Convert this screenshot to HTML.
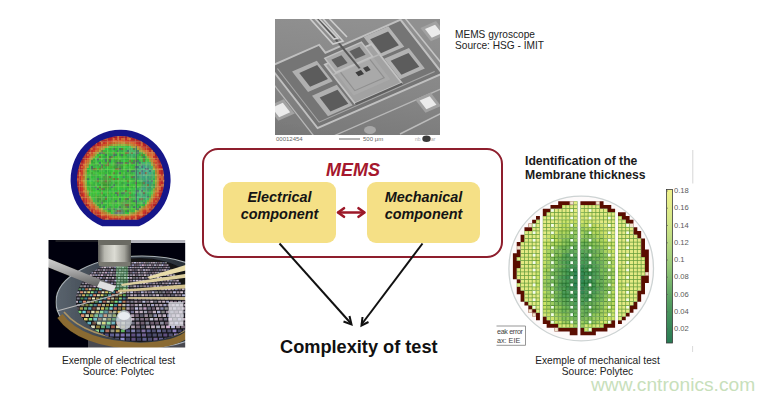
<!DOCTYPE html><html><head><meta charset="utf-8"><style>
*{margin:0;padding:0;box-sizing:border-box}
html,body{width:775px;height:400px;overflow:hidden;background:#fff}
body{position:relative;font-family:"Liberation Sans",sans-serif;color:#111}
.abs{position:absolute}
.t{position:absolute;white-space:nowrap;line-height:1}
</style></head><body>
<svg class="abs" style="left:275px;top:19px" width="165" height="125" viewBox="275 19 165 125"><defs><clipPath id="semc"><rect x="275" y="19" width="165" height="116"/></clipPath><filter id="sblur" x="-5%" y="-5%" width="110%" height="110%"><feGaussianBlur stdDeviation="0.6"/></filter><linearGradient id="semg" x1="0.2" y1="0" x2="0" y2="1"><stop offset="0" stop-color="#909090"/><stop offset="0.5" stop-color="#868686"/><stop offset="1" stop-color="#767676"/></linearGradient></defs><rect x="275" y="19" width="165" height="125" fill="#ffffff"/><g clip-path="url(#semc)"><g filter="url(#sblur)"><rect x="270" y="14" width="175" height="126" fill="url(#semg)"/><g transform="matrix(0.917,-0.402,0.614,0.790,370,37.4)"><g fill="none" stroke="#b8b8b8" stroke-width="1.3"><line x1="-220" y1="78" x2="140" y2="78"/><line x1="-108" y1="-14" x2="-108" y2="140"/></g><polygon points="-100,-14 -46,-14 -46,-4 36,-4 36,64 -100,64" fill="#747474" stroke="#c0c0c0" stroke-width="2"/><polyline points="-95,-9 -95,59 31,59" fill="none" stroke="#a6a6a6" stroke-width="1.1"/><rect x="-85" y="0" width="27" height="26" fill="#b0b0b0"/><rect x="-84" y="31" width="27" height="26" fill="#b0b0b0"/><rect x="-5" y="-3" width="27" height="26" fill="#b4b4b4"/><rect x="-2" y="26" width="27" height="26" fill="#b2b2b2"/><rect x="-54" y="7" width="51" height="49" fill="#a2a2a2" stroke="#c2c2c2" stroke-width="1.8"/><rect x="-50" y="11" width="40" height="37" fill="#a9a9a9"/><rect x="-46" y="18" width="32" height="26" fill="none" stroke="#909090" stroke-width="1.2"/><line x1="-54" y1="20" x2="-3" y2="20" stroke="#b8b8b8" stroke-width="1.5"/><line x1="-54" y1="57" x2="-3" y2="57" stroke="#5e5e5e" stroke-width="2"/><rect x="-1.0" y="1.8" width="19.5" height="17.6" fill="#5c5c5c"/><rect x="2.0" y="30.6" width="19.5" height="17.6" fill="#5c5c5c"/><rect x="-80.0" y="4.3" width="19.5" height="17.6" fill="#5c5c5c"/><rect x="-79.0" y="36.0" width="19.5" height="17.6" fill="#5c5c5c"/><rect x="-50" y="1" width="40" height="18" fill="#a8a8a8" stroke="#c0c0c0" stroke-width="1.5"/><rect x="-45.5" y="5" width="11" height="10" fill="#5e5e5e"/><rect x="-25.5" y="4.5" width="11" height="10" fill="#616161"/><rect x="-34" y="27" width="6" height="5" fill="#3c3c3c"/><rect x="-25" y="26" width="5" height="5" fill="#434343"/><line x1="-30" y1="-40" x2="-28" y2="25" stroke="#585858" stroke-width="2.2"/></g><g fill="none" stroke="#cdcdcd" stroke-width="1.6"><polyline points="304,12 333,44 343,41 317,12"/><polyline points="309,12 334,39 338,38 313,12"/><line x1="323" y1="12" x2="347" y2="37"/></g><line x1="405" y1="18" x2="442" y2="64" stroke="#c4c4c4" stroke-width="1.5"/><line x1="400" y1="134" x2="442" y2="113" stroke="#bcbcbc" stroke-width="1.4"/><g transform="matrix(0.917,-0.402,0.614,0.790,370,37.4)"><rect x="47.0" y="11.9" width="17.0" height="17.0" fill="#a2a2a2"/><rect x="50.0" y="14.9" width="11.0" height="11.0" fill="#ebebeb"/><rect x="-2.6" y="77.2" width="17.0" height="17.0" fill="#a2a2a2"/><rect x="0.4" y="80.2" width="11.0" height="11.0" fill="#ebebeb"/><rect x="-127.3" y="22.7" width="18.0" height="18.0" fill="#a2a2a2"/><rect x="-124.3" y="25.7" width="12.0" height="12.0" fill="#ebebeb"/></g><ellipse cx="370" cy="130" rx="6" ry="4" fill="#a8a8a8"/></g></g><text x="276" y="140.8" font-family="Liberation Sans" font-size="6" fill="#666">00012454</text><line x1="339" y1="139" x2="360" y2="139" stroke="#555" stroke-width="0.9"/><text x="363" y="140.8" font-family="Liberation Sans" font-size="6" fill="#666">500 μm</text><text x="415" y="140.8" font-family="Liberation Sans" font-size="5" fill="#aaa">nb</text><ellipse cx="426.5" cy="138.8" rx="4.2" ry="3.3" fill="#3a3a3a"/><text x="431" y="140.8" font-family="Liberation Sans" font-size="5" fill="#aaa">ar</text></svg>
<svg class="abs" style="left:0;top:0" width="775" height="400" viewBox="0 0 775 400"><defs><clipPath id="ewc"><path d="M102.22 226.30 A50.00 50.00 0 1 1 138.98 226.30 Z"/></clipPath><clipPath id="ewi"><path d="M103.00 219.80 A43.70 43.70 0 1 1 138.20 219.80 Z"/></clipPath><filter id="soft" x="-5%" y="-5%" width="110%" height="110%"><feGaussianBlur stdDeviation="0.45"/></filter></defs><g filter="url(#soft)"><path d="M102.22 226.30 A50.00 50.00 0 1 1 138.98 226.30 Z" fill="#19198a"/><g clip-path="url(#ewi)"><path fill="#a01e28" d="M104.9 136.1h2.05v2.05h-2.05zM106.9 136.1h2.05v2.05h-2.05zM108.9 136.1h2.05v2.05h-2.05zM128.9 136.1h2.05v2.05h-2.05zM132.9 136.1h2.05v2.05h-2.05zM100.9 138.1h2.05v2.05h-2.05zM136.9 138.1h2.05v2.05h-2.05zM138.9 138.1h2.05v2.05h-2.05zM96.9 140.1h2.05v2.05h-2.05zM142.9 140.1h2.05v2.05h-2.05zM90.9 144.1h2.05v2.05h-2.05zM92.9 144.1h2.05v2.05h-2.05zM88.9 146.1h2.05v2.05h-2.05zM148.9 146.1h2.05v2.05h-2.05zM86.9 148.1h2.05v2.05h-2.05zM150.9 148.1h2.05v2.05h-2.05zM84.9 150.1h2.05v2.05h-2.05zM152.9 150.1h2.05v2.05h-2.05zM84.9 152.1h2.05v2.05h-2.05zM154.9 152.1h2.05v2.05h-2.05zM82.9 154.1h2.05v2.05h-2.05zM156.9 154.1h2.05v2.05h-2.05zM80.9 158.1h2.05v2.05h-2.05zM158.9 158.1h2.05v2.05h-2.05zM78.9 160.1h2.05v2.05h-2.05zM160.9 162.1h2.05v2.05h-2.05zM76.9 164.1h2.05v2.05h-2.05zM76.9 166.1h2.05v2.05h-2.05zM162.9 166.1h2.05v2.05h-2.05zM76.9 168.1h2.05v2.05h-2.05zM162.9 168.1h2.05v2.05h-2.05zM162.9 170.1h2.05v2.05h-2.05zM162.9 172.1h2.05v2.05h-2.05zM162.9 186.1h2.05v2.05h-2.05zM76.9 188.1h2.05v2.05h-2.05zM162.9 188.1h2.05v2.05h-2.05zM76.9 190.1h2.05v2.05h-2.05zM162.9 190.1h2.05v2.05h-2.05zM76.9 192.1h2.05v2.05h-2.05zM160.9 194.1h2.05v2.05h-2.05zM78.9 196.1h2.05v2.05h-2.05zM78.9 198.1h2.05v2.05h-2.05zM80.9 200.1h2.05v2.05h-2.05zM80.9 202.1h2.05v2.05h-2.05zM156.9 202.1h2.05v2.05h-2.05zM82.9 204.1h2.05v2.05h-2.05zM156.9 204.1h2.05v2.05h-2.05zM154.9 206.1h2.05v2.05h-2.05zM86.9 208.1h2.05v2.05h-2.05zM150.9 210.1h2.05v2.05h-2.05zM90.9 212.1h2.05v2.05h-2.05zM92.9 214.1h2.05v2.05h-2.05zM146.9 214.1h2.05v2.05h-2.05zM94.9 216.1h2.05v2.05h-2.05zM142.9 216.1h2.05v2.05h-2.05zM98.9 218.1h2.05v2.05h-2.05zM138.9 218.1h2.05v2.05h-2.05zM140.9 218.1h2.05v2.05h-2.05zM102.9 220.1h2.05v2.05h-2.05zM104.9 220.1h2.05v2.05h-2.05zM106.9 220.1h2.05v2.05h-2.05zM108.9 220.1h2.05v2.05h-2.05zM110.9 220.1h2.05v2.05h-2.05zM114.9 220.1h2.05v2.05h-2.05zM116.9 220.1h2.05v2.05h-2.05zM118.9 220.1h2.05v2.05h-2.05zM122.9 220.1h2.05v2.05h-2.05zM124.9 220.1h2.05v2.05h-2.05zM126.9 220.1h2.05v2.05h-2.05zM128.9 220.1h2.05v2.05h-2.05zM132.9 220.1h2.05v2.05h-2.05zM134.9 220.1h2.05v2.05h-2.05zM106.9 222.1h2.05v2.05h-2.05zM108.9 222.1h2.05v2.05h-2.05zM110.9 222.1h2.05v2.05h-2.05zM114.9 222.1h2.05v2.05h-2.05zM116.9 222.1h2.05v2.05h-2.05zM120.9 222.1h2.05v2.05h-2.05zM122.9 222.1h2.05v2.05h-2.05zM124.9 222.1h2.05v2.05h-2.05zM126.9 222.1h2.05v2.05h-2.05zM128.9 222.1h2.05v2.05h-2.05zM130.9 222.1h2.05v2.05h-2.05z"/><path fill="#aa1e28" d="M110.9 136.1h2.05v2.05h-2.05zM112.9 136.1h2.05v2.05h-2.05zM114.9 136.1h2.05v2.05h-2.05zM124.9 136.1h2.05v2.05h-2.05zM134.9 138.1h2.05v2.05h-2.05zM100.9 140.1h2.05v2.05h-2.05zM138.9 140.1h2.05v2.05h-2.05zM96.9 142.1h2.05v2.05h-2.05zM142.9 142.1h2.05v2.05h-2.05zM144.9 144.1h2.05v2.05h-2.05zM90.9 146.1h2.05v2.05h-2.05zM88.9 148.1h2.05v2.05h-2.05zM86.9 150.1h2.05v2.05h-2.05zM154.9 154.1h2.05v2.05h-2.05zM82.9 156.1h2.05v2.05h-2.05zM156.9 156.1h2.05v2.05h-2.05zM80.9 160.1h2.05v2.05h-2.05zM158.9 160.1h2.05v2.05h-2.05zM78.9 164.1h2.05v2.05h-2.05zM160.9 166.1h2.05v2.05h-2.05zM76.9 170.1h2.05v2.05h-2.05zM76.9 172.1h2.05v2.05h-2.05zM76.9 174.1h2.05v2.05h-2.05zM162.9 176.1h2.05v2.05h-2.05zM162.9 178.1h2.05v2.05h-2.05zM162.9 182.1h2.05v2.05h-2.05zM76.9 184.1h2.05v2.05h-2.05zM76.9 186.1h2.05v2.05h-2.05zM160.9 192.1h2.05v2.05h-2.05zM158.9 196.1h2.05v2.05h-2.05zM156.9 200.1h2.05v2.05h-2.05zM82.9 202.1h2.05v2.05h-2.05zM84.9 204.1h2.05v2.05h-2.05zM154.9 204.1h2.05v2.05h-2.05zM146.9 212.1h2.05v2.05h-2.05zM94.9 214.1h2.05v2.05h-2.05zM144.9 214.1h2.05v2.05h-2.05zM96.9 216.1h2.05v2.05h-2.05zM140.9 216.1h2.05v2.05h-2.05zM100.9 218.1h2.05v2.05h-2.05zM136.9 218.1h2.05v2.05h-2.05z"/><path fill="#c85a32" d="M116.9 136.1h2.05v2.05h-2.05zM126.9 136.1h2.05v2.05h-2.05zM130.9 136.1h2.05v2.05h-2.05zM102.9 138.1h2.05v2.05h-2.05zM104.9 138.1h2.05v2.05h-2.05zM98.9 140.1h2.05v2.05h-2.05zM140.9 140.1h2.05v2.05h-2.05zM94.9 142.1h2.05v2.05h-2.05zM140.9 142.1h2.05v2.05h-2.05zM144.9 142.1h2.05v2.05h-2.05zM146.9 144.1h2.05v2.05h-2.05zM150.9 150.1h2.05v2.05h-2.05zM152.9 152.1h2.05v2.05h-2.05zM80.9 156.1h2.05v2.05h-2.05zM78.9 162.1h2.05v2.05h-2.05zM160.9 164.1h2.05v2.05h-2.05zM160.9 168.1h2.05v2.05h-2.05zM162.9 174.1h2.05v2.05h-2.05zM76.9 178.1h2.05v2.05h-2.05zM162.9 180.1h2.05v2.05h-2.05zM162.9 184.1h2.05v2.05h-2.05zM78.9 194.1h2.05v2.05h-2.05zM80.9 196.1h2.05v2.05h-2.05zM160.9 196.1h2.05v2.05h-2.05zM80.9 198.1h2.05v2.05h-2.05zM158.9 198.1h2.05v2.05h-2.05zM158.9 200.1h2.05v2.05h-2.05zM84.9 206.1h2.05v2.05h-2.05zM86.9 206.1h2.05v2.05h-2.05zM152.9 206.1h2.05v2.05h-2.05zM152.9 208.1h2.05v2.05h-2.05zM88.9 210.1h2.05v2.05h-2.05zM148.9 210.1h2.05v2.05h-2.05zM92.9 212.1h2.05v2.05h-2.05zM148.9 212.1h2.05v2.05h-2.05zM144.9 216.1h2.05v2.05h-2.05zM112.9 220.1h2.05v2.05h-2.05zM120.9 220.1h2.05v2.05h-2.05zM130.9 220.1h2.05v2.05h-2.05zM136.9 220.1h2.05v2.05h-2.05zM112.9 222.1h2.05v2.05h-2.05zM118.9 222.1h2.05v2.05h-2.05z"/><path fill="#b42828" d="M118.9 136.1h2.05v2.05h-2.05zM120.9 136.1h2.05v2.05h-2.05zM106.9 138.1h2.05v2.05h-2.05zM108.9 138.1h2.05v2.05h-2.05zM130.9 138.1h2.05v2.05h-2.05zM102.9 140.1h2.05v2.05h-2.05zM136.9 140.1h2.05v2.05h-2.05zM98.9 142.1h2.05v2.05h-2.05zM94.9 144.1h2.05v2.05h-2.05zM142.9 144.1h2.05v2.05h-2.05zM92.9 146.1h2.05v2.05h-2.05zM146.9 146.1h2.05v2.05h-2.05zM148.9 148.1h2.05v2.05h-2.05zM88.9 150.1h2.05v2.05h-2.05zM86.9 152.1h2.05v2.05h-2.05zM84.9 154.1h2.05v2.05h-2.05zM154.9 156.1h2.05v2.05h-2.05zM82.9 158.1h2.05v2.05h-2.05zM156.9 158.1h2.05v2.05h-2.05zM80.9 162.1h2.05v2.05h-2.05zM158.9 162.1h2.05v2.05h-2.05zM158.9 164.1h2.05v2.05h-2.05zM78.9 166.1h2.05v2.05h-2.05zM78.9 168.1h2.05v2.05h-2.05zM160.9 170.1h2.05v2.05h-2.05zM160.9 172.1h2.05v2.05h-2.05zM76.9 180.1h2.05v2.05h-2.05zM160.9 186.1h2.05v2.05h-2.05zM160.9 188.1h2.05v2.05h-2.05zM78.9 190.1h2.05v2.05h-2.05zM158.9 194.1h2.05v2.05h-2.05zM156.9 198.1h2.05v2.05h-2.05zM82.9 200.1h2.05v2.05h-2.05zM84.9 202.1h2.05v2.05h-2.05zM154.9 202.1h2.05v2.05h-2.05zM152.9 204.1h2.05v2.05h-2.05zM88.9 208.1h2.05v2.05h-2.05zM90.9 210.1h2.05v2.05h-2.05zM144.9 212.1h2.05v2.05h-2.05zM96.9 214.1h2.05v2.05h-2.05zM142.9 214.1h2.05v2.05h-2.05zM98.9 216.1h2.05v2.05h-2.05zM138.9 216.1h2.05v2.05h-2.05zM102.9 218.1h2.05v2.05h-2.05z"/><path fill="#aa2828" d="M122.9 136.1h2.05v2.05h-2.05zM132.9 138.1h2.05v2.05h-2.05zM76.9 176.1h2.05v2.05h-2.05zM76.9 182.1h2.05v2.05h-2.05zM160.9 190.1h2.05v2.05h-2.05zM78.9 192.1h2.05v2.05h-2.05zM150.9 208.1h2.05v2.05h-2.05z"/><path fill="#be2828" d="M110.9 138.1h2.05v2.05h-2.05zM104.9 140.1h2.05v2.05h-2.05zM134.9 140.1h2.05v2.05h-2.05zM138.9 142.1h2.05v2.05h-2.05zM96.9 144.1h2.05v2.05h-2.05zM144.9 146.1h2.05v2.05h-2.05zM84.9 156.1h2.05v2.05h-2.05zM156.9 160.1h2.05v2.05h-2.05zM80.9 164.1h2.05v2.05h-2.05zM158.9 166.1h2.05v2.05h-2.05zM78.9 170.1h2.05v2.05h-2.05zM160.9 174.1h2.05v2.05h-2.05zM160.9 180.1h2.05v2.05h-2.05zM160.9 182.1h2.05v2.05h-2.05zM78.9 186.1h2.05v2.05h-2.05zM78.9 188.1h2.05v2.05h-2.05zM158.9 192.1h2.05v2.05h-2.05zM80.9 194.1h2.05v2.05h-2.05zM82.9 198.1h2.05v2.05h-2.05zM86.9 204.1h2.05v2.05h-2.05zM150.9 206.1h2.05v2.05h-2.05zM148.9 208.1h2.05v2.05h-2.05zM94.9 212.1h2.05v2.05h-2.05zM100.9 216.1h2.05v2.05h-2.05zM108.9 218.1h2.05v2.05h-2.05zM110.9 218.1h2.05v2.05h-2.05zM112.9 218.1h2.05v2.05h-2.05zM114.9 218.1h2.05v2.05h-2.05zM116.9 218.1h2.05v2.05h-2.05zM118.9 218.1h2.05v2.05h-2.05zM124.9 218.1h2.05v2.05h-2.05zM126.9 218.1h2.05v2.05h-2.05zM130.9 218.1h2.05v2.05h-2.05z"/><path fill="#d26432" d="M112.9 138.1h2.05v2.05h-2.05zM116.9 138.1h2.05v2.05h-2.05zM120.9 138.1h2.05v2.05h-2.05zM122.9 138.1h2.05v2.05h-2.05zM126.9 138.1h2.05v2.05h-2.05zM128.9 138.1h2.05v2.05h-2.05zM100.9 142.1h2.05v2.05h-2.05zM140.9 144.1h2.05v2.05h-2.05zM90.9 148.1h2.05v2.05h-2.05zM88.9 152.1h2.05v2.05h-2.05zM150.9 152.1h2.05v2.05h-2.05zM86.9 154.1h2.05v2.05h-2.05zM152.9 154.1h2.05v2.05h-2.05zM88.9 156.1h2.05v2.05h-2.05zM80.9 166.1h2.05v2.05h-2.05zM158.9 168.1h2.05v2.05h-2.05zM78.9 172.1h2.05v2.05h-2.05zM78.9 174.1h2.05v2.05h-2.05zM160.9 176.1h2.05v2.05h-2.05zM160.9 178.1h2.05v2.05h-2.05zM78.9 182.1h2.05v2.05h-2.05zM160.9 184.1h2.05v2.05h-2.05zM158.9 188.1h2.05v2.05h-2.05zM154.9 200.1h2.05v2.05h-2.05zM92.9 210.1h2.05v2.05h-2.05zM146.9 210.1h2.05v2.05h-2.05zM140.9 214.1h2.05v2.05h-2.05zM104.9 218.1h2.05v2.05h-2.05zM106.9 218.1h2.05v2.05h-2.05zM120.9 218.1h2.05v2.05h-2.05zM122.9 218.1h2.05v2.05h-2.05zM128.9 218.1h2.05v2.05h-2.05zM132.9 218.1h2.05v2.05h-2.05z"/><path fill="#be3228" d="M114.9 138.1h2.05v2.05h-2.05zM124.9 138.1h2.05v2.05h-2.05zM132.9 140.1h2.05v2.05h-2.05zM94.9 146.1h2.05v2.05h-2.05zM146.9 148.1h2.05v2.05h-2.05zM148.9 150.1h2.05v2.05h-2.05zM154.9 158.1h2.05v2.05h-2.05zM82.9 160.1h2.05v2.05h-2.05zM156.9 162.1h2.05v2.05h-2.05zM78.9 184.1h2.05v2.05h-2.05zM158.9 190.1h2.05v2.05h-2.05zM80.9 192.1h2.05v2.05h-2.05zM156.9 196.1h2.05v2.05h-2.05zM88.9 206.1h2.05v2.05h-2.05zM90.9 208.1h2.05v2.05h-2.05zM98.9 214.1h2.05v2.05h-2.05zM102.9 216.1h2.05v2.05h-2.05zM136.9 216.1h2.05v2.05h-2.05z"/><path fill="#c83228" d="M118.9 138.1h2.05v2.05h-2.05zM106.9 140.1h2.05v2.05h-2.05zM108.9 140.1h2.05v2.05h-2.05zM130.9 140.1h2.05v2.05h-2.05zM102.9 142.1h2.05v2.05h-2.05zM136.9 142.1h2.05v2.05h-2.05zM98.9 144.1h2.05v2.05h-2.05zM142.9 146.1h2.05v2.05h-2.05zM92.9 148.1h2.05v2.05h-2.05zM90.9 150.1h2.05v2.05h-2.05zM152.9 156.1h2.05v2.05h-2.05zM84.9 158.1h2.05v2.05h-2.05zM82.9 162.1h2.05v2.05h-2.05zM156.9 164.1h2.05v2.05h-2.05zM80.9 168.1h2.05v2.05h-2.05zM158.9 170.1h2.05v2.05h-2.05zM158.9 172.1h2.05v2.05h-2.05zM78.9 176.1h2.05v2.05h-2.05zM78.9 178.1h2.05v2.05h-2.05zM78.9 180.1h2.05v2.05h-2.05zM80.9 190.1h2.05v2.05h-2.05zM82.9 196.1h2.05v2.05h-2.05zM154.9 198.1h2.05v2.05h-2.05zM84.9 200.1h2.05v2.05h-2.05zM152.9 202.1h2.05v2.05h-2.05zM150.9 204.1h2.05v2.05h-2.05zM94.9 210.1h2.05v2.05h-2.05zM144.9 210.1h2.05v2.05h-2.05zM96.9 212.1h2.05v2.05h-2.05zM142.9 212.1h2.05v2.05h-2.05zM104.9 216.1h2.05v2.05h-2.05z"/><path fill="#d23c28" d="M110.9 140.1h2.05v2.05h-2.05zM124.9 140.1h2.05v2.05h-2.05zM126.9 140.1h2.05v2.05h-2.05zM104.9 142.1h2.05v2.05h-2.05zM100.9 144.1h2.05v2.05h-2.05zM140.9 146.1h2.05v2.05h-2.05zM94.9 148.1h2.05v2.05h-2.05zM92.9 150.1h2.05v2.05h-2.05zM90.9 152.1h2.05v2.05h-2.05zM88.9 154.1h2.05v2.05h-2.05zM154.9 162.1h2.05v2.05h-2.05zM156.9 166.1h2.05v2.05h-2.05zM80.9 170.1h2.05v2.05h-2.05zM80.9 172.1h2.05v2.05h-2.05zM80.9 174.1h2.05v2.05h-2.05zM158.9 178.1h2.05v2.05h-2.05zM158.9 180.1h2.05v2.05h-2.05zM158.9 182.1h2.05v2.05h-2.05zM80.9 184.1h2.05v2.05h-2.05zM158.9 184.1h2.05v2.05h-2.05zM80.9 186.1h2.05v2.05h-2.05zM82.9 192.1h2.05v2.05h-2.05zM156.9 192.1h2.05v2.05h-2.05zM154.9 196.1h2.05v2.05h-2.05zM152.9 200.1h2.05v2.05h-2.05zM150.9 202.1h2.05v2.05h-2.05zM92.9 208.1h2.05v2.05h-2.05zM142.9 210.1h2.05v2.05h-2.05zM98.9 212.1h2.05v2.05h-2.05zM136.9 214.1h2.05v2.05h-2.05zM106.9 216.1h2.05v2.05h-2.05zM130.9 216.1h2.05v2.05h-2.05zM132.9 216.1h2.05v2.05h-2.05z"/><path fill="#dc6432" d="M112.9 140.1h2.05v2.05h-2.05zM114.9 140.1h2.05v2.05h-2.05zM132.9 142.1h2.05v2.05h-2.05zM96.9 146.1h2.05v2.05h-2.05zM146.9 150.1h2.05v2.05h-2.05zM148.9 152.1h2.05v2.05h-2.05zM150.9 154.1h2.05v2.05h-2.05zM152.9 158.1h2.05v2.05h-2.05zM84.9 160.1h2.05v2.05h-2.05zM154.9 160.1h2.05v2.05h-2.05zM82.9 164.1h2.05v2.05h-2.05zM158.9 174.1h2.05v2.05h-2.05zM158.9 176.1h2.05v2.05h-2.05zM158.9 186.1h2.05v2.05h-2.05zM156.9 190.1h2.05v2.05h-2.05zM156.9 194.1h2.05v2.05h-2.05zM86.9 200.1h2.05v2.05h-2.05zM86.9 202.1h2.05v2.05h-2.05zM88.9 202.1h2.05v2.05h-2.05zM88.9 204.1h2.05v2.05h-2.05zM90.9 206.1h2.05v2.05h-2.05zM148.9 206.1h2.05v2.05h-2.05zM146.9 208.1h2.05v2.05h-2.05zM138.9 212.1h2.05v2.05h-2.05zM140.9 212.1h2.05v2.05h-2.05zM100.9 214.1h2.05v2.05h-2.05zM102.9 214.1h2.05v2.05h-2.05zM138.9 214.1h2.05v2.05h-2.05zM134.9 216.1h2.05v2.05h-2.05z"/><path fill="#dc5028" d="M116.9 140.1h2.05v2.05h-2.05zM82.9 166.1h2.05v2.05h-2.05zM80.9 182.1h2.05v2.05h-2.05zM84.9 196.1h2.05v2.05h-2.05zM148.9 204.1h2.05v2.05h-2.05zM144.9 208.1h2.05v2.05h-2.05zM96.9 210.1h2.05v2.05h-2.05z"/><path fill="#dc5a28" d="M118.9 140.1h2.05v2.05h-2.05zM98.9 146.1h2.05v2.05h-2.05zM156.9 168.1h2.05v2.05h-2.05zM80.9 176.1h2.05v2.05h-2.05zM134.9 214.1h2.05v2.05h-2.05zM108.9 216.1h2.05v2.05h-2.05z"/><path fill="#dc6428" d="M120.9 140.1h2.05v2.05h-2.05zM106.9 142.1h2.05v2.05h-2.05zM86.9 158.1h2.05v2.05h-2.05zM84.9 162.1h2.05v2.05h-2.05zM156.9 170.1h2.05v2.05h-2.05zM80.9 178.1h2.05v2.05h-2.05zM80.9 180.1h2.05v2.05h-2.05zM154.9 194.1h2.05v2.05h-2.05zM146.9 206.1h2.05v2.05h-2.05zM110.9 216.1h2.05v2.05h-2.05z"/><path fill="#d25028" d="M122.9 140.1h2.05v2.05h-2.05zM108.9 142.1h2.05v2.05h-2.05zM136.9 144.1h2.05v2.05h-2.05zM152.9 198.1h2.05v2.05h-2.05z"/><path fill="#d23228" d="M128.9 140.1h2.05v2.05h-2.05zM134.9 142.1h2.05v2.05h-2.05zM138.9 144.1h2.05v2.05h-2.05zM144.9 148.1h2.05v2.05h-2.05zM86.9 156.1h2.05v2.05h-2.05zM80.9 188.1h2.05v2.05h-2.05zM82.9 194.1h2.05v2.05h-2.05zM84.9 198.1h2.05v2.05h-2.05z"/><path fill="#c85a28" d="M110.9 142.1h2.05v2.05h-2.05zM82.9 188.1h2.05v2.05h-2.05zM124.9 216.1h2.05v2.05h-2.05z"/><path fill="#c86428" d="M112.9 142.1h2.05v2.05h-2.05zM104.9 144.1h2.05v2.05h-2.05zM100.9 146.1h2.05v2.05h-2.05zM154.9 166.1h2.05v2.05h-2.05zM88.9 200.1h2.05v2.05h-2.05zM148.9 202.1h2.05v2.05h-2.05zM142.9 208.1h2.05v2.05h-2.05zM136.9 212.1h2.05v2.05h-2.05z"/><path fill="#c88232" d="M114.9 142.1h2.05v2.05h-2.05zM118.9 142.1h2.05v2.05h-2.05zM136.9 146.1h2.05v2.05h-2.05zM98.9 148.1h2.05v2.05h-2.05zM88.9 158.1h2.05v2.05h-2.05zM82.9 174.1h2.05v2.05h-2.05zM82.9 182.1h2.05v2.05h-2.05zM154.9 190.1h2.05v2.05h-2.05zM108.9 214.1h2.05v2.05h-2.05z"/><path fill="#be7832" d="M116.9 142.1h2.05v2.05h-2.05zM96.9 150.1h2.05v2.05h-2.05zM144.9 152.1h2.05v2.05h-2.05zM154.9 168.1h2.05v2.05h-2.05zM82.9 178.1h2.05v2.05h-2.05zM150.9 198.1h2.05v2.05h-2.05zM92.9 204.1h2.05v2.05h-2.05zM138.9 210.1h2.05v2.05h-2.05z"/><path fill="#c88c3c" d="M120.9 142.1h2.05v2.05h-2.05zM122.9 142.1h2.05v2.05h-2.05zM142.9 150.1h2.05v2.05h-2.05zM90.9 156.1h2.05v2.05h-2.05zM84.9 166.1h2.05v2.05h-2.05zM82.9 180.1h2.05v2.05h-2.05zM128.9 214.1h2.05v2.05h-2.05z"/><path fill="#c86e32" d="M124.9 142.1h2.05v2.05h-2.05zM140.9 148.1h2.05v2.05h-2.05zM156.9 176.1h2.05v2.05h-2.05zM156.9 180.1h2.05v2.05h-2.05zM152.9 196.1h2.05v2.05h-2.05zM146.9 204.1h2.05v2.05h-2.05z"/><path fill="#c86e28" d="M126.9 142.1h2.05v2.05h-2.05zM150.9 158.1h2.05v2.05h-2.05zM156.9 174.1h2.05v2.05h-2.05zM156.9 182.1h2.05v2.05h-2.05zM82.9 186.1h2.05v2.05h-2.05z"/><path fill="#d26e32" d="M128.9 142.1h2.05v2.05h-2.05zM156.9 184.1h2.05v2.05h-2.05zM156.9 186.1h2.05v2.05h-2.05zM84.9 194.1h2.05v2.05h-2.05zM86.9 198.1h2.05v2.05h-2.05zM106.9 214.1h2.05v2.05h-2.05z"/><path fill="#dc6e32" d="M130.9 142.1h2.05v2.05h-2.05zM144.9 150.1h2.05v2.05h-2.05zM148.9 154.1h2.05v2.05h-2.05zM150.9 156.1h2.05v2.05h-2.05zM152.9 160.1h2.05v2.05h-2.05zM154.9 164.1h2.05v2.05h-2.05zM82.9 190.1h2.05v2.05h-2.05zM90.9 204.1h2.05v2.05h-2.05z"/><path fill="#d25a28" d="M102.9 144.1h2.05v2.05h-2.05zM142.9 148.1h2.05v2.05h-2.05zM82.9 168.1h2.05v2.05h-2.05zM92.9 206.1h2.05v2.05h-2.05zM104.9 214.1h2.05v2.05h-2.05zM116.9 216.1h2.05v2.05h-2.05zM126.9 216.1h2.05v2.05h-2.05zM128.9 216.1h2.05v2.05h-2.05z"/><path fill="#be6e28" d="M106.9 144.1h2.05v2.05h-2.05zM146.9 154.1h2.05v2.05h-2.05zM86.9 196.1h2.05v2.05h-2.05z"/><path fill="#aa8232" d="M108.9 144.1h2.05v2.05h-2.05zM88.9 198.1h2.05v2.05h-2.05z"/><path fill="#a08c32" d="M110.9 144.1h2.05v2.05h-2.05zM142.9 206.1h2.05v2.05h-2.05zM132.9 212.1h2.05v2.05h-2.05z"/><path fill="#aaa03c" d="M112.9 144.1h2.05v2.05h-2.05zM132.9 146.1h2.05v2.05h-2.05zM142.9 152.1h2.05v2.05h-2.05zM92.9 202.1h2.05v2.05h-2.05zM94.9 204.1h2.05v2.05h-2.05zM120.9 214.1h2.05v2.05h-2.05z"/><path fill="#aaaa3c" d="M114.9 144.1h2.05v2.05h-2.05zM136.9 148.1h2.05v2.05h-2.05zM86.9 166.1h2.05v2.05h-2.05zM154.9 180.1h2.05v2.05h-2.05z"/><path fill="#8caa3c" d="M116.9 144.1h2.05v2.05h-2.05zM94.9 154.1h2.05v2.05h-2.05zM150.9 194.1h2.05v2.05h-2.05z"/><path fill="#82b43c" d="M118.9 144.1h2.05v2.05h-2.05zM90.9 198.1h2.05v2.05h-2.05zM146.9 200.1h2.05v2.05h-2.05z"/><path fill="#a0b446" d="M120.9 144.1h2.05v2.05h-2.05z"/><path fill="#96b43c" d="M122.9 144.1h2.05v2.05h-2.05zM138.9 150.1h2.05v2.05h-2.05zM84.9 176.1h2.05v2.05h-2.05zM84.9 180.1h2.05v2.05h-2.05zM86.9 190.1h2.05v2.05h-2.05zM128.9 212.1h2.05v2.05h-2.05z"/><path fill="#96aa3c" d="M124.9 144.1h2.05v2.05h-2.05zM106.9 146.1h2.05v2.05h-2.05zM84.9 174.1h2.05v2.05h-2.05zM84.9 184.1h2.05v2.05h-2.05zM108.9 212.1h2.05v2.05h-2.05z"/><path fill="#a09632" d="M126.9 144.1h2.05v2.05h-2.05zM84.9 170.1h2.05v2.05h-2.05zM106.9 212.1h2.05v2.05h-2.05zM114.9 214.1h2.05v2.05h-2.05z"/><path fill="#b4963c" d="M128.9 144.1h2.05v2.05h-2.05zM134.9 146.1h2.05v2.05h-2.05zM100.9 148.1h2.05v2.05h-2.05zM88.9 160.1h2.05v2.05h-2.05zM152.9 192.1h2.05v2.05h-2.05zM144.9 204.1h2.05v2.05h-2.05zM98.9 208.1h2.05v2.05h-2.05zM136.9 210.1h2.05v2.05h-2.05zM126.9 214.1h2.05v2.05h-2.05z"/><path fill="#be8c3c" d="M130.9 144.1h2.05v2.05h-2.05z"/><path fill="#c87832" d="M132.9 144.1h2.05v2.05h-2.05zM82.9 172.1h2.05v2.05h-2.05zM82.9 184.1h2.05v2.05h-2.05zM84.9 192.1h2.05v2.05h-2.05zM144.9 206.1h2.05v2.05h-2.05zM102.9 212.1h2.05v2.05h-2.05zM130.9 214.1h2.05v2.05h-2.05z"/><path fill="#d26428" d="M134.9 144.1h2.05v2.05h-2.05zM138.9 146.1h2.05v2.05h-2.05zM96.9 148.1h2.05v2.05h-2.05zM94.9 150.1h2.05v2.05h-2.05zM146.9 152.1h2.05v2.05h-2.05zM90.9 154.1h2.05v2.05h-2.05zM156.9 172.1h2.05v2.05h-2.05zM154.9 192.1h2.05v2.05h-2.05zM94.9 208.1h2.05v2.05h-2.05zM140.9 210.1h2.05v2.05h-2.05zM100.9 212.1h2.05v2.05h-2.05zM112.9 216.1h2.05v2.05h-2.05zM120.9 216.1h2.05v2.05h-2.05zM122.9 216.1h2.05v2.05h-2.05z"/><path fill="#c88c32" d="M102.9 146.1h2.05v2.05h-2.05z"/><path fill="#aa8c32" d="M104.9 146.1h2.05v2.05h-2.05zM86.9 164.1h2.05v2.05h-2.05zM154.9 172.1h2.05v2.05h-2.05zM86.9 194.1h2.05v2.05h-2.05zM112.9 214.1h2.05v2.05h-2.05z"/><path fill="#46c846" d="M108.9 146.1h2.05v2.05h-2.05zM100.9 158.1h2.05v2.05h-2.05zM118.9 158.1h2.05v2.05h-2.05zM130.9 158.1h2.05v2.05h-2.05zM146.9 160.1h2.05v2.05h-2.05zM96.9 162.1h2.05v2.05h-2.05zM98.9 164.1h2.05v2.05h-2.05zM122.9 166.1h2.05v2.05h-2.05zM124.9 166.1h2.05v2.05h-2.05zM128.9 168.1h2.05v2.05h-2.05zM90.9 170.1h2.05v2.05h-2.05zM88.9 174.1h2.05v2.05h-2.05zM90.9 178.1h2.05v2.05h-2.05zM98.9 182.1h2.05v2.05h-2.05zM128.9 188.1h2.05v2.05h-2.05zM130.9 188.1h2.05v2.05h-2.05zM122.9 190.1h2.05v2.05h-2.05zM150.9 192.1h2.05v2.05h-2.05zM108.9 198.1h2.05v2.05h-2.05zM104.9 202.1h2.05v2.05h-2.05zM108.9 204.1h2.05v2.05h-2.05zM110.9 204.1h2.05v2.05h-2.05zM114.9 204.1h2.05v2.05h-2.05z"/><path fill="#3cc83c" d="M110.9 146.1h2.05v2.05h-2.05zM120.9 146.1h2.05v2.05h-2.05zM106.9 154.1h2.05v2.05h-2.05zM116.9 154.1h2.05v2.05h-2.05zM124.9 156.1h2.05v2.05h-2.05zM94.9 162.1h2.05v2.05h-2.05zM100.9 162.1h2.05v2.05h-2.05zM110.9 164.1h2.05v2.05h-2.05zM96.9 166.1h2.05v2.05h-2.05zM106.9 166.1h2.05v2.05h-2.05zM106.9 168.1h2.05v2.05h-2.05zM122.9 178.1h2.05v2.05h-2.05zM124.9 180.1h2.05v2.05h-2.05zM132.9 184.1h2.05v2.05h-2.05zM90.9 192.1h2.05v2.05h-2.05zM108.9 192.1h2.05v2.05h-2.05zM126.9 194.1h2.05v2.05h-2.05z"/><path fill="#3cb43c" d="M112.9 146.1h2.05v2.05h-2.05zM114.9 150.1h2.05v2.05h-2.05zM104.9 152.1h2.05v2.05h-2.05zM120.9 164.1h2.05v2.05h-2.05zM128.9 166.1h2.05v2.05h-2.05zM100.9 170.1h2.05v2.05h-2.05zM124.9 170.1h2.05v2.05h-2.05zM106.9 172.1h2.05v2.05h-2.05zM114.9 176.1h2.05v2.05h-2.05zM132.9 180.1h2.05v2.05h-2.05zM136.9 182.1h2.05v2.05h-2.05zM86.9 184.1h2.05v2.05h-2.05zM90.9 184.1h2.05v2.05h-2.05zM92.9 184.1h2.05v2.05h-2.05zM96.9 184.1h2.05v2.05h-2.05zM128.9 184.1h2.05v2.05h-2.05zM106.9 190.1h2.05v2.05h-2.05zM98.9 202.1h2.05v2.05h-2.05zM102.9 204.1h2.05v2.05h-2.05zM136.9 204.1h2.05v2.05h-2.05zM100.9 206.1h2.05v2.05h-2.05z"/><path fill="#46be3c" d="M114.9 146.1h2.05v2.05h-2.05zM120.9 152.1h2.05v2.05h-2.05zM94.9 156.1h2.05v2.05h-2.05zM116.9 156.1h2.05v2.05h-2.05zM128.9 158.1h2.05v2.05h-2.05zM92.9 160.1h2.05v2.05h-2.05zM102.9 160.1h2.05v2.05h-2.05zM108.9 164.1h2.05v2.05h-2.05zM92.9 170.1h2.05v2.05h-2.05zM88.9 176.1h2.05v2.05h-2.05zM122.9 180.1h2.05v2.05h-2.05zM94.9 182.1h2.05v2.05h-2.05zM116.9 184.1h2.05v2.05h-2.05zM88.9 186.1h2.05v2.05h-2.05zM88.9 190.1h2.05v2.05h-2.05zM150.9 190.1h2.05v2.05h-2.05zM130.9 192.1h2.05v2.05h-2.05zM90.9 194.1h2.05v2.05h-2.05zM96.9 194.1h2.05v2.05h-2.05zM100.9 194.1h2.05v2.05h-2.05zM90.9 196.1h2.05v2.05h-2.05zM124.9 196.1h2.05v2.05h-2.05zM116.9 198.1h2.05v2.05h-2.05zM102.9 202.1h2.05v2.05h-2.05zM130.9 202.1h2.05v2.05h-2.05zM110.9 208.1h2.05v2.05h-2.05z"/><path fill="#32b446" d="M116.9 146.1h2.05v2.05h-2.05zM114.9 152.1h2.05v2.05h-2.05zM110.9 154.1h2.05v2.05h-2.05zM96.9 160.1h2.05v2.05h-2.05zM112.9 160.1h2.05v2.05h-2.05zM138.9 160.1h2.05v2.05h-2.05zM98.9 166.1h2.05v2.05h-2.05zM90.9 174.1h2.05v2.05h-2.05zM100.9 174.1h2.05v2.05h-2.05zM134.9 180.1h2.05v2.05h-2.05zM86.9 182.1h2.05v2.05h-2.05zM96.9 182.1h2.05v2.05h-2.05zM90.9 186.1h2.05v2.05h-2.05zM122.9 188.1h2.05v2.05h-2.05zM124.9 188.1h2.05v2.05h-2.05zM88.9 192.1h2.05v2.05h-2.05zM112.9 194.1h2.05v2.05h-2.05zM122.9 194.1h2.05v2.05h-2.05zM130.9 194.1h2.05v2.05h-2.05zM104.9 204.1h2.05v2.05h-2.05z"/><path fill="#3cc846" d="M118.9 146.1h2.05v2.05h-2.05zM98.9 154.1h2.05v2.05h-2.05zM96.9 156.1h2.05v2.05h-2.05zM94.9 158.1h2.05v2.05h-2.05zM122.9 160.1h2.05v2.05h-2.05zM122.9 168.1h2.05v2.05h-2.05zM102.9 170.1h2.05v2.05h-2.05zM120.9 180.1h2.05v2.05h-2.05zM118.9 182.1h2.05v2.05h-2.05zM132.9 188.1h2.05v2.05h-2.05zM120.9 196.1h2.05v2.05h-2.05zM92.9 198.1h2.05v2.05h-2.05zM130.9 206.1h2.05v2.05h-2.05zM124.9 212.1h2.05v2.05h-2.05z"/><path fill="#32be46" d="M122.9 146.1h2.05v2.05h-2.05zM126.9 146.1h2.05v2.05h-2.05zM124.9 148.1h2.05v2.05h-2.05zM118.9 150.1h2.05v2.05h-2.05zM102.9 154.1h2.05v2.05h-2.05zM102.9 158.1h2.05v2.05h-2.05zM122.9 158.1h2.05v2.05h-2.05zM88.9 164.1h2.05v2.05h-2.05zM86.9 168.1h2.05v2.05h-2.05zM110.9 168.1h2.05v2.05h-2.05zM116.9 172.1h2.05v2.05h-2.05zM96.9 174.1h2.05v2.05h-2.05zM120.9 176.1h2.05v2.05h-2.05zM126.9 176.1h2.05v2.05h-2.05zM86.9 180.1h2.05v2.05h-2.05zM90.9 180.1h2.05v2.05h-2.05zM120.9 188.1h2.05v2.05h-2.05zM108.9 196.1h2.05v2.05h-2.05zM106.9 198.1h2.05v2.05h-2.05zM140.9 204.1h2.05v2.05h-2.05z"/><path fill="#32c846" d="M124.9 146.1h2.05v2.05h-2.05zM138.9 158.1h2.05v2.05h-2.05zM110.9 162.1h2.05v2.05h-2.05zM88.9 166.1h2.05v2.05h-2.05zM116.9 176.1h2.05v2.05h-2.05zM118.9 176.1h2.05v2.05h-2.05zM88.9 180.1h2.05v2.05h-2.05zM128.9 182.1h2.05v2.05h-2.05zM126.9 188.1h2.05v2.05h-2.05zM108.9 190.1h2.05v2.05h-2.05zM96.9 192.1h2.05v2.05h-2.05zM134.9 204.1h2.05v2.05h-2.05zM110.9 212.1h2.05v2.05h-2.05z"/><path fill="#3cbe5a" d="M128.9 146.1h2.05v2.05h-2.05zM134.9 168.1h2.05v2.05h-2.05z"/><path fill="#8cb43c" d="M130.9 146.1h2.05v2.05h-2.05zM148.9 160.1h2.05v2.05h-2.05zM150.9 164.1h2.05v2.05h-2.05zM84.9 178.1h2.05v2.05h-2.05zM152.9 188.1h2.05v2.05h-2.05zM140.9 206.1h2.05v2.05h-2.05zM104.9 210.1h2.05v2.05h-2.05z"/><path fill="#a0aa3c" d="M102.9 148.1h2.05v2.05h-2.05zM96.9 152.1h2.05v2.05h-2.05zM92.9 156.1h2.05v2.05h-2.05zM88.9 162.1h2.05v2.05h-2.05zM148.9 198.1h2.05v2.05h-2.05zM138.9 208.1h2.05v2.05h-2.05z"/><path fill="#32c83c" d="M104.9 148.1h2.05v2.05h-2.05zM108.9 150.1h2.05v2.05h-2.05zM112.9 150.1h2.05v2.05h-2.05zM110.9 160.1h2.05v2.05h-2.05zM124.9 160.1h2.05v2.05h-2.05zM90.9 164.1h2.05v2.05h-2.05zM104.9 168.1h2.05v2.05h-2.05zM108.9 174.1h2.05v2.05h-2.05zM112.9 176.1h2.05v2.05h-2.05zM114.9 180.1h2.05v2.05h-2.05zM116.9 186.1h2.05v2.05h-2.05zM118.9 186.1h2.05v2.05h-2.05zM92.9 188.1h2.05v2.05h-2.05zM98.9 188.1h2.05v2.05h-2.05zM116.9 188.1h2.05v2.05h-2.05zM118.9 188.1h2.05v2.05h-2.05zM114.9 190.1h2.05v2.05h-2.05zM102.9 192.1h2.05v2.05h-2.05zM112.9 196.1h2.05v2.05h-2.05zM144.9 202.1h2.05v2.05h-2.05zM104.9 206.1h2.05v2.05h-2.05zM136.9 206.1h2.05v2.05h-2.05zM126.9 212.1h2.05v2.05h-2.05z"/><path fill="#3cbe46" d="M106.9 148.1h2.05v2.05h-2.05zM122.9 150.1h2.05v2.05h-2.05zM120.9 158.1h2.05v2.05h-2.05zM94.9 160.1h2.05v2.05h-2.05zM120.9 160.1h2.05v2.05h-2.05zM140.9 160.1h2.05v2.05h-2.05zM128.9 162.1h2.05v2.05h-2.05zM92.9 166.1h2.05v2.05h-2.05zM102.9 166.1h2.05v2.05h-2.05zM126.9 166.1h2.05v2.05h-2.05zM88.9 172.1h2.05v2.05h-2.05zM94.9 172.1h2.05v2.05h-2.05zM102.9 174.1h2.05v2.05h-2.05zM126.9 174.1h2.05v2.05h-2.05zM92.9 176.1h2.05v2.05h-2.05zM98.9 176.1h2.05v2.05h-2.05zM100.9 176.1h2.05v2.05h-2.05zM128.9 176.1h2.05v2.05h-2.05zM128.9 178.1h2.05v2.05h-2.05zM124.9 182.1h2.05v2.05h-2.05zM110.9 184.1h2.05v2.05h-2.05zM114.9 184.1h2.05v2.05h-2.05zM134.9 184.1h2.05v2.05h-2.05zM100.9 186.1h2.05v2.05h-2.05zM104.9 192.1h2.05v2.05h-2.05zM102.9 196.1h2.05v2.05h-2.05zM118.9 196.1h2.05v2.05h-2.05zM126.9 196.1h2.05v2.05h-2.05zM100.9 204.1h2.05v2.05h-2.05zM116.9 206.1h2.05v2.05h-2.05zM132.9 210.1h2.05v2.05h-2.05z"/><path fill="#46aa32" d="M108.9 148.1h2.05v2.05h-2.05zM110.9 178.1h2.05v2.05h-2.05zM100.9 182.1h2.05v2.05h-2.05z"/><path fill="#3cb446" d="M110.9 148.1h2.05v2.05h-2.05zM108.9 154.1h2.05v2.05h-2.05zM112.9 156.1h2.05v2.05h-2.05zM120.9 156.1h2.05v2.05h-2.05zM106.9 158.1h2.05v2.05h-2.05zM108.9 162.1h2.05v2.05h-2.05zM122.9 162.1h2.05v2.05h-2.05zM94.9 166.1h2.05v2.05h-2.05zM126.9 168.1h2.05v2.05h-2.05zM130.9 172.1h2.05v2.05h-2.05zM94.9 176.1h2.05v2.05h-2.05zM88.9 178.1h2.05v2.05h-2.05zM94.9 178.1h2.05v2.05h-2.05zM108.9 178.1h2.05v2.05h-2.05zM110.9 180.1h2.05v2.05h-2.05zM92.9 182.1h2.05v2.05h-2.05zM126.9 182.1h2.05v2.05h-2.05zM118.9 184.1h2.05v2.05h-2.05zM120.9 184.1h2.05v2.05h-2.05zM124.9 184.1h2.05v2.05h-2.05zM92.9 186.1h2.05v2.05h-2.05zM112.9 186.1h2.05v2.05h-2.05zM138.9 186.1h2.05v2.05h-2.05zM94.9 188.1h2.05v2.05h-2.05zM110.9 190.1h2.05v2.05h-2.05zM126.9 192.1h2.05v2.05h-2.05zM124.9 194.1h2.05v2.05h-2.05zM102.9 198.1h2.05v2.05h-2.05zM112.9 200.1h2.05v2.05h-2.05zM110.9 206.1h2.05v2.05h-2.05zM134.9 206.1h2.05v2.05h-2.05z"/><path fill="#46785a" d="M112.9 148.1h2.05v2.05h-2.05zM100.9 152.1h2.05v2.05h-2.05zM104.9 154.1h2.05v2.05h-2.05zM108.9 156.1h2.05v2.05h-2.05zM142.9 156.1h2.05v2.05h-2.05zM108.9 160.1h2.05v2.05h-2.05zM132.9 162.1h2.05v2.05h-2.05zM100.9 164.1h2.05v2.05h-2.05zM90.9 166.1h2.05v2.05h-2.05zM90.9 168.1h2.05v2.05h-2.05zM104.9 174.1h2.05v2.05h-2.05zM86.9 178.1h2.05v2.05h-2.05zM112.9 184.1h2.05v2.05h-2.05zM126.9 184.1h2.05v2.05h-2.05zM96.9 188.1h2.05v2.05h-2.05zM120.9 192.1h2.05v2.05h-2.05zM122.9 192.1h2.05v2.05h-2.05zM132.9 200.1h2.05v2.05h-2.05zM132.9 206.1h2.05v2.05h-2.05zM138.9 206.1h2.05v2.05h-2.05zM112.9 208.1h2.05v2.05h-2.05zM126.9 210.1h2.05v2.05h-2.05z"/><path fill="#32b432" d="M114.9 148.1h2.05v2.05h-2.05zM138.9 154.1h2.05v2.05h-2.05zM100.9 160.1h2.05v2.05h-2.05zM90.9 162.1h2.05v2.05h-2.05zM126.9 164.1h2.05v2.05h-2.05zM86.9 170.1h2.05v2.05h-2.05zM108.9 172.1h2.05v2.05h-2.05zM114.9 178.1h2.05v2.05h-2.05zM126.9 186.1h2.05v2.05h-2.05zM98.9 190.1h2.05v2.05h-2.05zM128.9 194.1h2.05v2.05h-2.05z"/><path fill="#32be3c" d="M116.9 148.1h2.05v2.05h-2.05zM108.9 152.1h2.05v2.05h-2.05zM98.9 160.1h2.05v2.05h-2.05zM130.9 164.1h2.05v2.05h-2.05zM88.9 168.1h2.05v2.05h-2.05zM120.9 170.1h2.05v2.05h-2.05zM104.9 172.1h2.05v2.05h-2.05zM112.9 174.1h2.05v2.05h-2.05zM114.9 174.1h2.05v2.05h-2.05zM90.9 176.1h2.05v2.05h-2.05zM124.9 186.1h2.05v2.05h-2.05zM94.9 190.1h2.05v2.05h-2.05zM112.9 190.1h2.05v2.05h-2.05zM118.9 192.1h2.05v2.05h-2.05zM118.9 194.1h2.05v2.05h-2.05zM106.9 200.1h2.05v2.05h-2.05zM114.9 206.1h2.05v2.05h-2.05z"/><path fill="#467864" d="M118.9 148.1h2.05v2.05h-2.05zM98.9 152.1h2.05v2.05h-2.05zM112.9 154.1h2.05v2.05h-2.05zM104.9 160.1h2.05v2.05h-2.05zM98.9 162.1h2.05v2.05h-2.05zM126.9 170.1h2.05v2.05h-2.05zM130.9 170.1h2.05v2.05h-2.05zM132.9 170.1h2.05v2.05h-2.05zM122.9 176.1h2.05v2.05h-2.05zM110.9 186.1h2.05v2.05h-2.05zM114.9 192.1h2.05v2.05h-2.05zM104.9 196.1h2.05v2.05h-2.05zM118.9 198.1h2.05v2.05h-2.05zM126.9 198.1h2.05v2.05h-2.05zM114.9 200.1h2.05v2.05h-2.05z"/><path fill="#6e7832" d="M120.9 148.1h2.05v2.05h-2.05zM140.9 154.1h2.05v2.05h-2.05zM108.9 158.1h2.05v2.05h-2.05zM106.9 162.1h2.05v2.05h-2.05zM92.9 168.1h2.05v2.05h-2.05zM114.9 168.1h2.05v2.05h-2.05zM112.9 178.1h2.05v2.05h-2.05zM126.9 180.1h2.05v2.05h-2.05zM98.9 186.1h2.05v2.05h-2.05zM100.9 188.1h2.05v2.05h-2.05zM116.9 192.1h2.05v2.05h-2.05zM104.9 198.1h2.05v2.05h-2.05z"/><path fill="#46b432" d="M122.9 148.1h2.05v2.05h-2.05zM106.9 152.1h2.05v2.05h-2.05zM116.9 158.1h2.05v2.05h-2.05zM106.9 160.1h2.05v2.05h-2.05zM110.9 166.1h2.05v2.05h-2.05zM88.9 188.1h2.05v2.05h-2.05zM90.9 190.1h2.05v2.05h-2.05zM106.9 192.1h2.05v2.05h-2.05zM94.9 194.1h2.05v2.05h-2.05zM96.9 202.1h2.05v2.05h-2.05zM132.9 208.1h2.05v2.05h-2.05z"/><path fill="#50be5a" d="M126.9 148.1h2.05v2.05h-2.05zM136.9 164.1h2.05v2.05h-2.05z"/><path fill="#46aa5a" d="M128.9 148.1h2.05v2.05h-2.05zM136.9 178.1h2.05v2.05h-2.05z"/><path fill="#46be6e" d="M130.9 148.1h2.05v2.05h-2.05z"/><path fill="#6e7846" d="M132.9 148.1h2.05v2.05h-2.05zM130.9 152.1h2.05v2.05h-2.05z"/><path fill="#46b450" d="M134.9 148.1h2.05v2.05h-2.05zM124.9 150.1h2.05v2.05h-2.05zM144.9 160.1h2.05v2.05h-2.05zM132.9 196.1h2.05v2.05h-2.05zM136.9 202.1h2.05v2.05h-2.05z"/><path fill="#b48232" d="M138.9 148.1h2.05v2.05h-2.05zM94.9 152.1h2.05v2.05h-2.05zM92.9 154.1h2.05v2.05h-2.05zM154.9 170.1h2.05v2.05h-2.05zM140.9 208.1h2.05v2.05h-2.05zM104.9 212.1h2.05v2.05h-2.05zM110.9 214.1h2.05v2.05h-2.05z"/><path fill="#b4aa3c" d="M98.9 150.1h2.05v2.05h-2.05z"/><path fill="#6e783c" d="M100.9 150.1h2.05v2.05h-2.05zM128.9 160.1h2.05v2.05h-2.05zM124.9 162.1h2.05v2.05h-2.05zM106.9 164.1h2.05v2.05h-2.05zM112.9 172.1h2.05v2.05h-2.05zM130.9 176.1h2.05v2.05h-2.05zM116.9 178.1h2.05v2.05h-2.05zM134.9 182.1h2.05v2.05h-2.05zM124.9 190.1h2.05v2.05h-2.05zM124.9 198.1h2.05v2.05h-2.05z"/><path fill="#3cbe3c" d="M102.9 150.1h2.05v2.05h-2.05zM110.9 150.1h2.05v2.05h-2.05zM110.9 152.1h2.05v2.05h-2.05zM108.9 168.1h2.05v2.05h-2.05zM112.9 168.1h2.05v2.05h-2.05zM108.9 170.1h2.05v2.05h-2.05zM118.9 170.1h2.05v2.05h-2.05zM130.9 174.1h2.05v2.05h-2.05zM118.9 180.1h2.05v2.05h-2.05zM122.9 186.1h2.05v2.05h-2.05zM110.9 188.1h2.05v2.05h-2.05zM112.9 188.1h2.05v2.05h-2.05zM104.9 190.1h2.05v2.05h-2.05zM98.9 192.1h2.05v2.05h-2.05zM104.9 194.1h2.05v2.05h-2.05zM92.9 196.1h2.05v2.05h-2.05zM114.9 198.1h2.05v2.05h-2.05zM108.9 200.1h2.05v2.05h-2.05zM138.9 204.1h2.05v2.05h-2.05z"/><path fill="#46aa3c" d="M104.9 150.1h2.05v2.05h-2.05zM140.9 152.1h2.05v2.05h-2.05zM96.9 164.1h2.05v2.05h-2.05zM102.9 168.1h2.05v2.05h-2.05zM90.9 172.1h2.05v2.05h-2.05zM92.9 174.1h2.05v2.05h-2.05zM102.9 178.1h2.05v2.05h-2.05zM106.9 178.1h2.05v2.05h-2.05zM106.9 180.1h2.05v2.05h-2.05zM94.9 202.1h2.05v2.05h-2.05zM108.9 206.1h2.05v2.05h-2.05z"/><path fill="#46c83c" d="M106.9 150.1h2.05v2.05h-2.05zM106.9 156.1h2.05v2.05h-2.05zM118.9 156.1h2.05v2.05h-2.05zM138.9 156.1h2.05v2.05h-2.05zM132.9 158.1h2.05v2.05h-2.05zM112.9 170.1h2.05v2.05h-2.05zM92.9 172.1h2.05v2.05h-2.05zM96.9 172.1h2.05v2.05h-2.05zM110.9 172.1h2.05v2.05h-2.05zM106.9 174.1h2.05v2.05h-2.05zM118.9 174.1h2.05v2.05h-2.05zM128.9 180.1h2.05v2.05h-2.05zM130.9 180.1h2.05v2.05h-2.05zM90.9 182.1h2.05v2.05h-2.05zM122.9 184.1h2.05v2.05h-2.05zM136.9 184.1h2.05v2.05h-2.05zM138.9 184.1h2.05v2.05h-2.05zM132.9 186.1h2.05v2.05h-2.05zM86.9 188.1h2.05v2.05h-2.05zM92.9 192.1h2.05v2.05h-2.05zM128.9 198.1h2.05v2.05h-2.05zM116.9 202.1h2.05v2.05h-2.05zM132.9 204.1h2.05v2.05h-2.05zM110.9 210.1h2.05v2.05h-2.05z"/><path fill="#46825a" d="M116.9 150.1h2.05v2.05h-2.05zM114.9 154.1h2.05v2.05h-2.05zM126.9 162.1h2.05v2.05h-2.05zM94.9 186.1h2.05v2.05h-2.05zM106.9 208.1h2.05v2.05h-2.05zM136.9 208.1h2.05v2.05h-2.05z"/><path fill="#3caa46" d="M120.9 150.1h2.05v2.05h-2.05zM104.9 166.1h2.05v2.05h-2.05zM132.9 178.1h2.05v2.05h-2.05zM132.9 182.1h2.05v2.05h-2.05zM134.9 186.1h2.05v2.05h-2.05zM108.9 188.1h2.05v2.05h-2.05zM120.9 194.1h2.05v2.05h-2.05zM110.9 198.1h2.05v2.05h-2.05zM118.9 200.1h2.05v2.05h-2.05z"/><path fill="#46786e" d="M126.9 150.1h2.05v2.05h-2.05zM136.9 166.1h2.05v2.05h-2.05zM146.9 196.1h2.05v2.05h-2.05z"/><path fill="#50b464" d="M128.9 150.1h2.05v2.05h-2.05zM134.9 152.1h2.05v2.05h-2.05zM134.9 176.1h2.05v2.05h-2.05zM136.9 192.1h2.05v2.05h-2.05z"/><path fill="#50be64" d="M130.9 150.1h2.05v2.05h-2.05zM130.9 156.1h2.05v2.05h-2.05z"/><path fill="#46b464" d="M132.9 150.1h2.05v2.05h-2.05zM148.9 162.1h2.05v2.05h-2.05zM138.9 180.1h2.05v2.05h-2.05zM150.9 186.1h2.05v2.05h-2.05zM138.9 188.1h2.05v2.05h-2.05z"/><path fill="#46be50" d="M134.9 150.1h2.05v2.05h-2.05zM134.9 178.1h2.05v2.05h-2.05zM152.9 182.1h2.05v2.05h-2.05zM148.9 194.1h2.05v2.05h-2.05zM132.9 198.1h2.05v2.05h-2.05z"/><path fill="#508264" d="M136.9 150.1h2.05v2.05h-2.05zM108.9 208.1h2.05v2.05h-2.05z"/><path fill="#b4a03c" d="M140.9 150.1h2.05v2.05h-2.05zM154.9 174.1h2.05v2.05h-2.05zM84.9 186.1h2.05v2.05h-2.05zM124.9 214.1h2.05v2.05h-2.05z"/><path fill="#d27832" d="M92.9 152.1h2.05v2.05h-2.05zM86.9 160.1h2.05v2.05h-2.05zM84.9 164.1h2.05v2.05h-2.05zM82.9 170.1h2.05v2.05h-2.05zM156.9 178.1h2.05v2.05h-2.05zM150.9 200.1h2.05v2.05h-2.05zM98.9 210.1h2.05v2.05h-2.05zM132.9 214.1h2.05v2.05h-2.05zM114.9 216.1h2.05v2.05h-2.05zM118.9 216.1h2.05v2.05h-2.05z"/><path fill="#6e823c" d="M102.9 152.1h2.05v2.05h-2.05zM112.9 152.1h2.05v2.05h-2.05zM110.9 156.1h2.05v2.05h-2.05zM134.9 160.1h2.05v2.05h-2.05zM104.9 164.1h2.05v2.05h-2.05zM100.9 192.1h2.05v2.05h-2.05zM128.9 196.1h2.05v2.05h-2.05z"/><path fill="#46be32" d="M116.9 152.1h2.05v2.05h-2.05zM134.9 158.1h2.05v2.05h-2.05zM122.9 164.1h2.05v2.05h-2.05zM108.9 166.1h2.05v2.05h-2.05zM88.9 170.1h2.05v2.05h-2.05zM120.9 172.1h2.05v2.05h-2.05zM120.9 174.1h2.05v2.05h-2.05zM86.9 186.1h2.05v2.05h-2.05zM114.9 186.1h2.05v2.05h-2.05zM112.9 192.1h2.05v2.05h-2.05zM106.9 204.1h2.05v2.05h-2.05zM128.9 210.1h2.05v2.05h-2.05z"/><path fill="#32b43c" d="M118.9 152.1h2.05v2.05h-2.05zM100.9 156.1h2.05v2.05h-2.05zM144.9 156.1h2.05v2.05h-2.05zM124.9 158.1h2.05v2.05h-2.05zM126.9 158.1h2.05v2.05h-2.05zM144.9 158.1h2.05v2.05h-2.05zM104.9 162.1h2.05v2.05h-2.05zM106.9 170.1h2.05v2.05h-2.05zM122.9 170.1h2.05v2.05h-2.05zM124.9 172.1h2.05v2.05h-2.05zM94.9 174.1h2.05v2.05h-2.05zM96.9 176.1h2.05v2.05h-2.05zM124.9 176.1h2.05v2.05h-2.05zM98.9 178.1h2.05v2.05h-2.05zM130.9 178.1h2.05v2.05h-2.05zM110.9 182.1h2.05v2.05h-2.05zM138.9 182.1h2.05v2.05h-2.05zM108.9 186.1h2.05v2.05h-2.05zM130.9 186.1h2.05v2.05h-2.05zM110.9 192.1h2.05v2.05h-2.05zM106.9 202.1h2.05v2.05h-2.05zM134.9 202.1h2.05v2.05h-2.05zM142.9 204.1h2.05v2.05h-2.05zM98.9 206.1h2.05v2.05h-2.05z"/><path fill="#32c832" d="M122.9 152.1h2.05v2.05h-2.05zM122.9 156.1h2.05v2.05h-2.05zM132.9 164.1h2.05v2.05h-2.05zM110.9 170.1h2.05v2.05h-2.05zM92.9 190.1h2.05v2.05h-2.05zM102.9 190.1h2.05v2.05h-2.05zM88.9 194.1h2.05v2.05h-2.05zM110.9 194.1h2.05v2.05h-2.05zM116.9 204.1h2.05v2.05h-2.05z"/><path fill="#78783c" d="M124.9 152.1h2.05v2.05h-2.05zM142.9 160.1h2.05v2.05h-2.05z"/><path fill="#787846" d="M126.9 152.1h2.05v2.05h-2.05z"/><path fill="#46aa64" d="M128.9 152.1h2.05v2.05h-2.05z"/><path fill="#50b46e" d="M132.9 152.1h2.05v2.05h-2.05zM130.9 154.1h2.05v2.05h-2.05zM144.9 164.1h2.05v2.05h-2.05z"/><path fill="#507864" d="M136.9 152.1h2.05v2.05h-2.05zM96.9 158.1h2.05v2.05h-2.05zM120.9 162.1h2.05v2.05h-2.05zM118.9 172.1h2.05v2.05h-2.05zM116.9 194.1h2.05v2.05h-2.05zM134.9 200.1h2.05v2.05h-2.05zM126.9 206.1h2.05v2.05h-2.05z"/><path fill="#32aa46" d="M138.9 152.1h2.05v2.05h-2.05zM118.9 154.1h2.05v2.05h-2.05zM102.9 156.1h2.05v2.05h-2.05zM134.9 156.1h2.05v2.05h-2.05zM136.9 162.1h2.05v2.05h-2.05zM94.9 164.1h2.05v2.05h-2.05zM122.9 174.1h2.05v2.05h-2.05zM100.9 178.1h2.05v2.05h-2.05zM122.9 182.1h2.05v2.05h-2.05zM104.9 200.1h2.05v2.05h-2.05zM128.9 208.1h2.05v2.05h-2.05z"/><path fill="#32be32" d="M96.9 154.1h2.05v2.05h-2.05zM130.9 160.1h2.05v2.05h-2.05zM100.9 172.1h2.05v2.05h-2.05zM118.9 190.1h2.05v2.05h-2.05z"/><path fill="#3cc832" d="M100.9 154.1h2.05v2.05h-2.05zM114.9 158.1h2.05v2.05h-2.05zM128.9 164.1h2.05v2.05h-2.05zM96.9 168.1h2.05v2.05h-2.05zM88.9 182.1h2.05v2.05h-2.05zM130.9 184.1h2.05v2.05h-2.05zM96.9 186.1h2.05v2.05h-2.05zM96.9 190.1h2.05v2.05h-2.05zM114.9 196.1h2.05v2.05h-2.05zM120.9 198.1h2.05v2.05h-2.05zM130.9 208.1h2.05v2.05h-2.05zM134.9 208.1h2.05v2.05h-2.05z"/><path fill="#50785a" d="M120.9 154.1h2.05v2.05h-2.05zM104.9 158.1h2.05v2.05h-2.05zM102.9 188.1h2.05v2.05h-2.05zM118.9 206.1h2.05v2.05h-2.05z"/><path fill="#3caa3c" d="M122.9 154.1h2.05v2.05h-2.05zM124.9 154.1h2.05v2.05h-2.05zM140.9 156.1h2.05v2.05h-2.05zM92.9 162.1h2.05v2.05h-2.05zM120.9 168.1h2.05v2.05h-2.05zM124.9 178.1h2.05v2.05h-2.05zM120.9 182.1h2.05v2.05h-2.05zM88.9 184.1h2.05v2.05h-2.05zM96.9 196.1h2.05v2.05h-2.05zM100.9 196.1h2.05v2.05h-2.05zM110.9 196.1h2.05v2.05h-2.05zM122.9 198.1h2.05v2.05h-2.05zM130.9 200.1h2.05v2.05h-2.05zM96.9 204.1h2.05v2.05h-2.05z"/><path fill="#3cb45a" d="M126.9 154.1h2.05v2.05h-2.05zM134.9 154.1h2.05v2.05h-2.05zM138.9 200.1h2.05v2.05h-2.05z"/><path fill="#32aa5a" d="M128.9 154.1h2.05v2.05h-2.05zM152.9 178.1h2.05v2.05h-2.05zM150.9 188.1h2.05v2.05h-2.05zM134.9 190.1h2.05v2.05h-2.05z"/><path fill="#32b464" d="M132.9 154.1h2.05v2.05h-2.05z"/><path fill="#3cb450" d="M136.9 154.1h2.05v2.05h-2.05zM132.9 194.1h2.05v2.05h-2.05z"/><path fill="#32aa3c" d="M142.9 154.1h2.05v2.05h-2.05zM94.9 170.1h2.05v2.05h-2.05zM96.9 170.1h2.05v2.05h-2.05zM104.9 170.1h2.05v2.05h-2.05zM128.9 172.1h2.05v2.05h-2.05zM98.9 184.1h2.05v2.05h-2.05zM108.9 184.1h2.05v2.05h-2.05zM128.9 190.1h2.05v2.05h-2.05z"/><path fill="#96a03c" d="M144.9 154.1h2.05v2.05h-2.05zM154.9 178.1h2.05v2.05h-2.05zM152.9 190.1h2.05v2.05h-2.05zM130.9 212.1h2.05v2.05h-2.05z"/><path fill="#6e8232" d="M98.9 156.1h2.05v2.05h-2.05zM142.9 158.1h2.05v2.05h-2.05zM94.9 168.1h2.05v2.05h-2.05zM98.9 168.1h2.05v2.05h-2.05zM96.9 180.1h2.05v2.05h-2.05z"/><path fill="#32aa32" d="M104.9 156.1h2.05v2.05h-2.05zM136.9 158.1h2.05v2.05h-2.05zM112.9 166.1h2.05v2.05h-2.05zM124.9 174.1h2.05v2.05h-2.05zM102.9 194.1h2.05v2.05h-2.05zM108.9 210.1h2.05v2.05h-2.05zM124.9 210.1h2.05v2.05h-2.05z"/><path fill="#46c832" d="M114.9 156.1h2.05v2.05h-2.05zM146.9 158.1h2.05v2.05h-2.05zM124.9 164.1h2.05v2.05h-2.05zM130.9 166.1h2.05v2.05h-2.05zM130.9 168.1h2.05v2.05h-2.05zM86.9 172.1h2.05v2.05h-2.05zM98.9 174.1h2.05v2.05h-2.05zM110.9 174.1h2.05v2.05h-2.05zM108.9 202.1h2.05v2.05h-2.05zM104.9 208.1h2.05v2.05h-2.05z"/><path fill="#3caa50" d="M126.9 156.1h2.05v2.05h-2.05z"/><path fill="#46aa50" d="M128.9 156.1h2.05v2.05h-2.05zM140.9 184.1h2.05v2.05h-2.05zM148.9 196.1h2.05v2.05h-2.05z"/><path fill="#3caa5a" d="M132.9 156.1h2.05v2.05h-2.05zM152.9 172.1h2.05v2.05h-2.05zM150.9 178.1h2.05v2.05h-2.05zM152.9 186.1h2.05v2.05h-2.05zM134.9 196.1h2.05v2.05h-2.05zM140.9 200.1h2.05v2.05h-2.05z"/><path fill="#46b446" d="M136.9 156.1h2.05v2.05h-2.05zM100.9 168.1h2.05v2.05h-2.05zM132.9 168.1h2.05v2.05h-2.05zM126.9 172.1h2.05v2.05h-2.05zM86.9 174.1h2.05v2.05h-2.05zM128.9 174.1h2.05v2.05h-2.05zM100.9 180.1h2.05v2.05h-2.05zM112.9 180.1h2.05v2.05h-2.05zM112.9 182.1h2.05v2.05h-2.05zM130.9 182.1h2.05v2.05h-2.05zM100.9 184.1h2.05v2.05h-2.05zM124.9 192.1h2.05v2.05h-2.05zM106.9 194.1h2.05v2.05h-2.05zM108.9 194.1h2.05v2.05h-2.05zM130.9 196.1h2.05v2.05h-2.05zM130.9 198.1h2.05v2.05h-2.05zM114.9 202.1h2.05v2.05h-2.05zM118.9 202.1h2.05v2.05h-2.05zM112.9 204.1h2.05v2.05h-2.05zM130.9 210.1h2.05v2.05h-2.05z"/><path fill="#a0a03c" d="M146.9 156.1h2.05v2.05h-2.05zM90.9 158.1h2.05v2.05h-2.05zM84.9 172.1h2.05v2.05h-2.05zM154.9 182.1h2.05v2.05h-2.05zM86.9 192.1h2.05v2.05h-2.05zM88.9 196.1h2.05v2.05h-2.05zM96.9 206.1h2.05v2.05h-2.05zM116.9 214.1h2.05v2.05h-2.05zM118.9 214.1h2.05v2.05h-2.05zM122.9 214.1h2.05v2.05h-2.05z"/><path fill="#d28232" d="M148.9 156.1h2.05v2.05h-2.05z"/><path fill="#3caa32" d="M92.9 158.1h2.05v2.05h-2.05zM94.9 180.1h2.05v2.05h-2.05zM114.9 182.1h2.05v2.05h-2.05z"/><path fill="#46be46" d="M98.9 158.1h2.05v2.05h-2.05zM110.9 158.1h2.05v2.05h-2.05zM140.9 158.1h2.05v2.05h-2.05zM134.9 162.1h2.05v2.05h-2.05zM98.9 170.1h2.05v2.05h-2.05zM122.9 172.1h2.05v2.05h-2.05zM116.9 174.1h2.05v2.05h-2.05zM132.9 174.1h2.05v2.05h-2.05zM86.9 176.1h2.05v2.05h-2.05zM92.9 178.1h2.05v2.05h-2.05zM118.9 178.1h2.05v2.05h-2.05zM92.9 180.1h2.05v2.05h-2.05zM116.9 180.1h2.05v2.05h-2.05zM152.9 180.1h2.05v2.05h-2.05zM94.9 184.1h2.05v2.05h-2.05zM120.9 190.1h2.05v2.05h-2.05zM130.9 190.1h2.05v2.05h-2.05zM92.9 194.1h2.05v2.05h-2.05zM114.9 194.1h2.05v2.05h-2.05zM92.9 200.1h2.05v2.05h-2.05zM120.9 200.1h2.05v2.05h-2.05zM102.9 208.1h2.05v2.05h-2.05z"/><path fill="#46b43c" d="M112.9 158.1h2.05v2.05h-2.05zM126.9 160.1h2.05v2.05h-2.05zM102.9 162.1h2.05v2.05h-2.05zM92.9 164.1h2.05v2.05h-2.05zM112.9 164.1h2.05v2.05h-2.05zM132.9 166.1h2.05v2.05h-2.05zM124.9 168.1h2.05v2.05h-2.05zM102.9 172.1h2.05v2.05h-2.05zM120.9 178.1h2.05v2.05h-2.05zM126.9 178.1h2.05v2.05h-2.05zM98.9 180.1h2.05v2.05h-2.05zM116.9 182.1h2.05v2.05h-2.05zM90.9 188.1h2.05v2.05h-2.05zM106.9 188.1h2.05v2.05h-2.05zM114.9 188.1h2.05v2.05h-2.05zM110.9 200.1h2.05v2.05h-2.05zM116.9 200.1h2.05v2.05h-2.05zM126.9 200.1h2.05v2.05h-2.05zM110.9 202.1h2.05v2.05h-2.05zM106.9 206.1h2.05v2.05h-2.05zM112.9 206.1h2.05v2.05h-2.05zM120.9 206.1h2.05v2.05h-2.05z"/><path fill="#aa963c" d="M148.9 158.1h2.05v2.05h-2.05zM152.9 166.1h2.05v2.05h-2.05zM154.9 184.1h2.05v2.05h-2.05zM90.9 200.1h2.05v2.05h-2.05z"/><path fill="#3ca03c" d="M90.9 160.1h2.05v2.05h-2.05zM114.9 166.1h2.05v2.05h-2.05zM120.9 166.1h2.05v2.05h-2.05zM98.9 204.1h2.05v2.05h-2.05z"/><path fill="#46a03c" d="M114.9 160.1h2.05v2.05h-2.05zM106.9 182.1h2.05v2.05h-2.05z"/><path fill="#46aa46" d="M116.9 160.1h2.05v2.05h-2.05zM118.9 164.1h2.05v2.05h-2.05zM110.9 176.1h2.05v2.05h-2.05zM100.9 190.1h2.05v2.05h-2.05zM116.9 190.1h2.05v2.05h-2.05zM94.9 198.1h2.05v2.05h-2.05zM94.9 200.1h2.05v2.05h-2.05zM112.9 202.1h2.05v2.05h-2.05zM124.9 202.1h2.05v2.05h-2.05zM126.9 202.1h2.05v2.05h-2.05zM130.9 204.1h2.05v2.05h-2.05zM128.9 206.1h2.05v2.05h-2.05z"/><path fill="#46a032" d="M118.9 160.1h2.05v2.05h-2.05z"/><path fill="#50825a" d="M132.9 160.1h2.05v2.05h-2.05zM96.9 178.1h2.05v2.05h-2.05z"/><path fill="#468264" d="M136.9 160.1h2.05v2.05h-2.05zM132.9 176.1h2.05v2.05h-2.05zM102.9 206.1h2.05v2.05h-2.05z"/><path fill="#be8232" d="M150.9 160.1h2.05v2.05h-2.05zM86.9 162.1h2.05v2.05h-2.05zM152.9 194.1h2.05v2.05h-2.05zM94.9 206.1h2.05v2.05h-2.05zM100.9 210.1h2.05v2.05h-2.05zM134.9 212.1h2.05v2.05h-2.05z"/><path fill="#50b43c" d="M112.9 162.1h2.05v2.05h-2.05zM98.9 200.1h2.05v2.05h-2.05zM128.9 204.1h2.05v2.05h-2.05z"/><path fill="#3c9646" d="M114.9 162.1h2.05v2.05h-2.05zM96.9 200.1h2.05v2.05h-2.05zM100.9 200.1h2.05v2.05h-2.05z"/><path fill="#50645a" d="M116.9 162.1h2.05v2.05h-2.05z"/><path fill="#506e5a" d="M118.9 162.1h2.05v2.05h-2.05z"/><path fill="#64823c" d="M130.9 162.1h2.05v2.05h-2.05z"/><path fill="#466e6e" d="M138.9 162.1h2.05v2.05h-2.05zM150.9 180.1h2.05v2.05h-2.05z"/><path fill="#3cb464" d="M140.9 162.1h2.05v2.05h-2.05zM150.9 166.1h2.05v2.05h-2.05zM134.9 174.1h2.05v2.05h-2.05zM134.9 192.1h2.05v2.05h-2.05zM136.9 194.1h2.05v2.05h-2.05zM136.9 200.1h2.05v2.05h-2.05z"/><path fill="#3cb46e" d="M142.9 162.1h2.05v2.05h-2.05zM138.9 178.1h2.05v2.05h-2.05z"/><path fill="#46be5a" d="M144.9 162.1h2.05v2.05h-2.05zM140.9 202.1h2.05v2.05h-2.05z"/><path fill="#46b46e" d="M146.9 162.1h2.05v2.05h-2.05zM148.9 164.1h2.05v2.05h-2.05zM140.9 180.1h2.05v2.05h-2.05z"/><path fill="#a0963c" d="M150.9 162.1h2.05v2.05h-2.05z"/><path fill="#be6428" d="M152.9 162.1h2.05v2.05h-2.05z"/><path fill="#3cb432" d="M102.9 164.1h2.05v2.05h-2.05zM128.9 170.1h2.05v2.05h-2.05zM114.9 172.1h2.05v2.05h-2.05zM128.9 186.1h2.05v2.05h-2.05zM104.9 188.1h2.05v2.05h-2.05zM116.9 196.1h2.05v2.05h-2.05zM106.9 210.1h2.05v2.05h-2.05z"/><path fill="#509646" d="M114.9 164.1h2.05v2.05h-2.05z"/><path fill="#3c8c50" d="M116.9 164.1h2.05v2.05h-2.05z"/><path fill="#3cbe50" d="M134.9 164.1h2.05v2.05h-2.05zM132.9 172.1h2.05v2.05h-2.05zM132.9 190.1h2.05v2.05h-2.05z"/><path fill="#50aa64" d="M138.9 164.1h2.05v2.05h-2.05z"/><path fill="#50a078" d="M140.9 164.1h2.05v2.05h-2.05zM148.9 176.1h2.05v2.05h-2.05zM144.9 178.1h2.05v2.05h-2.05zM140.9 196.1h2.05v2.05h-2.05zM144.9 196.1h2.05v2.05h-2.05z"/><path fill="#50a082" d="M142.9 164.1h2.05v2.05h-2.05z"/><path fill="#46aa78" d="M146.9 164.1h2.05v2.05h-2.05zM138.9 174.1h2.05v2.05h-2.05zM138.9 194.1h2.05v2.05h-2.05z"/><path fill="#aa7832" d="M152.9 164.1h2.05v2.05h-2.05z"/><path fill="#64783c" d="M100.9 166.1h2.05v2.05h-2.05z"/><path fill="#469650" d="M116.9 166.1h2.05v2.05h-2.05zM122.9 210.1h2.05v2.05h-2.05zM122.9 212.1h2.05v2.05h-2.05z"/><path fill="#50963c" d="M118.9 166.1h2.05v2.05h-2.05zM108.9 180.1h2.05v2.05h-2.05z"/><path fill="#466e64" d="M134.9 166.1h2.05v2.05h-2.05z"/><path fill="#46be78" d="M138.9 166.1h2.05v2.05h-2.05zM136.9 196.1h2.05v2.05h-2.05z"/><path fill="#506e78" d="M140.9 166.1h2.05v2.05h-2.05zM146.9 168.1h2.05v2.05h-2.05zM146.9 180.1h2.05v2.05h-2.05z"/><path fill="#3caa82" d="M142.9 166.1h2.05v2.05h-2.05zM140.9 168.1h2.05v2.05h-2.05zM142.9 188.1h2.05v2.05h-2.05z"/><path fill="#50aa8c" d="M144.9 166.1h2.05v2.05h-2.05z"/><path fill="#46a078" d="M146.9 166.1h2.05v2.05h-2.05zM146.9 178.1h2.05v2.05h-2.05zM146.9 190.1h2.05v2.05h-2.05z"/><path fill="#50aa6e" d="M148.9 166.1h2.05v2.05h-2.05z"/><path fill="#b48c32" d="M84.9 168.1h2.05v2.05h-2.05z"/><path fill="#787832" d="M116.9 168.1h2.05v2.05h-2.05zM108.9 176.1h2.05v2.05h-2.05z"/><path fill="#506e64" d="M118.9 168.1h2.05v2.05h-2.05z"/><path fill="#46aa6e" d="M136.9 168.1h2.05v2.05h-2.05zM138.9 176.1h2.05v2.05h-2.05zM142.9 184.1h2.05v2.05h-2.05zM144.9 188.1h2.05v2.05h-2.05zM144.9 190.1h2.05v2.05h-2.05z"/><path fill="#3ca082" d="M138.9 168.1h2.05v2.05h-2.05zM140.9 174.1h2.05v2.05h-2.05zM142.9 176.1h2.05v2.05h-2.05z"/><path fill="#50b482" d="M142.9 168.1h2.05v2.05h-2.05z"/><path fill="#506e82" d="M144.9 168.1h2.05v2.05h-2.05z"/><path fill="#3cbe82" d="M148.9 168.1h2.05v2.05h-2.05z"/><path fill="#46a064" d="M150.9 168.1h2.05v2.05h-2.05zM150.9 174.1h2.05v2.05h-2.05zM148.9 188.1h2.05v2.05h-2.05z"/><path fill="#aab43c" d="M152.9 168.1h2.05v2.05h-2.05z"/><path fill="#3cbe32" d="M114.9 170.1h2.05v2.05h-2.05zM116.9 170.1h2.05v2.05h-2.05zM98.9 172.1h2.05v2.05h-2.05zM120.9 186.1h2.05v2.05h-2.05zM126.9 190.1h2.05v2.05h-2.05zM94.9 192.1h2.05v2.05h-2.05zM106.9 196.1h2.05v2.05h-2.05zM122.9 196.1h2.05v2.05h-2.05zM112.9 198.1h2.05v2.05h-2.05zM132.9 202.1h2.05v2.05h-2.05z"/><path fill="#3caa6e" d="M134.9 170.1h2.05v2.05h-2.05zM136.9 170.1h2.05v2.05h-2.05zM134.9 172.1h2.05v2.05h-2.05zM152.9 174.1h2.05v2.05h-2.05zM140.9 178.1h2.05v2.05h-2.05zM148.9 178.1h2.05v2.05h-2.05zM148.9 180.1h2.05v2.05h-2.05zM142.9 186.1h2.05v2.05h-2.05zM146.9 186.1h2.05v2.05h-2.05z"/><path fill="#50b478" d="M138.9 170.1h2.05v2.05h-2.05zM140.9 192.1h2.05v2.05h-2.05zM140.9 194.1h2.05v2.05h-2.05z"/><path fill="#507882" d="M140.9 170.1h2.05v2.05h-2.05z"/><path fill="#46aa82" d="M142.9 170.1h2.05v2.05h-2.05zM144.9 174.1h2.05v2.05h-2.05z"/><path fill="#46aa8c" d="M144.9 170.1h2.05v2.05h-2.05z"/><path fill="#50b48c" d="M146.9 170.1h2.05v2.05h-2.05z"/><path fill="#467878" d="M148.9 170.1h2.05v2.05h-2.05z"/><path fill="#50aa78" d="M150.9 170.1h2.05v2.05h-2.05zM146.9 174.1h2.05v2.05h-2.05zM140.9 188.1h2.05v2.05h-2.05z"/><path fill="#46be64" d="M152.9 170.1h2.05v2.05h-2.05zM142.9 190.1h2.05v2.05h-2.05z"/><path fill="#46b478" d="M136.9 172.1h2.05v2.05h-2.05zM148.9 174.1h2.05v2.05h-2.05zM144.9 176.1h2.05v2.05h-2.05z"/><path fill="#6e6e50" d="M138.9 172.1h2.05v2.05h-2.05zM142.9 192.1h2.05v2.05h-2.05zM138.9 198.1h2.05v2.05h-2.05z"/><path fill="#46968c" d="M140.9 172.1h2.05v2.05h-2.05z"/><path fill="#46a08c" d="M142.9 172.1h2.05v2.05h-2.05z"/><path fill="#786e50" d="M144.9 172.1h2.05v2.05h-2.05z"/><path fill="#50aa82" d="M146.9 172.1h2.05v2.05h-2.05z"/><path fill="#3cb48c" d="M148.9 172.1h2.05v2.05h-2.05z"/><path fill="#3caa78" d="M150.9 172.1h2.05v2.05h-2.05zM136.9 174.1h2.05v2.05h-2.05zM142.9 178.1h2.05v2.05h-2.05zM144.9 194.1h2.05v2.05h-2.05z"/><path fill="#5aaa8c" d="M142.9 174.1h2.05v2.05h-2.05z"/><path fill="#b46e28" d="M82.9 176.1h2.05v2.05h-2.05z"/><path fill="#50a03c" d="M102.9 176.1h2.05v2.05h-2.05zM104.9 178.1h2.05v2.05h-2.05zM104.9 182.1h2.05v2.05h-2.05z"/><path fill="#50a046" d="M104.9 176.1h2.05v2.05h-2.05z"/><path fill="#50aa46" d="M106.9 176.1h2.05v2.05h-2.05zM108.9 182.1h2.05v2.05h-2.05zM100.9 198.1h2.05v2.05h-2.05zM128.9 202.1h2.05v2.05h-2.05z"/><path fill="#3ca06e" d="M136.9 176.1h2.05v2.05h-2.05zM144.9 182.1h2.05v2.05h-2.05z"/><path fill="#46a082" d="M140.9 176.1h2.05v2.05h-2.05z"/><path fill="#3ca078" d="M146.9 176.1h2.05v2.05h-2.05zM148.9 182.1h2.05v2.05h-2.05z"/><path fill="#3ca064" d="M150.9 176.1h2.05v2.05h-2.05z"/><path fill="#3cbe64" d="M152.9 176.1h2.05v2.05h-2.05zM146.9 192.1h2.05v2.05h-2.05zM146.9 198.1h2.05v2.05h-2.05z"/><path fill="#96a032" d="M154.9 176.1h2.05v2.05h-2.05z"/><path fill="#46963c" d="M102.9 180.1h2.05v2.05h-2.05zM98.9 198.1h2.05v2.05h-2.05z"/><path fill="#6e6e3c" d="M104.9 180.1h2.05v2.05h-2.05z"/><path fill="#46c850" d="M136.9 180.1h2.05v2.05h-2.05zM136.9 186.1h2.05v2.05h-2.05z"/><path fill="#3c966e" d="M142.9 180.1h2.05v2.05h-2.05z"/><path fill="#329678" d="M144.9 180.1h2.05v2.05h-2.05zM146.9 182.1h2.05v2.05h-2.05z"/><path fill="#a0b43c" d="M84.9 182.1h2.05v2.05h-2.05zM100.9 208.1h2.05v2.05h-2.05zM134.9 210.1h2.05v2.05h-2.05z"/><path fill="#50a032" d="M102.9 182.1h2.05v2.05h-2.05zM106.9 186.1h2.05v2.05h-2.05z"/><path fill="#3ca050" d="M140.9 182.1h2.05v2.05h-2.05zM152.9 184.1h2.05v2.05h-2.05z"/><path fill="#6e7850" d="M142.9 182.1h2.05v2.05h-2.05z"/><path fill="#32a06e" d="M150.9 182.1h2.05v2.05h-2.05z"/><path fill="#3c9632" d="M102.9 184.1h2.05v2.05h-2.05zM104.9 184.1h2.05v2.05h-2.05z"/><path fill="#3c963c" d="M106.9 184.1h2.05v2.05h-2.05z"/><path fill="#3caa64" d="M144.9 184.1h2.05v2.05h-2.05zM144.9 192.1h2.05v2.05h-2.05zM146.9 194.1h2.05v2.05h-2.05zM134.9 198.1h2.05v2.05h-2.05z"/><path fill="#786e46" d="M146.9 184.1h2.05v2.05h-2.05z"/><path fill="#32aa6e" d="M148.9 184.1h2.05v2.05h-2.05z"/><path fill="#46965a" d="M150.9 184.1h2.05v2.05h-2.05z"/><path fill="#50aa32" d="M102.9 186.1h2.05v2.05h-2.05zM94.9 196.1h2.05v2.05h-2.05zM98.9 196.1h2.05v2.05h-2.05z"/><path fill="#3ca032" d="M104.9 186.1h2.05v2.05h-2.05zM96.9 198.1h2.05v2.05h-2.05zM102.9 200.1h2.05v2.05h-2.05z"/><path fill="#46a06e" d="M140.9 186.1h2.05v2.05h-2.05z"/><path fill="#50966e" d="M144.9 186.1h2.05v2.05h-2.05z"/><path fill="#32966e" d="M148.9 186.1h2.05v2.05h-2.05z"/><path fill="#b48c3c" d="M154.9 186.1h2.05v2.05h-2.05z"/><path fill="#be963c" d="M84.9 188.1h2.05v2.05h-2.05zM148.9 200.1h2.05v2.05h-2.05z"/><path fill="#3cc85a" d="M134.9 188.1h2.05v2.05h-2.05zM132.9 192.1h2.05v2.05h-2.05zM148.9 192.1h2.05v2.05h-2.05z"/><path fill="#32b450" d="M136.9 188.1h2.05v2.05h-2.05z"/><path fill="#509664" d="M146.9 188.1h2.05v2.05h-2.05z"/><path fill="#b47832" d="M154.9 188.1h2.05v2.05h-2.05z"/><path fill="#dc7832" d="M156.9 188.1h2.05v2.05h-2.05z"/><path fill="#be8c32" d="M84.9 190.1h2.05v2.05h-2.05z"/><path fill="#50786e" d="M136.9 190.1h2.05v2.05h-2.05zM140.9 190.1h2.05v2.05h-2.05zM134.9 194.1h2.05v2.05h-2.05zM142.9 202.1h2.05v2.05h-2.05z"/><path fill="#50be78" d="M138.9 190.1h2.05v2.05h-2.05z"/><path fill="#32b45a" d="M148.9 190.1h2.05v2.05h-2.05z"/><path fill="#78823c" d="M128.9 192.1h2.05v2.05h-2.05z"/><path fill="#46be82" d="M138.9 192.1h2.05v2.05h-2.05z"/><path fill="#50b446" d="M98.9 194.1h2.05v2.05h-2.05zM122.9 200.1h2.05v2.05h-2.05zM112.9 210.1h2.05v2.05h-2.05z"/><path fill="#50a06e" d="M142.9 194.1h2.05v2.05h-2.05z"/><path fill="#3cbe6e" d="M138.9 196.1h2.05v2.05h-2.05zM136.9 198.1h2.05v2.05h-2.05z"/><path fill="#3cb478" d="M142.9 196.1h2.05v2.05h-2.05zM144.9 198.1h2.05v2.05h-2.05z"/><path fill="#aa9632" d="M150.9 196.1h2.05v2.05h-2.05z"/><path fill="#787850" d="M140.9 198.1h2.05v2.05h-2.05z"/><path fill="#50a064" d="M142.9 198.1h2.05v2.05h-2.05zM118.9 208.1h2.05v2.05h-2.05z"/><path fill="#50a050" d="M124.9 200.1h2.05v2.05h-2.05zM120.9 204.1h2.05v2.05h-2.05zM122.9 204.1h2.05v2.05h-2.05z"/><path fill="#50aa3c" d="M128.9 200.1h2.05v2.05h-2.05zM122.9 208.1h2.05v2.05h-2.05zM126.9 208.1h2.05v2.05h-2.05z"/><path fill="#50b45a" d="M142.9 200.1h2.05v2.05h-2.05z"/><path fill="#32be5a" d="M144.9 200.1h2.05v2.05h-2.05z"/><path fill="#be6e32" d="M90.9 202.1h2.05v2.05h-2.05zM96.9 208.1h2.05v2.05h-2.05z"/><path fill="#466e5a" d="M100.9 202.1h2.05v2.05h-2.05z"/><path fill="#5aaa3c" d="M120.9 202.1h2.05v2.05h-2.05z"/><path fill="#5a9650" d="M122.9 202.1h2.05v2.05h-2.05z"/><path fill="#50b450" d="M138.9 202.1h2.05v2.05h-2.05z"/><path fill="#bea03c" d="M146.9 202.1h2.05v2.05h-2.05z"/><path fill="#50be46" d="M118.9 204.1h2.05v2.05h-2.05z"/><path fill="#786e3c" d="M124.9 204.1h2.05v2.05h-2.05zM126.9 204.1h2.05v2.05h-2.05z"/><path fill="#5aaa46" d="M122.9 206.1h2.05v2.05h-2.05z"/><path fill="#5a963c" d="M124.9 206.1h2.05v2.05h-2.05z"/><path fill="#3ca05a" d="M114.9 208.1h2.05v2.05h-2.05z"/><path fill="#5aaa64" d="M116.9 208.1h2.05v2.05h-2.05z"/><path fill="#50965a" d="M120.9 208.1h2.05v2.05h-2.05z"/><path fill="#5ab43c" d="M124.9 208.1h2.05v2.05h-2.05z"/><path fill="#969632" d="M102.9 210.1h2.05v2.05h-2.05z"/><path fill="#64965a" d="M114.9 210.1h2.05v2.05h-2.05z"/><path fill="#826446" d="M116.9 210.1h2.05v2.05h-2.05z"/><path fill="#786450" d="M118.9 210.1h2.05v2.05h-2.05z"/><path fill="#648c64" d="M120.9 210.1h2.05v2.05h-2.05z"/><path fill="#5aa05a" d="M112.9 212.1h2.05v2.05h-2.05z"/><path fill="#647878" d="M114.9 212.1h2.05v2.05h-2.05z"/><path fill="#6e8278" d="M116.9 212.1h2.05v2.05h-2.05zM118.9 212.1h2.05v2.05h-2.05z"/><path fill="#649678" d="M120.9 212.1h2.05v2.05h-2.05z"/><path fill="#d25a32" d="M134.9 218.1h2.05v2.05h-2.05z"/><g stroke="#d8f098" stroke-width="0.6" opacity="0.4"><line x1="68.2" y1="130" x2="68.2" y2="230"/><line x1="70" y1="130.4" x2="172" y2="130.4"/><line x1="73.8" y1="130" x2="73.8" y2="230"/><line x1="70" y1="136.0" x2="172" y2="136.0"/><line x1="79.4" y1="130" x2="79.4" y2="230"/><line x1="70" y1="141.6" x2="172" y2="141.6"/><line x1="85.0" y1="130" x2="85.0" y2="230"/><line x1="70" y1="147.2" x2="172" y2="147.2"/><line x1="90.6" y1="130" x2="90.6" y2="230"/><line x1="70" y1="152.8" x2="172" y2="152.8"/><line x1="96.2" y1="130" x2="96.2" y2="230"/><line x1="70" y1="158.4" x2="172" y2="158.4"/><line x1="101.8" y1="130" x2="101.8" y2="230"/><line x1="70" y1="164.0" x2="172" y2="164.0"/><line x1="107.4" y1="130" x2="107.4" y2="230"/><line x1="70" y1="169.6" x2="172" y2="169.6"/><line x1="113.0" y1="130" x2="113.0" y2="230"/><line x1="70" y1="175.2" x2="172" y2="175.2"/><line x1="118.6" y1="130" x2="118.6" y2="230"/><line x1="70" y1="180.8" x2="172" y2="180.8"/><line x1="124.2" y1="130" x2="124.2" y2="230"/><line x1="70" y1="186.4" x2="172" y2="186.4"/><line x1="129.8" y1="130" x2="129.8" y2="230"/><line x1="70" y1="192.0" x2="172" y2="192.0"/><line x1="135.4" y1="130" x2="135.4" y2="230"/><line x1="70" y1="197.6" x2="172" y2="197.6"/><line x1="141.0" y1="130" x2="141.0" y2="230"/><line x1="70" y1="203.2" x2="172" y2="203.2"/><line x1="146.6" y1="130" x2="146.6" y2="230"/><line x1="70" y1="208.8" x2="172" y2="208.8"/><line x1="152.2" y1="130" x2="152.2" y2="230"/><line x1="70" y1="214.4" x2="172" y2="214.4"/><line x1="157.8" y1="130" x2="157.8" y2="230"/><line x1="70" y1="220.0" x2="172" y2="220.0"/><line x1="163.4" y1="130" x2="163.4" y2="230"/><line x1="70" y1="225.6" x2="172" y2="225.6"/><line x1="169.0" y1="130" x2="169.0" y2="230"/><line x1="70" y1="231.2" x2="172" y2="231.2"/></g><line x1="136.3" y1="146" x2="136.3" y2="210" stroke="#4a5468" stroke-width="1.1" opacity="0.75"/></g></g></svg>
<svg class="abs" style="left:0;top:0" width="775" height="400" viewBox="0 0 775 400"><defs><clipPath id="phc"><rect x="48.5" y="240.0" width="136.7" height="107.5"/></clipPath><clipPath id="waf"><ellipse cx="140" cy="300" rx="64" ry="42"/></clipPath><filter id="pblur" x="-5%" y="-5%" width="110%" height="110%"><feGaussianBlur stdDeviation="0.65"/></filter><linearGradient id="obj" x1="0" y1="0" x2="1" y2="0"><stop offset="0" stop-color="#5a5a56"/><stop offset="0.2" stop-color="#b8b8b0"/><stop offset="0.5" stop-color="#dcdcd4"/><stop offset="0.8" stop-color="#a4a49c"/><stop offset="1" stop-color="#50504c"/></linearGradient><linearGradient id="arm" x1="0" y1="0" x2="0.1" y2="1"><stop offset="0" stop-color="#dcdcdc"/><stop offset="0.45" stop-color="#a8a8a8"/><stop offset="1" stop-color="#505050"/></linearGradient><linearGradient id="glass" x1="0" y1="0" x2="1" y2="0"><stop offset="0" stop-color="#5a646e"/><stop offset="0.3" stop-color="#3a424c"/><stop offset="1" stop-color="#22282e"/></linearGradient></defs><g clip-path="url(#phc)"><g filter="url(#pblur)"><rect x="40" y="232" width="150" height="120" fill="#060608"/><rect x="131" y="236" width="60" height="7" fill="#b4b4bc"/><rect x="40" y="236" width="60" height="6" fill="#1c1c22"/><rect x="88" y="338" width="100" height="12" fill="#4a4a50"/><ellipse cx="142" cy="302" rx="86" ry="46" fill="url(#glass)"/><ellipse cx="142" cy="302" rx="86" ry="46" fill="none" stroke="#aab2ba" stroke-width="1.2"/><path d="M60 316 Q80 344 140 346 Q180 345 192 330" fill="none" stroke="#8a6a30" stroke-width="6.5"/><path d="M64 312 Q86 338 140 340 Q180 339 192 324" fill="none" stroke="#c4a464" stroke-width="1.6" opacity="0.8"/><ellipse cx="140" cy="300" rx="64" ry="42" fill="#121218"/><g clip-path="url(#waf)"><path fill="#a090a0" d="M89.11 262h2.12v1.5h-2.12zM100.93 262h2.12v1.5h-2.12zM108.02 262h2.12v1.5h-2.12zM131.67 262h2.12v1.5h-2.12zM136.4 262h2.12v1.5h-2.12zM114.6 264.34h2.18v1.54h-2.18zM119.52 264.34h2.18v1.54h-2.18zM166.29 264.34h2.18v1.54h-2.18zM119.19 266.73h2.25v1.59h-2.25zM132 266.73h2.25v1.59h-2.25zM134.56 266.73h2.25v1.59h-2.25zM142.24 266.73h2.25v1.59h-2.25zM154.48 271.7h2.38v1.68h-2.38zM171.08 271.7h2.38v1.68h-2.38zM92.29 274.28h2.45v1.73h-2.45zM98.04 274.28h2.45v1.73h-2.45zM109.53 274.28h2.45v1.73h-2.45zM126.78 274.28h2.45v1.73h-2.45zM96.91 276.93h2.52v1.79h-2.52zM120.77 276.93h2.52v1.79h-2.52zM168.51 276.93h2.52v1.79h-2.52zM84.92 282.42h2.66v1.89h-2.66zM152.36 282.42h2.66v1.89h-2.66zM161.99 282.42h2.66v1.89h-2.66zM165.2 282.42h2.66v1.89h-2.66zM83.35 285.27h2.74v1.95h-2.74zM159.93 285.27h2.74v1.95h-2.74zM173.24 285.27h2.74v1.95h-2.74zM140.39 288.19h2.82v2h-2.82zM72.93 291.18h2.9v2.06h-2.9zM144.43 291.18h2.9v2.06h-2.9zM176.6 291.18h2.9v2.06h-2.9zM74.68 294.25h2.98v2.12h-2.98zM145.02 294.25h2.98v2.12h-2.98zM174.64 294.25h2.98v2.12h-2.98zM68.97 297.4h3.06v2.18h-3.06zM172.46 297.4h3.06v2.18h-3.06zM176.3 297.4h3.06v2.18h-3.06zM134.36 300.63h3.15v2.24h-3.15zM146.9 303.94h3.24v2.31h-3.24zM155.11 303.94h3.24v2.31h-3.24zM179.73 303.94h3.24v2.31h-3.24zM183.84 303.94h3.24v2.31h-3.24zM192.05 303.94h3.24v2.31h-3.24zM168.78 307.33h3.33v2.37h-3.33zM60.45 310.81h3.42v2.44h-3.42zM165.79 310.81h3.42v2.44h-3.42zM144.39 314.37h3.52v2.51h-3.52zM171.61 314.37h3.52v2.51h-3.52zM187.14 318.03h3.61v2.58h-3.61zM169.74 321.77h3.71v2.65h-3.71zM46.04 325.61h3.82v2.72h-3.82zM176.12 325.61h3.82v2.72h-3.82z"/><path fill="#8080a0" d="M91.47 262h2.12v1.5h-2.12zM141.13 262h2.12v1.5h-2.12zM114.07 266.73h2.25v1.59h-2.25zM158.79 269.18h2.31v1.64h-2.31zM166.78 269.18h2.31v1.64h-2.31zM107.44 271.7h2.38v1.68h-2.38zM162.54 276.93h2.52v1.79h-2.52zM136.62 285.27h2.74v1.95h-2.74zM146.61 285.27h2.74v1.95h-2.74zM167.07 314.37h3.52v2.51h-3.52zM194.29 314.37h3.52v2.51h-3.52z"/><path fill="#707070" d="M93.84 262h2.12v1.5h-2.12zM129.3 262h2.12v1.5h-2.12zM145.86 262h2.12v1.5h-2.12zM112.14 264.34h2.18v1.54h-2.18zM169.44 269.18h2.31v1.64h-2.31zM85.31 271.7h2.38v1.68h-2.38zM126.81 271.7h2.38v1.68h-2.38zM132.71 276.93h2.52v1.79h-2.52zM150.61 276.93h2.52v1.79h-2.52zM101.94 279.64h2.59v1.84h-2.59zM123.46 282.42h2.66v1.89h-2.66zM73.36 285.27h2.74v1.95h-2.74zM129.96 285.27h2.74v1.95h-2.74zM130.04 288.19h2.82v2h-2.82zM158.73 291.18h2.9v2.06h-2.9zM72.81 297.4h3.06v2.18h-3.06zM148.93 314.37h3.52v2.51h-3.52zM173.08 318.03h3.61v2.58h-3.61z"/><path fill="#c0b0c0" d="M96.2 262h2.12v1.5h-2.12zM103.3 262h2.12v1.5h-2.12zM138.76 262h2.12v1.5h-2.12zM92.45 264.34h2.18v1.54h-2.18zM121.99 264.34h2.18v1.54h-2.18zM147.36 266.73h2.25v1.59h-2.25zM84.24 269.18h2.31v1.64h-2.31zM89.57 269.18h2.31v1.64h-2.31zM92.23 269.18h2.31v1.64h-2.31zM129.51 269.18h2.31v1.64h-2.31zM110.21 271.7h2.38v1.68h-2.38zM118.51 271.7h2.38v1.68h-2.38zM121.28 271.7h2.38v1.68h-2.38zM143.41 271.7h2.38v1.68h-2.38zM89.42 274.28h2.45v1.73h-2.45zM144.02 274.28h2.45v1.73h-2.45zM149.77 274.28h2.45v1.73h-2.45zM158.39 274.28h2.45v1.73h-2.45zM105.86 276.93h2.52v1.79h-2.52zM111.82 276.93h2.52v1.79h-2.52zM129.72 276.93h2.52v1.79h-2.52zM141.66 276.93h2.52v1.79h-2.52zM139.09 279.64h2.59v1.84h-2.59zM148.38 279.64h2.59v1.84h-2.59zM176.24 279.64h2.59v1.84h-2.59zM142.72 282.42h2.66v1.89h-2.66zM174.84 282.42h2.66v1.89h-2.66zM109.98 285.27h2.74v1.95h-2.74zM123.3 285.27h2.74v1.95h-2.74zM161.1 288.19h2.82v2h-2.82zM181.8 288.19h2.82v2h-2.82zM130.21 294.25h2.98v2.12h-2.98zM62.96 300.63h3.15v2.24h-3.15zM74.86 300.63h3.15v2.24h-3.15zM162.13 300.63h3.15v2.24h-3.15zM66.91 307.33h3.33v2.37h-3.33zM156.05 307.33h3.33v2.37h-3.33zM181.52 307.33h3.33v2.37h-3.33zM135.07 310.81h3.42v2.44h-3.42zM139.46 310.81h3.42v2.44h-3.42zM152.62 310.81h3.42v2.44h-3.42zM162.54 314.37h3.52v2.51h-3.52zM176.15 314.37h3.52v2.51h-3.52zM189.76 314.37h3.52v2.51h-3.52zM130.88 318.03h3.61v2.58h-3.61zM198.8 321.77h3.71v2.65h-3.71zM151.11 325.61h3.82v2.72h-3.82z"/><path fill="#606070" d="M98.57 262h2.12v1.5h-2.12zM112.75 262h2.12v1.5h-2.12zM144.8 266.73h2.25v1.59h-2.25zM86.91 269.18h2.31v1.64h-2.31zM134.83 269.18h2.31v1.64h-2.31zM150.81 269.18h2.31v1.64h-2.31zM148.95 271.7h2.38v1.68h-2.38zM103.79 274.28h2.45v1.73h-2.45zM90.94 276.93h2.52v1.79h-2.52zM123.61 279.64h2.59v1.84h-2.59zM158.78 282.42h2.66v1.89h-2.66zM96.66 285.27h2.74v1.95h-2.74zM183.75 291.18h2.9v2.06h-2.9zM170.94 294.25h2.98v2.12h-2.98zM65.14 297.4h3.06v2.18h-3.06zM168.63 297.4h3.06v2.18h-3.06zM139.85 314.37h3.52v2.51h-3.52zM141.1 325.61h3.82v2.72h-3.82z"/><path fill="#707080" d="M105.66 262h2.12v1.5h-2.12zM117.06 264.34h2.18v1.54h-2.18zM124.45 264.34h2.18v1.54h-2.18zM98.71 266.73h2.25v1.59h-2.25zM167.85 266.73h2.25v1.59h-2.25zM126.84 269.18h2.31v1.64h-2.31zM140.64 271.7h2.38v1.68h-2.38zM121.03 274.28h2.45v1.73h-2.45zM81.99 276.93h2.52v1.79h-2.52zM144.64 276.93h2.52v1.79h-2.52zM153.59 276.93h2.52v1.79h-2.52zM86.67 285.27h2.74v1.95h-2.74zM106.65 285.27h2.74v1.95h-2.74zM133.49 288.19h2.82v2h-2.82zM70.97 294.25h2.98v2.12h-2.98zM126.51 294.25h2.98v2.12h-2.98zM137.62 294.25h2.98v2.12h-2.98zM154.19 300.63h3.15v2.24h-3.15zM58.42 307.33h3.33v2.37h-3.33zM147.56 307.33h3.33v2.37h-3.33zM185.76 307.33h3.33v2.37h-3.33zM183.35 310.81h3.42v2.44h-3.42zM196.51 310.81h3.42v2.44h-3.42zM180.68 314.37h3.52v2.51h-3.52zM51.18 318.03h3.61v2.58h-3.61zM135.57 318.03h3.61v2.58h-3.61zM163.7 318.03h3.61v2.58h-3.61zM130.99 321.77h3.71v2.65h-3.71z"/><path fill="#b0a0b0" d="M110.39 262h2.12v1.5h-2.12zM117.48 262h2.12v1.5h-2.12zM122.21 262h2.12v1.5h-2.12zM143.49 262h2.12v1.5h-2.12zM150.58 262h2.12v1.5h-2.12zM152.95 262h2.12v1.5h-2.12zM149.06 264.34h2.18v1.54h-2.18zM158.91 264.34h2.18v1.54h-2.18zM85.91 266.73h2.25v1.59h-2.25zM101.27 266.73h2.25v1.59h-2.25zM108.95 266.73h2.25v1.59h-2.25zM116.63 266.73h2.25v1.59h-2.25zM165.29 266.73h2.25v1.59h-2.25zM97.56 269.18h2.31v1.64h-2.31zM124.18 269.18h2.31v1.64h-2.31zM148.14 269.18h2.31v1.64h-2.31zM161.46 269.18h2.31v1.64h-2.31zM93.61 271.7h2.38v1.68h-2.38zM101.91 271.7h2.38v1.68h-2.38zM137.88 271.7h2.38v1.68h-2.38zM106.66 274.28h2.45v1.73h-2.45zM115.28 274.28h2.45v1.73h-2.45zM118.15 274.28h2.45v1.73h-2.45zM123.9 274.28h2.45v1.73h-2.45zM132.52 274.28h2.45v1.73h-2.45zM152.64 274.28h2.45v1.73h-2.45zM167.01 274.28h2.45v1.73h-2.45zM169.88 274.28h2.45v1.73h-2.45zM84.97 276.93h2.52v1.79h-2.52zM165.53 276.93h2.52v1.79h-2.52zM117.42 279.64h2.59v1.84h-2.59zM166.95 279.64h2.59v1.84h-2.59zM88.13 282.42h2.66v1.89h-2.66zM117.03 282.42h2.66v1.89h-2.66zM126.67 282.42h2.66v1.89h-2.66zM136.3 282.42h2.66v1.89h-2.66zM145.94 282.42h2.66v1.89h-2.66zM133.29 285.27h2.74v1.95h-2.74zM153.27 285.27h2.74v1.95h-2.74zM179.9 285.27h2.74v1.95h-2.74zM126.59 288.19h2.82v2h-2.82zM171.45 288.19h2.82v2h-2.82zM126.55 291.18h2.9v2.06h-2.9zM133.91 294.25h2.98v2.12h-2.98zM152.43 294.25h2.98v2.12h-2.98zM137.97 297.4h3.06v2.18h-3.06zM149.47 297.4h3.06v2.18h-3.06zM160.96 297.4h3.06v2.18h-3.06zM187.8 297.4h3.06v2.18h-3.06zM158.16 300.63h3.15v2.24h-3.15zM134.59 303.94h3.24v2.31h-3.24zM159.21 303.94h3.24v2.31h-3.24zM171.53 303.94h3.24v2.31h-3.24zM126.34 307.33h3.33v2.37h-3.33zM139.07 307.33h3.33v2.37h-3.33zM194.25 307.33h3.33v2.37h-3.33zM73.62 310.81h3.42v2.44h-3.42zM178.96 310.81h3.42v2.44h-3.42zM76.34 314.37h3.52v2.51h-3.52zM130.78 314.37h3.52v2.51h-3.52zM158 314.37h3.52v2.51h-3.52zM154.32 318.03h3.61v2.58h-3.61zM182.45 318.03h3.61v2.58h-3.61zM48.64 321.77h3.71v2.65h-3.71zM179.43 321.77h3.71v2.65h-3.71zM131.1 325.61h3.82v2.72h-3.82zM146.1 325.61h3.82v2.72h-3.82zM161.11 325.61h3.82v2.72h-3.82zM196.14 325.61h3.82v2.72h-3.82z"/><path fill="#908090" d="M115.12 262h2.12v1.5h-2.12zM99.83 264.34h2.18v1.54h-2.18zM107.22 264.34h2.18v1.54h-2.18zM144.14 264.34h2.18v1.54h-2.18zM126.88 266.73h2.25v1.59h-2.25zM149.92 266.73h2.25v1.59h-2.25zM105.54 269.18h2.31v1.64h-2.31zM113.53 269.18h2.31v1.64h-2.31zM116.19 269.18h2.31v1.64h-2.31zM121.52 269.18h2.31v1.64h-2.31zM160.01 271.7h2.38v1.68h-2.38zM141.15 274.28h2.45v1.73h-2.45zM93.92 276.93h2.52v1.79h-2.52zM174.48 276.93h2.52v1.79h-2.52zM129.8 279.64h2.59v1.84h-2.59zM173.15 279.64h2.59v1.84h-2.59zM75.29 282.42h2.66v1.89h-2.66zM104.19 282.42h2.66v1.89h-2.66zM155.57 282.42h2.66v1.89h-2.66zM171.63 282.42h2.66v1.89h-2.66zM119.97 285.27h2.74v1.95h-2.74zM143.28 285.27h2.74v1.95h-2.74zM157.65 288.19h2.82v2h-2.82zM69.35 291.18h2.9v2.06h-2.9zM169.45 291.18h2.9v2.06h-2.9zM178.34 294.25h2.98v2.12h-2.98zM141.8 297.4h3.06v2.18h-3.06zM183.96 297.4h3.06v2.18h-3.06zM66.92 300.63h3.15v2.24h-3.15zM146.26 300.63h3.15v2.24h-3.15zM170.06 300.63h3.15v2.24h-3.15zM181.96 300.63h3.15v2.24h-3.15zM167.42 303.94h3.24v2.31h-3.24zM62.66 307.33h3.33v2.37h-3.33zM177.27 307.33h3.33v2.37h-3.33zM56.07 310.81h3.42v2.44h-3.42zM69.23 310.81h3.42v2.44h-3.42zM67.26 314.37h3.52v2.51h-3.52zM185.22 314.37h3.52v2.51h-3.52zM60.55 318.03h3.61v2.58h-3.61zM69.93 318.03h3.61v2.58h-3.61zM196.52 318.03h3.61v2.58h-3.61zM68.02 321.77h3.71v2.65h-3.71zM135.83 321.77h3.71v2.65h-3.71zM191.13 325.61h3.82v2.72h-3.82z"/><path fill="#9090a0" d="M119.85 262h2.12v1.5h-2.12zM155.31 262h2.12v1.5h-2.12zM102.3 264.34h2.18v1.54h-2.18zM146.6 264.34h2.18v1.54h-2.18zM137.12 266.73h2.25v1.59h-2.25zM152.48 266.73h2.25v1.59h-2.25zM99.14 271.7h2.38v1.68h-2.38zM165.55 271.7h2.38v1.68h-2.38zM129.65 274.28h2.45v1.73h-2.45zM172.76 274.28h2.45v1.73h-2.45zM170.05 279.64h2.59v1.84h-2.59zM100.98 282.42h2.66v1.89h-2.66zM177.99 300.63h3.15v2.24h-3.15zM65.24 318.03h3.61v2.58h-3.61zM191.83 318.03h3.61v2.58h-3.61zM58.33 321.77h3.71v2.65h-3.71zM160.05 321.77h3.71v2.65h-3.71zM51.04 325.61h3.82v2.72h-3.82z"/><path fill="#807080" d="M124.58 262h2.12v1.5h-2.12zM89.99 264.34h2.18v1.54h-2.18zM156.44 264.34h2.18v1.54h-2.18zM88.47 266.73h2.25v1.59h-2.25zM155.04 266.73h2.25v1.59h-2.25zM100.22 269.18h2.31v1.64h-2.31zM108.21 269.18h2.31v1.64h-2.31zM132.17 269.18h2.31v1.64h-2.31zM140.16 269.18h2.31v1.64h-2.31zM156.13 269.18h2.31v1.64h-2.31zM112.98 271.7h2.38v1.68h-2.38zM135.11 271.7h2.38v1.68h-2.38zM146.18 271.7h2.38v1.68h-2.38zM151.71 271.7h2.38v1.68h-2.38zM162.78 271.7h2.38v1.68h-2.38zM87.95 276.93h2.52v1.79h-2.52zM138.68 276.93h2.52v1.79h-2.52zM147.63 276.93h2.52v1.79h-2.52zM80.26 279.64h2.59v1.84h-2.59zM83.36 279.64h2.59v1.84h-2.59zM89.55 279.64h2.59v1.84h-2.59zM111.22 279.64h2.59v1.84h-2.59zM120.51 279.64h2.59v1.84h-2.59zM163.86 279.64h2.59v1.84h-2.59zM78.5 282.42h2.66v1.89h-2.66zM97.77 282.42h2.66v1.89h-2.66zM107.4 282.42h2.66v1.89h-2.66zM113.82 282.42h2.66v1.89h-2.66zM99.99 285.27h2.74v1.95h-2.74zM103.32 285.27h2.74v1.95h-2.74zM149.94 285.27h2.74v1.95h-2.74zM136.94 288.19h2.82v2h-2.82zM147.3 288.19h2.82v2h-2.82zM150.75 288.19h2.82v2h-2.82zM133.7 291.18h2.9v2.06h-2.9zM148 291.18h2.9v2.06h-2.9zM67.27 294.25h2.98v2.12h-2.98zM167.24 294.25h2.98v2.12h-2.98zM185.75 294.25h2.98v2.12h-2.98zM126.42 300.63h3.15v2.24h-3.15zM68.92 303.94h3.24v2.31h-3.24zM130.48 303.94h3.24v2.31h-3.24zM142.8 303.94h3.24v2.31h-3.24zM62.73 314.37h3.52v2.51h-3.52zM135.32 314.37h3.52v2.51h-3.52zM74.62 318.03h3.61v2.58h-3.61zM126.19 318.03h3.61v2.58h-3.61zM140.26 318.03h3.61v2.58h-3.61zM144.95 318.03h3.61v2.58h-3.61zM159.01 318.03h3.61v2.58h-3.61zM53.48 321.77h3.71v2.65h-3.71zM63.17 321.77h3.71v2.65h-3.71zM193.96 321.77h3.71v2.65h-3.71zM61.05 325.61h3.82v2.72h-3.82zM71.06 325.61h3.82v2.72h-3.82zM136.1 325.61h3.82v2.72h-3.82zM181.13 325.61h3.82v2.72h-3.82z"/><path fill="#808090" d="M126.94 262h2.12v1.5h-2.12zM148.22 262h2.12v1.5h-2.12zM91.03 266.73h2.25v1.59h-2.25zM106.39 266.73h2.25v1.59h-2.25zM160.17 266.73h2.25v1.59h-2.25zM112.41 274.28h2.45v1.73h-2.45zM146.89 274.28h2.45v1.73h-2.45zM108.84 276.93h2.52v1.79h-2.52zM135.69 276.93h2.52v1.79h-2.52zM160.76 279.64h2.59v1.84h-2.59zM81.71 282.42h2.66v1.89h-2.66zM129.88 282.42h2.66v1.89h-2.66zM162.3 291.18h2.9v2.06h-2.9zM148.72 294.25h2.98v2.12h-2.98zM159.83 294.25h2.98v2.12h-2.98zM76.64 297.4h3.06v2.18h-3.06zM130.39 300.63h3.15v2.24h-3.15zM77.13 303.94h3.24v2.31h-3.24zM170.18 310.81h3.42v2.44h-3.42zM145.52 321.77h3.71v2.65h-3.71zM126.09 325.61h3.82v2.72h-3.82zM201.14 325.61h3.82v2.72h-3.82z"/><path fill="#c0c0e0" d="M134.03 262h2.12v1.5h-2.12zM161.37 264.34h2.18v1.54h-2.18zM110.87 269.18h2.31v1.64h-2.31zM142.82 269.18h2.31v1.64h-2.31zM86.54 274.28h2.45v1.73h-2.45zM117.79 276.93h2.52v1.79h-2.52zM126.74 276.93h2.52v1.79h-2.52zM95.74 279.64h2.59v1.84h-2.59zM164.55 288.19h2.82v2h-2.82zM130.13 291.18h2.9v2.06h-2.9zM142.29 300.63h3.15v2.24h-3.15zM189.89 300.63h3.15v2.24h-3.15zM64.82 303.94h3.24v2.31h-3.24zM134.83 307.33h3.33v2.37h-3.33zM126.24 314.37h3.52v2.51h-3.52zM171.12 325.61h3.82v2.72h-3.82z"/><path fill="#706070" d="M157.68 262h2.12v1.5h-2.12zM97.37 264.34h2.18v1.54h-2.18zM104.76 264.34h2.18v1.54h-2.18zM126.91 264.34h2.18v1.54h-2.18zM129.37 264.34h2.18v1.54h-2.18zM134.29 264.34h2.18v1.54h-2.18zM136.75 264.34h2.18v1.54h-2.18zM151.52 264.34h2.18v1.54h-2.18zM163.83 264.34h2.18v1.54h-2.18zM111.51 266.73h2.25v1.59h-2.25zM124.32 266.73h2.25v1.59h-2.25zM162.73 266.73h2.25v1.59h-2.25zM153.47 269.18h2.31v1.64h-2.31zM88.07 271.7h2.38v1.68h-2.38zM96.38 271.7h2.38v1.68h-2.38zM129.58 271.7h2.38v1.68h-2.38zM83.67 274.28h2.45v1.73h-2.45zM135.4 274.28h2.45v1.73h-2.45zM161.26 274.28h2.45v1.73h-2.45zM79 276.93h2.52v1.79h-2.52zM102.87 276.93h2.52v1.79h-2.52zM114.81 276.93h2.52v1.79h-2.52zM98.84 279.64h2.59v1.84h-2.59zM108.13 279.64h2.59v1.84h-2.59zM157.67 279.64h2.59v1.84h-2.59zM90 285.27h2.74v1.95h-2.74zM163.26 285.27h2.74v1.95h-2.74zM169.91 285.27h2.74v1.95h-2.74zM178.35 288.19h2.82v2h-2.82zM137.28 291.18h2.9v2.06h-2.9zM165.88 291.18h2.9v2.06h-2.9zM163.53 294.25h2.98v2.12h-2.98zM126.47 297.4h3.06v2.18h-3.06zM130.3 297.4h3.06v2.18h-3.06zM153.3 297.4h3.06v2.18h-3.06zM138.33 300.63h3.15v2.24h-3.15zM174.03 300.63h3.15v2.24h-3.15zM73.03 303.94h3.24v2.31h-3.24zM75.4 307.33h3.33v2.37h-3.33zM130.58 307.33h3.33v2.37h-3.33zM151.8 307.33h3.33v2.37h-3.33zM126.29 310.81h3.42v2.44h-3.42zM148.23 310.81h3.42v2.44h-3.42zM174.57 310.81h3.42v2.44h-3.42zM187.74 310.81h3.42v2.44h-3.42zM55.87 318.03h3.61v2.58h-3.61zM140.67 321.77h3.71v2.65h-3.71zM150.36 321.77h3.71v2.65h-3.71zM155.21 321.77h3.71v2.65h-3.71zM164.89 321.77h3.71v2.65h-3.71zM184.27 321.77h3.71v2.65h-3.71zM76.06 325.61h3.82v2.72h-3.82zM206.14 325.61h3.82v2.72h-3.82z"/><path fill="#808080" d="M160.04 262h2.12v1.5h-2.12zM164.77 262h2.12v1.5h-2.12zM126.7 279.64h2.59v1.84h-2.59zM80.02 285.27h2.74v1.95h-2.74zM139.95 285.27h2.74v1.95h-2.74zM155.15 291.18h2.9v2.06h-2.9zM161.4 310.81h3.42v2.44h-3.42zM201.21 318.03h3.61v2.58h-3.61zM126.14 321.77h3.71v2.65h-3.71z"/><path fill="#707090" d="M162.41 262h2.12v1.5h-2.12zM149.15 282.42h2.66v1.89h-2.66zM130.68 310.81h3.42v2.44h-3.42zM71.8 314.37h3.52v2.51h-3.52zM92.9 337.73h4.14v2.96h-4.14z"/><path fill="#b0b0d0" d="M87.53 264.34h2.18v1.54h-2.18zM94.91 264.34h2.18v1.54h-2.18zM129.44 266.73h2.25v1.59h-2.25zM118.86 269.18h2.31v1.64h-2.31zM105.03 279.64h2.59v1.84h-2.59zM114.32 279.64h2.59v1.84h-2.59zM132.9 279.64h2.59v1.84h-2.59zM168.42 282.42h2.66v1.89h-2.66zM156.6 285.27h2.74v1.95h-2.74zM176.57 285.27h2.74v1.95h-2.74zM140.85 291.18h2.9v2.06h-2.9zM151.58 291.18h2.9v2.06h-2.9zM173.03 291.18h2.9v2.06h-2.9zM182.05 294.25h2.98v2.12h-2.98zM134.13 297.4h3.06v2.18h-3.06zM180.13 297.4h3.06v2.18h-3.06zM64.84 310.81h3.42v2.44h-3.42zM157.01 310.81h3.42v2.44h-3.42zM58.19 314.37h3.52v2.51h-3.52zM174.58 321.77h3.71v2.65h-3.71z"/><path fill="#c0c0d0" d="M109.68 264.34h2.18v1.54h-2.18zM142.19 279.64h2.59v1.84h-2.59zM151.47 279.64h2.59v1.84h-2.59zM71.38 288.19h2.82v2h-2.82zM143.84 288.19h2.82v2h-2.82zM138.69 303.94h3.24v2.31h-3.24zM149.64 318.03h3.61v2.58h-3.61zM72.86 321.77h3.71v2.65h-3.71zM66.05 325.61h3.82v2.72h-3.82z"/><path fill="#9090b0" d="M131.83 264.34h2.18v1.54h-2.18zM139.22 264.34h2.18v1.54h-2.18zM94.89 269.18h2.31v1.64h-2.31zM90.84 271.7h2.38v1.68h-2.38zM124.04 271.7h2.38v1.68h-2.38zM132.34 271.7h2.38v1.68h-2.38zM95.16 274.28h2.45v1.73h-2.45zM99.89 276.93h2.52v1.79h-2.52zM171.49 276.93h2.52v1.79h-2.52zM86.46 279.64h2.59v1.84h-2.59zM110.61 282.42h2.66v1.89h-2.66zM178.05 282.42h2.66v1.89h-2.66zM126.63 285.27h2.74v1.95h-2.74zM174.9 288.19h2.82v2h-2.82zM145.63 297.4h3.06v2.18h-3.06zM70.89 300.63h3.15v2.24h-3.15zM160.29 307.33h3.33v2.37h-3.33zM153.46 314.37h3.52v2.51h-3.52z"/><path fill="#d0b0d0" d="M141.68 264.34h2.18v1.54h-2.18zM100.91 274.28h2.45v1.73h-2.45zM145.28 279.64h2.59v1.84h-2.59zM93.33 285.27h2.74v1.95h-2.74zM168 288.19h2.82v2h-2.82zM192.12 310.81h3.42v2.44h-3.42zM198.83 314.37h3.52v2.51h-3.52zM168.39 318.03h3.61v2.58h-3.61zM166.12 325.61h3.82v2.72h-3.82z"/><path fill="#a0a0b0" d="M153.98 264.34h2.18v1.54h-2.18zM82.54 271.7h2.38v1.68h-2.38zM157.25 271.7h2.38v1.68h-2.38zM138.27 274.28h2.45v1.73h-2.45zM155.52 274.28h2.45v1.73h-2.45zM164.14 274.28h2.45v1.73h-2.45zM77.17 279.64h2.59v1.84h-2.59zM91.34 282.42h2.66v1.89h-2.66zM76.5 291.18h2.9v2.06h-2.9zM187.94 303.94h3.24v2.31h-3.24zM143.85 310.81h3.42v2.44h-3.42zM186.13 325.61h3.82v2.72h-3.82z"/><path fill="#d0c0d0" d="M93.59 266.73h2.25v1.59h-2.25zM96.15 266.73h2.25v1.59h-2.25zM103.83 266.73h2.25v1.59h-2.25zM139.68 266.73h2.25v1.59h-2.25zM137.49 269.18h2.31v1.64h-2.31zM145.48 269.18h2.31v1.64h-2.31zM164.12 269.18h2.31v1.64h-2.31zM168.31 271.7h2.38v1.68h-2.38zM80.79 274.28h2.45v1.73h-2.45zM123.76 276.93h2.52v1.79h-2.52zM156.58 276.93h2.52v1.79h-2.52zM159.56 276.93h2.52v1.79h-2.52zM135.99 279.64h2.59v1.84h-2.59zM154.57 279.64h2.59v1.84h-2.59zM113.31 285.27h2.74v1.95h-2.74zM180.18 291.18h2.9v2.06h-2.9zM141.32 294.25h2.98v2.12h-2.98zM156.13 294.25h2.98v2.12h-2.98zM164.8 297.4h3.06v2.18h-3.06zM150.23 300.63h3.15v2.24h-3.15zM185.93 300.63h3.15v2.24h-3.15zM60.72 303.94h3.24v2.31h-3.24zM190.01 307.33h3.33v2.37h-3.33zM56.05 325.61h3.82v2.72h-3.82z"/><path fill="#b0b0c0" d="M121.76 266.73h2.25v1.59h-2.25zM102.88 269.18h2.31v1.64h-2.31zM139.51 282.42h2.66v1.89h-2.66zM175.63 303.94h3.24v2.31h-3.24zM71.15 307.33h3.33v2.37h-3.33zM173.03 307.33h3.33v2.37h-3.33zM189.11 321.77h3.71v2.65h-3.71zM156.11 325.61h3.82v2.72h-3.82z"/><path fill="#909090" d="M157.6 266.73h2.25v1.59h-2.25zM92.65 279.64h2.59v1.84h-2.59zM94.55 282.42h2.66v1.89h-2.66zM133.09 282.42h2.66v1.89h-2.66zM164.54 307.33h3.33v2.37h-3.33z"/><path fill="#c0a0c0" d="M104.68 271.7h2.38v1.68h-2.38zM74.83 288.19h2.82v2h-2.82zM143.31 307.33h3.33v2.37h-3.33zM53.65 314.37h3.52v2.51h-3.52z"/><path fill="#a0a0c0" d="M115.74 271.7h2.38v1.68h-2.38zM120.25 282.42h2.66v1.89h-2.66zM76.69 285.27h2.74v1.95h-2.74zM116.64 285.27h2.74v1.95h-2.74zM166.58 285.27h2.74v1.95h-2.74zM154.2 288.19h2.82v2h-2.82zM157.13 297.4h3.06v2.18h-3.06zM166.09 300.63h3.15v2.24h-3.15zM126.38 303.94h3.24v2.31h-3.24zM151.01 303.94h3.24v2.31h-3.24zM163.32 303.94h3.24v2.31h-3.24zM177.77 318.03h3.61v2.58h-3.61zM203.65 321.77h3.71v2.65h-3.71z"/><path fill="#609060" d="M78.28 288.19h2.82v2h-2.82zM94.69 300.63h3.15v2.24h-3.15z"/><path fill="#408080" d="M81.73 288.19h2.82v2h-2.82z"/><path fill="#b07050" d="M85.18 288.19h2.82v2h-2.82zM79.54 329.55h3.92v2.8h-3.92z"/><path fill="#d0d0b0" d="M88.63 288.19h2.82v2h-2.82zM106.59 300.63h3.15v2.24h-3.15zM96.62 307.33h3.33v2.37h-3.33zM85.41 314.37h3.52v2.51h-3.52z"/><path fill="#908040" d="M92.08 288.19h2.82v2h-2.82zM107.44 318.03h3.61v2.58h-3.61zM96.07 325.61h3.82v2.72h-3.82zM89.87 329.55h3.92v2.8h-3.92z"/><path fill="#60a060" d="M95.53 288.19h2.82v2h-2.82zM121.9 310.81h3.42v2.44h-3.42z"/><path fill="#70c0d0" d="M98.98 288.19h2.82v2h-2.82zM98.66 300.63h3.15v2.24h-3.15zM118.49 300.63h3.15v2.24h-3.15zM116.82 318.03h3.61v2.58h-3.61z"/><path fill="#a06050" d="M102.44 288.19h2.82v2h-2.82zM97.95 291.18h2.9v2.06h-2.9zM111.08 325.61h3.82v2.72h-3.82z"/><path fill="#c0c0a0" d="M105.89 288.19h2.82v2h-2.82zM83.65 291.18h2.9v2.06h-2.9zM111.14 297.4h3.06v2.18h-3.06zM122.28 303.94h3.24v2.31h-3.24zM102.75 318.03h3.61v2.58h-3.61z"/><path fill="#c0b050" d="M109.34 288.19h2.82v2h-2.82zM122.98 291.18h2.9v2.06h-2.9zM77.7 321.77h3.71v2.65h-3.71zM121.09 325.61h3.82v2.72h-3.82z"/><path fill="#80e080" d="M112.79 288.19h2.82v2h-2.82zM114.52 300.63h3.15v2.24h-3.15zM78.01 310.81h3.42v2.44h-3.42zM88.69 318.03h3.61v2.58h-3.61z"/><path fill="#407080" d="M116.24 288.19h2.82v2h-2.82zM94.38 291.18h2.9v2.06h-2.9zM78.82 300.63h3.15v2.24h-3.15zM104.34 310.81h3.42v2.44h-3.42z"/><path fill="#906040" d="M119.69 288.19h2.82v2h-2.82z"/><path fill="#e0e0b0" d="M123.14 288.19h2.82v2h-2.82zM96.89 294.25h2.98v2.12h-2.98zM91.18 310.81h3.42v2.44h-3.42zM97.08 321.77h3.71v2.65h-3.71zM116.09 325.61h3.82v2.72h-3.82z"/><path fill="#e09070" d="M80.08 291.18h2.9v2.06h-2.9zM93.19 294.25h2.98v2.12h-2.98zM111.7 294.25h2.98v2.12h-2.98zM107.3 297.4h3.06v2.18h-3.06zM82.79 300.63h3.15v2.24h-3.15zM118.17 303.94h3.24v2.31h-3.24zM80.87 314.37h3.52v2.51h-3.52zM116.46 321.77h3.71v2.65h-3.71z"/><path fill="#e0d070" d="M87.23 291.18h2.9v2.06h-2.9zM100.59 294.25h2.98v2.12h-2.98zM84 318.03h3.61v2.58h-3.61z"/><path fill="#90e090" d="M90.8 291.18h2.9v2.06h-2.9zM108.68 291.18h2.9v2.06h-2.9zM109.96 303.94h3.24v2.31h-3.24zM95.04 329.55h3.92v2.8h-3.92z"/><path fill="#e0e0c0" d="M101.53 291.18h2.9v2.06h-2.9zM91.07 325.61h3.82v2.72h-3.82z"/><path fill="#d0c060" d="M105.1 291.18h2.9v2.06h-2.9zM100.87 307.33h3.33v2.37h-3.33z"/><path fill="#408090" d="M112.25 291.18h2.9v2.06h-2.9zM84.31 297.4h3.06v2.18h-3.06zM114.07 303.94h3.24v2.31h-3.24z"/><path fill="#b07060" d="M115.83 291.18h2.9v2.06h-2.9zM102.62 300.63h3.15v2.24h-3.15zM105.37 329.55h3.92v2.8h-3.92z"/><path fill="#f0f0c0" d="M119.4 291.18h2.9v2.06h-2.9zM91.97 297.4h3.06v2.18h-3.06zM121.3 321.77h3.71v2.65h-3.71z"/><path fill="#909080" d="M78.38 294.25h2.98v2.12h-2.98zM110.54 329.55h3.92v2.8h-3.92z"/><path fill="#d0b060" d="M82.08 294.25h2.98v2.12h-2.98z"/><path fill="#70b070" d="M85.78 294.25h2.98v2.12h-2.98zM89.44 303.94h3.24v2.31h-3.24zM83.89 307.33h3.33v2.37h-3.33zM105.11 307.33h3.33v2.37h-3.33zM94.48 314.37h3.52v2.51h-3.52zM101.08 325.61h3.82v2.72h-3.82z"/><path fill="#60b0c0" d="M89.49 294.25h2.98v2.12h-2.98zM93.37 318.03h3.61v2.58h-3.61zM87.39 321.77h3.71v2.65h-3.71z"/><path fill="#508050" d="M104.3 294.25h2.98v2.12h-2.98zM112.13 318.03h3.61v2.58h-3.61z"/><path fill="#5090a0" d="M108 294.25h2.98v2.12h-2.98zM103.47 297.4h3.06v2.18h-3.06zM99.02 314.37h3.52v2.51h-3.52z"/><path fill="#b0b090" d="M115.4 294.25h2.98v2.12h-2.98zM101.76 303.94h3.24v2.31h-3.24zM113.12 310.81h3.42v2.44h-3.42zM79.31 318.03h3.61v2.58h-3.61z"/><path fill="#a09040" d="M119.11 294.25h2.98v2.12h-2.98zM105.86 303.94h3.24v2.31h-3.24zM122.09 307.33h3.33v2.37h-3.33z"/><path fill="#60b060" d="M122.81 294.25h2.98v2.12h-2.98zM120.87 329.55h3.92v2.8h-3.92z"/><path fill="#509050" d="M80.47 297.4h3.06v2.18h-3.06z"/><path fill="#c08060" d="M88.14 297.4h3.06v2.18h-3.06zM122.46 300.63h3.15v2.24h-3.15zM97.65 303.94h3.24v2.31h-3.24z"/><path fill="#a09050" d="M95.8 297.4h3.06v2.18h-3.06z"/><path fill="#70c070" d="M99.64 297.4h3.06v2.18h-3.06zM117.17 314.37h3.52v2.51h-3.52zM82.55 321.77h3.71v2.65h-3.71z"/><path fill="#807040" d="M114.97 297.4h3.06v2.18h-3.06z"/><path fill="#80d080" d="M118.8 297.4h3.06v2.18h-3.06zM99.96 310.81h3.42v2.44h-3.42zM106.77 321.77h3.71v2.65h-3.71z"/><path fill="#508090" d="M122.64 297.4h3.06v2.18h-3.06zM93.55 303.94h3.24v2.31h-3.24zM121.7 314.37h3.52v2.51h-3.52zM81.06 325.61h3.82v2.72h-3.82z"/><path fill="#a0a080" d="M86.76 300.63h3.15v2.24h-3.15zM108.09 314.37h3.52v2.51h-3.52z"/><path fill="#b0a050" d="M90.72 300.63h3.15v2.24h-3.15zM79.64 307.33h3.33v2.37h-3.33zM89.95 314.37h3.52v2.51h-3.52zM115.71 329.55h3.92v2.8h-3.92z"/><path fill="#808040" d="M110.56 300.63h3.15v2.24h-3.15zM85.34 303.94h3.24v2.31h-3.24z"/><path fill="#808060" d="M81.24 303.94h3.24v2.31h-3.24zM117.85 307.33h3.33v2.37h-3.33z"/><path fill="#60a0b0" d="M88.13 307.33h3.33v2.37h-3.33zM111.61 321.77h3.71v2.65h-3.71z"/><path fill="#805040" d="M92.38 307.33h3.33v2.37h-3.33zM86.07 325.61h3.82v2.72h-3.82z"/><path fill="#70d0e0" d="M109.36 307.33h3.33v2.37h-3.33zM82.4 310.81h3.42v2.44h-3.42z"/><path fill="#c07060" d="M113.6 307.33h3.33v2.37h-3.33z"/><path fill="#906050" d="M86.79 310.81h3.42v2.44h-3.42zM98.06 318.03h3.61v2.58h-3.61zM121.5 318.03h3.61v2.58h-3.61z"/><path fill="#c0b060" d="M95.57 310.81h3.42v2.44h-3.42z"/><path fill="#a07050" d="M108.73 310.81h3.42v2.44h-3.42z"/><path fill="#e0c060" d="M117.51 310.81h3.42v2.44h-3.42z"/><path fill="#d08060" d="M103.56 314.37h3.52v2.51h-3.52z"/><path fill="#909040" d="M112.63 314.37h3.52v2.51h-3.52z"/><path fill="#705040" d="M92.24 321.77h3.71v2.65h-3.71z"/><path fill="#e0d060" d="M101.92 321.77h3.71v2.65h-3.71z"/><path fill="#509090" d="M106.08 325.61h3.82v2.72h-3.82z"/><path fill="#404070" d="M43.37 329.55h3.92v2.8h-3.92zM125.87 341.97h4.25v3.04h-4.25z"/><path fill="#505070" d="M48.54 329.55h3.92v2.8h-3.92zM136.37 329.55h3.92v2.8h-3.92zM151.87 329.55h3.92v2.8h-3.92zM162.21 329.55h3.92v2.8h-3.92zM167.37 329.55h3.92v2.8h-3.92zM51.31 333.59h4.03v2.88h-4.03zM56.64 333.59h4.03v2.88h-4.03zM67.31 333.59h4.03v2.88h-4.03zM88.65 333.59h4.03v2.88h-4.03zM152.66 333.59h4.03v2.88h-4.03zM157.99 333.59h4.03v2.88h-4.03zM168.66 333.59h4.03v2.88h-4.03zM195.33 333.59h4.03v2.88h-4.03zM81.88 337.73h4.14v2.96h-4.14zM114.92 337.73h4.14v2.96h-4.14zM147.95 337.73h4.14v2.96h-4.14zM192 337.73h4.14v2.96h-4.14zM80.42 341.97h4.25v3.04h-4.25zM131.56 341.97h4.25v3.04h-4.25zM188.37 341.97h4.25v3.04h-4.25z"/><path fill="#606090" d="M53.71 329.55h3.92v2.8h-3.92zM74.37 329.55h3.92v2.8h-3.92zM146.71 329.55h3.92v2.8h-3.92zM208.7 329.55h3.92v2.8h-3.92zM83.31 333.59h4.03v2.88h-4.03zM109.98 333.59h4.03v2.88h-4.03zM136.65 333.59h4.03v2.88h-4.03zM43.35 337.73h4.14v2.96h-4.14zM142.45 337.73h4.14v2.96h-4.14zM158.96 337.73h4.14v2.96h-4.14zM164.47 337.73h4.14v2.96h-4.14zM197.5 337.73h4.14v2.96h-4.14zM120.19 341.97h4.25v3.04h-4.25zM137.24 341.97h4.25v3.04h-4.25zM159.96 341.97h4.25v3.04h-4.25z"/><path fill="#8070b0" d="M58.87 329.55h3.92v2.8h-3.92zM120.65 333.59h4.03v2.88h-4.03zM175.48 337.73h4.14v2.96h-4.14zM154.28 341.97h4.25v3.04h-4.25z"/><path fill="#606080" d="M64.04 329.55h3.92v2.8h-3.92zM69.21 329.55h3.92v2.8h-3.92zM182.87 329.55h3.92v2.8h-3.92zM37.84 337.73h4.14v2.96h-4.14zM169.98 337.73h4.14v2.96h-4.14zM40.65 341.97h4.25v3.04h-4.25zM52.01 341.97h4.25v3.04h-4.25zM91.78 341.97h4.25v3.04h-4.25zM216.78 341.97h4.25v3.04h-4.25z"/><path fill="#b0b0a0" d="M84.71 329.55h3.92v2.8h-3.92z"/><path fill="#50a0b0" d="M100.21 329.55h3.92v2.8h-3.92z"/><path fill="#505080" d="M126.04 329.55h3.92v2.8h-3.92zM188.04 329.55h3.92v2.8h-3.92zM104.65 333.59h4.03v2.88h-4.03zM179.33 333.59h4.03v2.88h-4.03zM200.66 333.59h4.03v2.88h-4.03zM46.33 341.97h4.25v3.04h-4.25zM57.69 341.97h4.25v3.04h-4.25zM69.06 341.97h4.25v3.04h-4.25z"/><path fill="#8080b0" d="M131.21 329.55h3.92v2.8h-3.92zM77.98 333.59h4.03v2.88h-4.03zM109.41 337.73h4.14v2.96h-4.14zM108.83 341.97h4.25v3.04h-4.25z"/><path fill="#8070a0" d="M141.54 329.55h3.92v2.8h-3.92zM98.4 337.73h4.14v2.96h-4.14z"/><path fill="#7070a0" d="M157.04 329.55h3.92v2.8h-3.92zM40.64 333.59h4.03v2.88h-4.03zM45.98 333.59h4.03v2.88h-4.03zM115.32 333.59h4.03v2.88h-4.03zM125.99 333.59h4.03v2.88h-4.03zM70.87 337.73h4.14v2.96h-4.14zM87.39 337.73h4.14v2.96h-4.14zM214.02 337.73h4.14v2.96h-4.14zM74.74 341.97h4.25v3.04h-4.25zM86.1 341.97h4.25v3.04h-4.25zM114.51 341.97h4.25v3.04h-4.25zM142.92 341.97h4.25v3.04h-4.25zM165.65 341.97h4.25v3.04h-4.25zM171.33 341.97h4.25v3.04h-4.25zM205.42 341.97h4.25v3.04h-4.25z"/><path fill="#9080c0" d="M172.54 329.55h3.92v2.8h-3.92zM173.99 333.59h4.03v2.88h-4.03zM208.52 337.73h4.14v2.96h-4.14zM177.01 341.97h4.25v3.04h-4.25z"/><path fill="#404060" d="M177.7 329.55h3.92v2.8h-3.92zM61.98 333.59h4.03v2.88h-4.03zM72.65 333.59h4.03v2.88h-4.03zM147.32 333.59h4.03v2.88h-4.03zM189.99 333.59h4.03v2.88h-4.03zM211.33 333.59h4.03v2.88h-4.03zM48.85 337.73h4.14v2.96h-4.14zM59.86 337.73h4.14v2.96h-4.14zM125.93 337.73h4.14v2.96h-4.14zM136.94 337.73h4.14v2.96h-4.14zM34.97 341.97h4.25v3.04h-4.25zM103.15 341.97h4.25v3.04h-4.25zM182.69 341.97h4.25v3.04h-4.25zM194.05 341.97h4.25v3.04h-4.25z"/><path fill="#9090c0" d="M193.2 329.55h3.92v2.8h-3.92zM63.38 341.97h4.25v3.04h-4.25z"/><path fill="#7070b0" d="M198.37 329.55h3.92v2.8h-3.92zM93.98 333.59h4.03v2.88h-4.03zM103.91 337.73h4.14v2.96h-4.14zM180.99 337.73h4.14v2.96h-4.14zM203.01 337.73h4.14v2.96h-4.14zM148.6 341.97h4.25v3.04h-4.25z"/><path fill="#605080" d="M203.54 329.55h3.92v2.8h-3.92zM131.32 333.59h4.03v2.88h-4.03zM163.32 333.59h4.03v2.88h-4.03zM184.66 333.59h4.03v2.88h-4.03zM65.37 337.73h4.14v2.96h-4.14zM131.44 337.73h4.14v2.96h-4.14zM97.47 341.97h4.25v3.04h-4.25z"/><path fill="#9090d0" d="M99.32 333.59h4.03v2.88h-4.03zM120.42 337.73h4.14v2.96h-4.14zM186.49 337.73h4.14v2.96h-4.14zM211.1 341.97h4.25v3.04h-4.25z"/><path fill="#706090" d="M141.99 333.59h4.03v2.88h-4.03zM206 333.59h4.03v2.88h-4.03zM54.36 337.73h4.14v2.96h-4.14zM76.38 337.73h4.14v2.96h-4.14zM153.46 337.73h4.14v2.96h-4.14z"/><path fill="#504060" d="M199.74 341.97h4.25v3.04h-4.25z"/><rect x="116" y="264" width="12" height="26" fill="#60e070" opacity="0.35"/></g><rect x="168.5" y="302" width="15" height="24" fill="#e4e4ec" opacity="0.75"/><ellipse cx="124" cy="320" rx="8" ry="10" fill="#c8ccd4" opacity="0.85"/><ellipse cx="124" cy="316" rx="6" ry="4" fill="#e8ecf0"/><ellipse cx="105" cy="318" rx="12" ry="8" fill="#b8f0f0" opacity="0.28"/><rect x="40" y="232" width="15.5" height="120" fill="#050507"/><line x1="57" y1="311" x2="126" y2="292" stroke="#b8b8b8" stroke-width="1.2"/><polygon points="40,255 40,264 112,293 116,286" fill="url(#arm)"/><polygon points="100,281 116,286 113,292 97,287" fill="#e0e0e0"/><rect x="98" y="232" width="33" height="34.5" rx="4" fill="url(#obj)"/><rect x="98" y="239" width="33" height="6" fill="#6a6a64"/><rect x="99" y="262" width="31" height="4" fill="#78786f"/><polygon points="192,263 192,269 150,279 147,277" fill="#e8dcaa"/><polygon points="192,273 192,277 122,286 121,284" fill="#ddd0a0"/><polygon points="192,284 192,288 118,292 118,290" fill="#d4c490"/><polygon points="192,297 192,300 128,299 128,297" fill="#cfc090" opacity="0.9"/></g></g></svg>
<div class="abs" style="left:202px;top:148px;width:301px;height:110px;border:2px solid #8e1e2d;border-radius:16px"></div>
<div class="t" style="left:326px;top:160.5px;font-size:18px;font-weight:bold;font-style:italic;color:#a5172d">MEMS</div>
<div class="abs" style="left:223px;top:182px;width:113px;height:61px;background:#f5e086;border-radius:9px"></div>
<div class="abs" style="left:367px;top:182px;width:113px;height:61px;background:#f5e086;border-radius:9px"></div>
<div class="t" style="left:223px;top:189px;width:113px;text-align:center;font-size:14.4px;line-height:17px;font-weight:bold;font-style:italic;color:#141414">Electrical<br>component</div>
<div class="t" style="left:367px;top:189px;width:113px;text-align:center;font-size:14.4px;line-height:17px;font-weight:bold;font-style:italic;color:#141414">Mechanical<br>component</div>
<svg class="abs" style="left:0;top:0" width="775" height="400" viewBox="0 0 775 400"><g stroke="#9c1828" fill="none" stroke-linecap="round" stroke-linejoin="round"><line x1="338.5" y1="212.5" x2="363.5" y2="212.5" stroke-width="2.3"/><polyline points="344,208.2 338,212.5 344,216.8" stroke-width="2.6"/><polyline points="358.5,208.2 364.5,212.5 358.5,216.8" stroke-width="2.6"/></g><g stroke="#111" stroke-width="2" fill="none"><line x1="279.5" y1="243.5" x2="351" y2="323.5"/><line x1="422.5" y1="243.5" x2="361.5" y2="324.5"/><polyline points="349.5,316 351.5,324.5 343.5,321.5"/><polyline points="362.5,317 361.5,325.5 368.5,322"/></g></svg>
<div class="t" style="left:280px;top:337.5px;font-size:18.2px;font-weight:bold;color:#111">Complexity of test</div>
<div class="t" style="left:455px;top:29px;font-size:10.15px;line-height:11.1px;color:#222">MEMS gyroscope<br>Source: HSG - IMIT</div>
<div class="t" style="left:50px;top:354.5px;width:137px;text-align:center;font-size:10.2px;line-height:11.2px;color:#222">Exemple of electrical test<br>Source: Polytec</div>
<div class="t" style="left:535px;top:354.5px;width:125px;text-align:center;font-size:10.2px;line-height:11.2px;color:#222">Exemple of mechanical test<br>Source: Polytec</div>
<div class="t" style="left:525px;top:154px;font-size:12.2px;line-height:14px;font-weight:bold;color:#1a1a1a">Identification of the<br>Membrane thickness</div>
<div class="t" style="left:591px;top:375px;font-size:19.2px;color:#c8e0bb">www.cntronics.com</div>
<svg class="abs" style="left:0;top:0" width="775" height="400" viewBox="0 0 775 400"><defs><filter id="tblur" x="-5%" y="-5%" width="110%" height="110%"><feGaussianBlur stdDeviation="0.6"/></filter></defs><g filter="url(#tblur)"><circle cx="581.2" cy="268.5" r="72.3" fill="#fdfafa" stroke="#cdd3d3" stroke-width="1.3"/><path fill="#5a0c06" d="M512.9 253.28h3.9v3.77h-3.9zM512.9 257h3.9v3.77h-3.9zM512.9 260.72h3.9v3.77h-3.9zM512.9 264.44h3.9v3.77h-3.9zM512.9 268.16h3.9v3.77h-3.9zM512.9 271.88h3.9v3.77h-3.9zM512.9 275.6h3.9v3.77h-3.9zM516.75 242.12h3.9v3.77h-3.9zM516.75 249.56h3.9v3.77h-3.9zM516.75 253.28h3.9v3.77h-3.9zM516.75 260.72h3.9v3.77h-3.9zM516.75 264.44h3.9v3.77h-3.9zM516.75 279.32h3.9v3.77h-3.9zM516.75 286.76h3.9v3.77h-3.9zM516.75 290.48h3.9v3.77h-3.9zM520.6 234.68h3.9v3.77h-3.9zM520.6 238.4h3.9v3.77h-3.9zM520.6 290.48h3.9v3.77h-3.9zM520.6 294.2h3.9v3.77h-3.9zM520.6 297.92h3.9v3.77h-3.9zM524.45 227.24h3.9v3.77h-3.9zM524.45 301.64h3.9v3.77h-3.9zM528.3 227.24h3.9v3.77h-3.9zM528.3 305.36h3.9v3.77h-3.9zM532.15 219.8h3.9v3.77h-3.9zM532.15 309.08h3.9v3.77h-3.9zM536 216.08h3.9v3.77h-3.9zM536 312.8h3.9v3.77h-3.9zM536 316.52h3.9v3.77h-3.9zM542.8 208.64h3.9v3.77h-3.9zM542.8 212.36h3.9v3.77h-3.9zM542.8 316.52h3.9v3.77h-3.9zM542.8 320.24h3.9v3.77h-3.9zM546.65 208.64h3.9v3.77h-3.9zM546.65 320.24h3.9v3.77h-3.9zM546.65 323.96h3.9v3.77h-3.9zM550.5 204.92h3.9v3.77h-3.9zM550.5 323.96h3.9v3.77h-3.9zM554.35 204.92h3.9v3.77h-3.9zM554.35 323.96h3.9v3.77h-3.9zM558.2 201.2h3.9v3.77h-3.9zM558.2 204.92h3.9v3.77h-3.9zM558.2 327.68h3.9v3.77h-3.9zM562.05 201.2h3.9v3.77h-3.9zM562.05 327.68h3.9v3.77h-3.9zM565.9 201.2h3.9v3.77h-3.9zM565.9 327.68h3.9v3.77h-3.9zM569.75 327.68h3.9v3.77h-3.9zM569.75 331.4h3.9v3.77h-3.9zM573.6 327.68h3.9v3.77h-3.9zM573.6 331.4h3.9v3.77h-3.9zM580.4 201.2h3.9v3.77h-3.9zM580.4 327.68h3.9v3.77h-3.9zM580.4 331.4h3.9v3.77h-3.9zM584.25 201.2h3.9v3.77h-3.9zM584.25 331.4h3.9v3.77h-3.9zM588.1 201.2h3.9v3.77h-3.9zM588.1 331.4h3.9v3.77h-3.9zM591.95 201.2h3.9v3.77h-3.9zM591.95 327.68h3.9v3.77h-3.9zM591.95 331.4h3.9v3.77h-3.9zM595.8 327.68h3.9v3.77h-3.9zM599.65 201.2h3.9v3.77h-3.9zM599.65 204.92h3.9v3.77h-3.9zM599.65 327.68h3.9v3.77h-3.9zM603.5 204.92h3.9v3.77h-3.9zM603.5 323.96h3.9v3.77h-3.9zM603.5 327.68h3.9v3.77h-3.9zM607.35 204.92h3.9v3.77h-3.9zM607.35 208.64h3.9v3.77h-3.9zM607.35 323.96h3.9v3.77h-3.9zM611.2 208.64h3.9v3.77h-3.9zM611.2 320.24h3.9v3.77h-3.9zM611.2 323.96h3.9v3.77h-3.9zM618 212.36h3.9v3.77h-3.9zM618 320.24h3.9v3.77h-3.9zM621.85 212.36h3.9v3.77h-3.9zM621.85 216.08h3.9v3.77h-3.9zM621.85 316.52h3.9v3.77h-3.9zM625.7 216.08h3.9v3.77h-3.9zM625.7 219.8h3.9v3.77h-3.9zM625.7 312.8h3.9v3.77h-3.9zM629.55 219.8h3.9v3.77h-3.9zM629.55 305.36h3.9v3.77h-3.9zM629.55 309.08h3.9v3.77h-3.9zM633.4 227.24h3.9v3.77h-3.9zM633.4 230.96h3.9v3.77h-3.9zM633.4 301.64h3.9v3.77h-3.9zM633.4 305.36h3.9v3.77h-3.9zM637.25 230.96h3.9v3.77h-3.9zM637.25 234.68h3.9v3.77h-3.9zM637.25 290.48h3.9v3.77h-3.9zM637.25 294.2h3.9v3.77h-3.9zM637.25 297.92h3.9v3.77h-3.9zM641.1 238.4h3.9v3.77h-3.9zM641.1 242.12h3.9v3.77h-3.9zM641.1 245.84h3.9v3.77h-3.9zM641.1 249.56h3.9v3.77h-3.9zM641.1 253.28h3.9v3.77h-3.9zM641.1 275.6h3.9v3.77h-3.9zM641.1 279.32h3.9v3.77h-3.9zM641.1 283.04h3.9v3.77h-3.9zM641.1 286.76h3.9v3.77h-3.9zM641.1 290.48h3.9v3.77h-3.9zM644.95 249.56h3.9v3.77h-3.9zM644.95 253.28h3.9v3.77h-3.9zM644.95 257h3.9v3.77h-3.9zM644.95 260.72h3.9v3.77h-3.9zM644.95 264.44h3.9v3.77h-3.9zM644.95 268.16h3.9v3.77h-3.9zM644.95 275.6h3.9v3.77h-3.9zM644.95 279.32h3.9v3.77h-3.9z"/><path fill="#965a48" d="M516.75 245.84h3.9v3.77h-3.9zM528.3 223.52h3.9v3.77h-3.9zM528.3 309.08h3.9v3.77h-3.9zM532.15 312.8h3.9v3.77h-3.9zM554.35 327.68h3.9v3.77h-3.9zM569.75 201.2h3.9v3.77h-3.9zM595.8 201.2h3.9v3.77h-3.9zM629.55 223.52h3.9v3.77h-3.9zM644.95 271.88h3.9v3.77h-3.9z"/><path fill="#669c3c" d="M516.75 257h3.9v3.77h-3.9zM516.75 268.16h3.9v3.77h-3.9zM516.75 271.88h3.9v3.77h-3.9zM516.75 275.6h3.9v3.77h-3.9zM516.75 283.04h3.9v3.77h-3.9zM520.6 242.12h3.9v3.77h-3.9zM520.6 245.84h3.9v3.77h-3.9zM520.6 249.56h3.9v3.77h-3.9zM520.6 253.28h3.9v3.77h-3.9zM520.6 257h3.9v3.77h-3.9zM520.6 260.72h3.9v3.77h-3.9zM520.6 264.44h3.9v3.77h-3.9zM520.6 268.16h3.9v3.77h-3.9zM520.6 271.88h3.9v3.77h-3.9zM520.6 275.6h3.9v3.77h-3.9zM520.6 279.32h3.9v3.77h-3.9zM520.6 283.04h3.9v3.77h-3.9zM520.6 286.76h3.9v3.77h-3.9zM524.45 230.96h3.9v3.77h-3.9zM524.45 234.68h3.9v3.77h-3.9zM524.45 238.4h3.9v3.77h-3.9zM524.45 242.12h3.9v3.77h-3.9zM524.45 245.84h3.9v3.77h-3.9zM524.45 249.56h3.9v3.77h-3.9zM524.45 253.28h3.9v3.77h-3.9zM524.45 257h3.9v3.77h-3.9zM524.45 260.72h3.9v3.77h-3.9zM524.45 264.44h3.9v3.77h-3.9zM524.45 268.16h3.9v3.77h-3.9zM524.45 271.88h3.9v3.77h-3.9zM524.45 275.6h3.9v3.77h-3.9zM524.45 279.32h3.9v3.77h-3.9zM524.45 283.04h3.9v3.77h-3.9zM524.45 286.76h3.9v3.77h-3.9zM524.45 290.48h3.9v3.77h-3.9zM524.45 294.2h3.9v3.77h-3.9zM524.45 297.92h3.9v3.77h-3.9zM528.3 230.96h3.9v3.77h-3.9zM528.3 234.68h3.9v3.77h-3.9zM528.3 238.4h3.9v3.77h-3.9zM528.3 242.12h3.9v3.77h-3.9zM528.3 245.84h3.9v3.77h-3.9zM528.3 249.56h3.9v3.77h-3.9zM528.3 253.28h3.9v3.77h-3.9zM528.3 257h3.9v3.77h-3.9zM528.3 260.72h3.9v3.77h-3.9zM528.3 264.44h3.9v3.77h-3.9zM528.3 268.16h3.9v3.77h-3.9zM528.3 271.88h3.9v3.77h-3.9zM528.3 275.6h3.9v3.77h-3.9zM528.3 279.32h3.9v3.77h-3.9zM528.3 283.04h3.9v3.77h-3.9zM528.3 286.76h3.9v3.77h-3.9zM528.3 290.48h3.9v3.77h-3.9zM528.3 294.2h3.9v3.77h-3.9zM528.3 297.92h3.9v3.77h-3.9zM528.3 301.64h3.9v3.77h-3.9zM532.15 223.52h3.9v3.77h-3.9zM532.15 227.24h3.9v3.77h-3.9zM532.15 230.96h3.9v3.77h-3.9zM532.15 234.68h3.9v3.77h-3.9zM532.15 238.4h3.9v3.77h-3.9zM532.15 242.12h3.9v3.77h-3.9zM532.15 245.84h3.9v3.77h-3.9zM532.15 249.56h3.9v3.77h-3.9zM532.15 253.28h3.9v3.77h-3.9zM532.15 257h3.9v3.77h-3.9zM532.15 260.72h3.9v3.77h-3.9zM532.15 264.44h3.9v3.77h-3.9zM532.15 268.16h3.9v3.77h-3.9zM532.15 271.88h3.9v3.77h-3.9zM532.15 275.6h3.9v3.77h-3.9zM532.15 279.32h3.9v3.77h-3.9zM532.15 283.04h3.9v3.77h-3.9zM532.15 290.48h3.9v3.77h-3.9zM532.15 294.2h3.9v3.77h-3.9zM532.15 297.92h3.9v3.77h-3.9zM532.15 301.64h3.9v3.77h-3.9zM532.15 305.36h3.9v3.77h-3.9zM536 219.8h3.9v3.77h-3.9zM536 223.52h3.9v3.77h-3.9zM536 227.24h3.9v3.77h-3.9zM536 230.96h3.9v3.77h-3.9zM536 234.68h3.9v3.77h-3.9zM536 238.4h3.9v3.77h-3.9zM536 242.12h3.9v3.77h-3.9zM536 245.84h3.9v3.77h-3.9zM536 249.56h3.9v3.77h-3.9zM536 253.28h3.9v3.77h-3.9zM536 268.16h3.9v3.77h-3.9zM536 294.2h3.9v3.77h-3.9zM536 305.36h3.9v3.77h-3.9zM536 309.08h3.9v3.77h-3.9zM542.8 216.08h3.9v3.77h-3.9zM542.8 219.8h3.9v3.77h-3.9zM542.8 223.52h3.9v3.77h-3.9zM542.8 227.24h3.9v3.77h-3.9zM542.8 230.96h3.9v3.77h-3.9zM542.8 234.68h3.9v3.77h-3.9zM546.65 212.36h3.9v3.77h-3.9zM546.65 216.08h3.9v3.77h-3.9zM546.65 219.8h3.9v3.77h-3.9zM546.65 223.52h3.9v3.77h-3.9zM546.65 227.24h3.9v3.77h-3.9zM546.65 230.96h3.9v3.77h-3.9zM550.5 208.64h3.9v3.77h-3.9zM550.5 212.36h3.9v3.77h-3.9zM550.5 216.08h3.9v3.77h-3.9zM550.5 219.8h3.9v3.77h-3.9zM550.5 223.52h3.9v3.77h-3.9zM554.35 208.64h3.9v3.77h-3.9zM554.35 212.36h3.9v3.77h-3.9zM554.35 216.08h3.9v3.77h-3.9zM554.35 219.8h3.9v3.77h-3.9zM554.35 223.52h3.9v3.77h-3.9zM558.2 208.64h3.9v3.77h-3.9zM558.2 212.36h3.9v3.77h-3.9zM558.2 216.08h3.9v3.77h-3.9zM562.05 204.92h3.9v3.77h-3.9zM562.05 208.64h3.9v3.77h-3.9zM562.05 212.36h3.9v3.77h-3.9zM565.9 204.92h3.9v3.77h-3.9zM565.9 208.64h3.9v3.77h-3.9zM565.9 212.36h3.9v3.77h-3.9zM569.75 204.92h3.9v3.77h-3.9zM569.75 208.64h3.9v3.77h-3.9zM569.75 212.36h3.9v3.77h-3.9zM573.6 201.2h3.9v3.77h-3.9zM573.6 204.92h3.9v3.77h-3.9zM573.6 208.64h3.9v3.77h-3.9zM580.4 204.92h3.9v3.77h-3.9zM580.4 208.64h3.9v3.77h-3.9zM584.25 204.92h3.9v3.77h-3.9zM584.25 208.64h3.9v3.77h-3.9zM584.25 216.08h3.9v3.77h-3.9zM588.1 204.92h3.9v3.77h-3.9zM588.1 208.64h3.9v3.77h-3.9zM588.1 212.36h3.9v3.77h-3.9zM588.1 216.08h3.9v3.77h-3.9zM591.95 204.92h3.9v3.77h-3.9zM591.95 208.64h3.9v3.77h-3.9zM591.95 212.36h3.9v3.77h-3.9zM591.95 216.08h3.9v3.77h-3.9zM595.8 204.92h3.9v3.77h-3.9zM595.8 208.64h3.9v3.77h-3.9zM595.8 212.36h3.9v3.77h-3.9zM595.8 216.08h3.9v3.77h-3.9zM599.65 208.64h3.9v3.77h-3.9zM599.65 212.36h3.9v3.77h-3.9zM599.65 216.08h3.9v3.77h-3.9zM599.65 219.8h3.9v3.77h-3.9zM603.5 208.64h3.9v3.77h-3.9zM603.5 212.36h3.9v3.77h-3.9zM603.5 216.08h3.9v3.77h-3.9zM603.5 219.8h3.9v3.77h-3.9zM607.35 212.36h3.9v3.77h-3.9zM607.35 216.08h3.9v3.77h-3.9zM607.35 219.8h3.9v3.77h-3.9zM607.35 223.52h3.9v3.77h-3.9zM607.35 227.24h3.9v3.77h-3.9zM611.2 212.36h3.9v3.77h-3.9zM611.2 216.08h3.9v3.77h-3.9zM611.2 219.8h3.9v3.77h-3.9zM611.2 223.52h3.9v3.77h-3.9zM611.2 227.24h3.9v3.77h-3.9zM611.2 230.96h3.9v3.77h-3.9zM611.2 238.4h3.9v3.77h-3.9zM618 216.08h3.9v3.77h-3.9zM618 219.8h3.9v3.77h-3.9zM618 223.52h3.9v3.77h-3.9zM618 227.24h3.9v3.77h-3.9zM618 230.96h3.9v3.77h-3.9zM618 234.68h3.9v3.77h-3.9zM618 238.4h3.9v3.77h-3.9zM618 242.12h3.9v3.77h-3.9zM618 245.84h3.9v3.77h-3.9zM618 249.56h3.9v3.77h-3.9zM618 253.28h3.9v3.77h-3.9zM618 257h3.9v3.77h-3.9zM618 260.72h3.9v3.77h-3.9zM618 290.48h3.9v3.77h-3.9zM618 294.2h3.9v3.77h-3.9zM618 297.92h3.9v3.77h-3.9zM618 301.64h3.9v3.77h-3.9zM618 309.08h3.9v3.77h-3.9zM618 312.8h3.9v3.77h-3.9zM618 316.52h3.9v3.77h-3.9zM621.85 219.8h3.9v3.77h-3.9zM621.85 223.52h3.9v3.77h-3.9zM621.85 227.24h3.9v3.77h-3.9zM621.85 230.96h3.9v3.77h-3.9zM621.85 234.68h3.9v3.77h-3.9zM621.85 238.4h3.9v3.77h-3.9zM621.85 242.12h3.9v3.77h-3.9zM621.85 245.84h3.9v3.77h-3.9zM621.85 249.56h3.9v3.77h-3.9zM621.85 253.28h3.9v3.77h-3.9zM621.85 257h3.9v3.77h-3.9zM621.85 260.72h3.9v3.77h-3.9zM621.85 264.44h3.9v3.77h-3.9zM621.85 268.16h3.9v3.77h-3.9zM621.85 271.88h3.9v3.77h-3.9zM621.85 275.6h3.9v3.77h-3.9zM621.85 279.32h3.9v3.77h-3.9zM621.85 283.04h3.9v3.77h-3.9zM621.85 286.76h3.9v3.77h-3.9zM621.85 290.48h3.9v3.77h-3.9zM621.85 294.2h3.9v3.77h-3.9zM621.85 297.92h3.9v3.77h-3.9zM621.85 301.64h3.9v3.77h-3.9zM621.85 305.36h3.9v3.77h-3.9zM621.85 309.08h3.9v3.77h-3.9zM621.85 312.8h3.9v3.77h-3.9zM625.7 223.52h3.9v3.77h-3.9zM625.7 227.24h3.9v3.77h-3.9zM625.7 230.96h3.9v3.77h-3.9zM625.7 234.68h3.9v3.77h-3.9zM625.7 238.4h3.9v3.77h-3.9zM625.7 242.12h3.9v3.77h-3.9zM625.7 245.84h3.9v3.77h-3.9zM625.7 249.56h3.9v3.77h-3.9zM625.7 253.28h3.9v3.77h-3.9zM625.7 257h3.9v3.77h-3.9zM625.7 260.72h3.9v3.77h-3.9zM625.7 264.44h3.9v3.77h-3.9zM625.7 268.16h3.9v3.77h-3.9zM625.7 271.88h3.9v3.77h-3.9zM625.7 275.6h3.9v3.77h-3.9zM625.7 279.32h3.9v3.77h-3.9zM625.7 283.04h3.9v3.77h-3.9zM625.7 286.76h3.9v3.77h-3.9zM625.7 290.48h3.9v3.77h-3.9zM625.7 294.2h3.9v3.77h-3.9zM625.7 297.92h3.9v3.77h-3.9zM625.7 301.64h3.9v3.77h-3.9zM625.7 305.36h3.9v3.77h-3.9zM625.7 309.08h3.9v3.77h-3.9zM629.55 227.24h3.9v3.77h-3.9zM629.55 230.96h3.9v3.77h-3.9zM629.55 234.68h3.9v3.77h-3.9zM629.55 238.4h3.9v3.77h-3.9zM629.55 242.12h3.9v3.77h-3.9zM629.55 245.84h3.9v3.77h-3.9zM629.55 249.56h3.9v3.77h-3.9zM629.55 253.28h3.9v3.77h-3.9zM629.55 257h3.9v3.77h-3.9zM629.55 260.72h3.9v3.77h-3.9zM629.55 264.44h3.9v3.77h-3.9zM629.55 268.16h3.9v3.77h-3.9zM629.55 271.88h3.9v3.77h-3.9zM629.55 275.6h3.9v3.77h-3.9zM629.55 279.32h3.9v3.77h-3.9zM629.55 283.04h3.9v3.77h-3.9zM629.55 286.76h3.9v3.77h-3.9zM629.55 290.48h3.9v3.77h-3.9zM629.55 294.2h3.9v3.77h-3.9zM629.55 297.92h3.9v3.77h-3.9zM629.55 301.64h3.9v3.77h-3.9zM633.4 234.68h3.9v3.77h-3.9zM633.4 238.4h3.9v3.77h-3.9zM633.4 242.12h3.9v3.77h-3.9zM633.4 245.84h3.9v3.77h-3.9zM633.4 249.56h3.9v3.77h-3.9zM633.4 253.28h3.9v3.77h-3.9zM633.4 257h3.9v3.77h-3.9zM633.4 260.72h3.9v3.77h-3.9zM633.4 264.44h3.9v3.77h-3.9zM633.4 268.16h3.9v3.77h-3.9zM633.4 271.88h3.9v3.77h-3.9zM633.4 275.6h3.9v3.77h-3.9zM633.4 279.32h3.9v3.77h-3.9zM633.4 283.04h3.9v3.77h-3.9zM633.4 286.76h3.9v3.77h-3.9zM633.4 290.48h3.9v3.77h-3.9zM633.4 294.2h3.9v3.77h-3.9zM633.4 297.92h3.9v3.77h-3.9zM637.25 238.4h3.9v3.77h-3.9zM637.25 242.12h3.9v3.77h-3.9zM637.25 245.84h3.9v3.77h-3.9zM637.25 249.56h3.9v3.77h-3.9zM637.25 253.28h3.9v3.77h-3.9zM637.25 257h3.9v3.77h-3.9zM637.25 260.72h3.9v3.77h-3.9zM637.25 264.44h3.9v3.77h-3.9zM637.25 268.16h3.9v3.77h-3.9zM637.25 271.88h3.9v3.77h-3.9zM637.25 275.6h3.9v3.77h-3.9zM637.25 279.32h3.9v3.77h-3.9zM637.25 283.04h3.9v3.77h-3.9zM637.25 286.76h3.9v3.77h-3.9zM641.1 257h3.9v3.77h-3.9zM641.1 260.72h3.9v3.77h-3.9zM641.1 264.44h3.9v3.77h-3.9zM641.1 268.16h3.9v3.77h-3.9zM641.1 271.88h3.9v3.77h-3.9z"/><path fill="#609c36" d="M532.15 286.76h3.9v3.77h-3.9zM536 290.48h3.9v3.77h-3.9zM542.8 238.4h3.9v3.77h-3.9zM562.05 216.08h3.9v3.77h-3.9zM580.4 212.36h3.9v3.77h-3.9zM595.8 219.8h3.9v3.77h-3.9z"/><path fill="#609630" d="M536 257h3.9v3.77h-3.9zM536 260.72h3.9v3.77h-3.9zM536 279.32h3.9v3.77h-3.9zM542.8 242.12h3.9v3.77h-3.9zM542.8 249.56h3.9v3.77h-3.9zM542.8 253.28h3.9v3.77h-3.9zM542.8 257h3.9v3.77h-3.9zM546.65 238.4h3.9v3.77h-3.9zM546.65 242.12h3.9v3.77h-3.9zM550.5 227.24h3.9v3.77h-3.9zM550.5 316.52h3.9v3.77h-3.9zM550.5 320.24h3.9v3.77h-3.9zM554.35 230.96h3.9v3.77h-3.9zM558.2 223.52h3.9v3.77h-3.9zM558.2 227.24h3.9v3.77h-3.9zM558.2 320.24h3.9v3.77h-3.9zM565.9 323.96h3.9v3.77h-3.9zM569.75 216.08h3.9v3.77h-3.9zM569.75 219.8h3.9v3.77h-3.9zM569.75 323.96h3.9v3.77h-3.9zM580.4 219.8h3.9v3.77h-3.9zM591.95 323.96h3.9v3.77h-3.9zM595.8 223.52h3.9v3.77h-3.9zM595.8 227.24h3.9v3.77h-3.9zM599.65 223.52h3.9v3.77h-3.9zM599.65 320.24h3.9v3.77h-3.9zM603.5 227.24h3.9v3.77h-3.9zM603.5 230.96h3.9v3.77h-3.9zM603.5 320.24h3.9v3.77h-3.9zM607.35 238.4h3.9v3.77h-3.9zM607.35 242.12h3.9v3.77h-3.9zM607.35 320.24h3.9v3.77h-3.9zM611.2 242.12h3.9v3.77h-3.9zM611.2 245.84h3.9v3.77h-3.9zM611.2 253.28h3.9v3.77h-3.9zM611.2 316.52h3.9v3.77h-3.9zM618 264.44h3.9v3.77h-3.9zM618 268.16h3.9v3.77h-3.9zM618 283.04h3.9v3.77h-3.9z"/><path fill="#609636" d="M536 264.44h3.9v3.77h-3.9zM536 286.76h3.9v3.77h-3.9zM536 297.92h3.9v3.77h-3.9zM536 301.64h3.9v3.77h-3.9zM542.8 245.84h3.9v3.77h-3.9zM542.8 312.8h3.9v3.77h-3.9zM550.5 230.96h3.9v3.77h-3.9zM554.35 227.24h3.9v3.77h-3.9zM558.2 219.8h3.9v3.77h-3.9zM558.2 323.96h3.9v3.77h-3.9zM565.9 216.08h3.9v3.77h-3.9zM573.6 216.08h3.9v3.77h-3.9zM580.4 216.08h3.9v3.77h-3.9zM584.25 212.36h3.9v3.77h-3.9zM584.25 323.96h3.9v3.77h-3.9zM588.1 219.8h3.9v3.77h-3.9zM588.1 327.68h3.9v3.77h-3.9zM591.95 219.8h3.9v3.77h-3.9zM595.8 323.96h3.9v3.77h-3.9zM607.35 230.96h3.9v3.77h-3.9zM607.35 234.68h3.9v3.77h-3.9zM611.2 234.68h3.9v3.77h-3.9zM618 275.6h3.9v3.77h-3.9zM618 279.32h3.9v3.77h-3.9zM618 305.36h3.9v3.77h-3.9z"/><path fill="#5a9630" d="M536 271.88h3.9v3.77h-3.9zM536 283.04h3.9v3.77h-3.9zM546.65 234.68h3.9v3.77h-3.9zM546.65 316.52h3.9v3.77h-3.9zM562.05 219.8h3.9v3.77h-3.9zM565.9 219.8h3.9v3.77h-3.9zM584.25 327.68h3.9v3.77h-3.9zM588.1 223.52h3.9v3.77h-3.9zM588.1 323.96h3.9v3.77h-3.9zM607.35 316.52h3.9v3.77h-3.9zM611.2 312.8h3.9v3.77h-3.9zM618 271.88h3.9v3.77h-3.9z"/><path fill="#5a9030" d="M536 275.6h3.9v3.77h-3.9zM542.8 260.72h3.9v3.77h-3.9zM542.8 264.44h3.9v3.77h-3.9zM542.8 297.92h3.9v3.77h-3.9zM542.8 301.64h3.9v3.77h-3.9zM542.8 305.36h3.9v3.77h-3.9zM542.8 309.08h3.9v3.77h-3.9zM546.65 312.8h3.9v3.77h-3.9zM554.35 320.24h3.9v3.77h-3.9zM562.05 227.24h3.9v3.77h-3.9zM565.9 223.52h3.9v3.77h-3.9zM584.25 219.8h3.9v3.77h-3.9zM584.25 223.52h3.9v3.77h-3.9zM599.65 227.24h3.9v3.77h-3.9zM599.65 230.96h3.9v3.77h-3.9zM599.65 323.96h3.9v3.77h-3.9zM603.5 234.68h3.9v3.77h-3.9zM607.35 249.56h3.9v3.77h-3.9zM607.35 312.8h3.9v3.77h-3.9zM611.2 249.56h3.9v3.77h-3.9zM611.2 257h3.9v3.77h-3.9zM611.2 309.08h3.9v3.77h-3.9zM618 286.76h3.9v3.77h-3.9z"/><path fill="#4e8a2a" d="M542.8 268.16h3.9v3.77h-3.9zM542.8 271.88h3.9v3.77h-3.9zM542.8 286.76h3.9v3.77h-3.9zM542.8 294.2h3.9v3.77h-3.9zM546.65 249.56h3.9v3.77h-3.9zM546.65 253.28h3.9v3.77h-3.9zM546.65 268.16h3.9v3.77h-3.9zM546.65 294.2h3.9v3.77h-3.9zM546.65 297.92h3.9v3.77h-3.9zM546.65 301.64h3.9v3.77h-3.9zM546.65 305.36h3.9v3.77h-3.9zM550.5 242.12h3.9v3.77h-3.9zM550.5 253.28h3.9v3.77h-3.9zM554.35 242.12h3.9v3.77h-3.9zM554.35 316.52h3.9v3.77h-3.9zM558.2 230.96h3.9v3.77h-3.9zM558.2 238.4h3.9v3.77h-3.9zM565.9 230.96h3.9v3.77h-3.9zM569.75 227.24h3.9v3.77h-3.9zM569.75 230.96h3.9v3.77h-3.9zM584.25 227.24h3.9v3.77h-3.9zM595.8 238.4h3.9v3.77h-3.9zM595.8 320.24h3.9v3.77h-3.9zM599.65 234.68h3.9v3.77h-3.9zM599.65 238.4h3.9v3.77h-3.9zM603.5 242.12h3.9v3.77h-3.9zM603.5 245.84h3.9v3.77h-3.9zM603.5 249.56h3.9v3.77h-3.9zM603.5 305.36h3.9v3.77h-3.9zM603.5 309.08h3.9v3.77h-3.9zM607.35 257h3.9v3.77h-3.9zM607.35 260.72h3.9v3.77h-3.9zM607.35 294.2h3.9v3.77h-3.9zM607.35 301.64h3.9v3.77h-3.9zM607.35 309.08h3.9v3.77h-3.9zM611.2 260.72h3.9v3.77h-3.9zM611.2 275.6h3.9v3.77h-3.9zM611.2 279.32h3.9v3.77h-3.9zM611.2 286.76h3.9v3.77h-3.9z"/><path fill="#54902a" d="M542.8 275.6h3.9v3.77h-3.9zM542.8 290.48h3.9v3.77h-3.9zM546.65 245.84h3.9v3.77h-3.9zM546.65 257h3.9v3.77h-3.9zM546.65 309.08h3.9v3.77h-3.9zM550.5 234.68h3.9v3.77h-3.9zM550.5 238.4h3.9v3.77h-3.9zM550.5 245.84h3.9v3.77h-3.9zM550.5 312.8h3.9v3.77h-3.9zM554.35 234.68h3.9v3.77h-3.9zM554.35 238.4h3.9v3.77h-3.9zM562.05 223.52h3.9v3.77h-3.9zM562.05 230.96h3.9v3.77h-3.9zM565.9 227.24h3.9v3.77h-3.9zM569.75 223.52h3.9v3.77h-3.9zM573.6 223.52h3.9v3.77h-3.9zM580.4 223.52h3.9v3.77h-3.9zM588.1 227.24h3.9v3.77h-3.9zM591.95 223.52h3.9v3.77h-3.9zM591.95 227.24h3.9v3.77h-3.9zM591.95 230.96h3.9v3.77h-3.9zM595.8 230.96h3.9v3.77h-3.9zM595.8 234.68h3.9v3.77h-3.9zM599.65 242.12h3.9v3.77h-3.9zM603.5 238.4h3.9v3.77h-3.9zM603.5 312.8h3.9v3.77h-3.9zM603.5 316.52h3.9v3.77h-3.9zM607.35 245.84h3.9v3.77h-3.9zM607.35 253.28h3.9v3.77h-3.9zM607.35 305.36h3.9v3.77h-3.9zM611.2 264.44h3.9v3.77h-3.9zM611.2 283.04h3.9v3.77h-3.9zM611.2 290.48h3.9v3.77h-3.9zM611.2 294.2h3.9v3.77h-3.9zM611.2 297.92h3.9v3.77h-3.9zM611.2 301.64h3.9v3.77h-3.9zM611.2 305.36h3.9v3.77h-3.9z"/><path fill="#48842a" d="M542.8 279.32h3.9v3.77h-3.9zM546.65 264.44h3.9v3.77h-3.9zM546.65 275.6h3.9v3.77h-3.9zM546.65 290.48h3.9v3.77h-3.9zM550.5 249.56h3.9v3.77h-3.9zM550.5 260.72h3.9v3.77h-3.9zM550.5 294.2h3.9v3.77h-3.9zM550.5 297.92h3.9v3.77h-3.9zM550.5 301.64h3.9v3.77h-3.9zM550.5 305.36h3.9v3.77h-3.9zM550.5 309.08h3.9v3.77h-3.9zM554.35 245.84h3.9v3.77h-3.9zM554.35 305.36h3.9v3.77h-3.9zM554.35 309.08h3.9v3.77h-3.9zM558.2 234.68h3.9v3.77h-3.9zM558.2 312.8h3.9v3.77h-3.9zM562.05 320.24h3.9v3.77h-3.9zM565.9 320.24h3.9v3.77h-3.9zM569.75 320.24h3.9v3.77h-3.9zM573.6 227.24h3.9v3.77h-3.9zM573.6 323.96h3.9v3.77h-3.9zM580.4 227.24h3.9v3.77h-3.9zM580.4 320.24h3.9v3.77h-3.9zM580.4 323.96h3.9v3.77h-3.9zM591.95 234.68h3.9v3.77h-3.9zM591.95 316.52h3.9v3.77h-3.9zM595.8 312.8h3.9v3.77h-3.9zM599.65 309.08h3.9v3.77h-3.9zM599.65 312.8h3.9v3.77h-3.9zM603.5 297.92h3.9v3.77h-3.9zM603.5 301.64h3.9v3.77h-3.9zM607.35 268.16h3.9v3.77h-3.9zM607.35 275.6h3.9v3.77h-3.9zM611.2 271.88h3.9v3.77h-3.9z"/><path fill="#488a2a" d="M542.8 283.04h3.9v3.77h-3.9zM546.65 260.72h3.9v3.77h-3.9zM554.35 312.8h3.9v3.77h-3.9zM558.2 242.12h3.9v3.77h-3.9zM558.2 316.52h3.9v3.77h-3.9zM562.05 234.68h3.9v3.77h-3.9zM565.9 234.68h3.9v3.77h-3.9zM580.4 230.96h3.9v3.77h-3.9zM595.8 316.52h3.9v3.77h-3.9zM599.65 316.52h3.9v3.77h-3.9zM607.35 264.44h3.9v3.77h-3.9zM607.35 297.92h3.9v3.77h-3.9zM611.2 268.16h3.9v3.77h-3.9z"/><path fill="#42842a" d="M546.65 271.88h3.9v3.77h-3.9zM546.65 286.76h3.9v3.77h-3.9zM550.5 264.44h3.9v3.77h-3.9zM550.5 286.76h3.9v3.77h-3.9zM558.2 249.56h3.9v3.77h-3.9zM558.2 305.36h3.9v3.77h-3.9zM562.05 238.4h3.9v3.77h-3.9zM562.05 242.12h3.9v3.77h-3.9zM562.05 312.8h3.9v3.77h-3.9zM573.6 230.96h3.9v3.77h-3.9zM573.6 234.68h3.9v3.77h-3.9zM580.4 234.68h3.9v3.77h-3.9zM584.25 230.96h3.9v3.77h-3.9zM584.25 234.68h3.9v3.77h-3.9zM588.1 230.96h3.9v3.77h-3.9zM588.1 234.68h3.9v3.77h-3.9zM591.95 238.4h3.9v3.77h-3.9zM591.95 320.24h3.9v3.77h-3.9zM595.8 242.12h3.9v3.77h-3.9zM599.65 245.84h3.9v3.77h-3.9zM603.5 253.28h3.9v3.77h-3.9zM603.5 257h3.9v3.77h-3.9zM603.5 260.72h3.9v3.77h-3.9zM603.5 294.2h3.9v3.77h-3.9zM607.35 271.88h3.9v3.77h-3.9zM607.35 279.32h3.9v3.77h-3.9zM607.35 283.04h3.9v3.77h-3.9zM607.35 286.76h3.9v3.77h-3.9zM607.35 290.48h3.9v3.77h-3.9z"/><path fill="#3c842a" d="M546.65 279.32h3.9v3.77h-3.9zM565.9 316.52h3.9v3.77h-3.9zM573.6 238.4h3.9v3.77h-3.9zM584.25 320.24h3.9v3.77h-3.9zM588.1 320.24h3.9v3.77h-3.9zM591.95 242.12h3.9v3.77h-3.9zM591.95 245.84h3.9v3.77h-3.9zM591.95 312.8h3.9v3.77h-3.9zM599.65 301.64h3.9v3.77h-3.9zM603.5 264.44h3.9v3.77h-3.9z"/><path fill="#3c7e2a" d="M546.65 283.04h3.9v3.77h-3.9zM550.5 257h3.9v3.77h-3.9zM550.5 275.6h3.9v3.77h-3.9zM550.5 290.48h3.9v3.77h-3.9zM554.35 249.56h3.9v3.77h-3.9zM554.35 253.28h3.9v3.77h-3.9zM554.35 257h3.9v3.77h-3.9zM554.35 260.72h3.9v3.77h-3.9zM554.35 264.44h3.9v3.77h-3.9zM554.35 290.48h3.9v3.77h-3.9zM558.2 245.84h3.9v3.77h-3.9zM558.2 253.28h3.9v3.77h-3.9zM558.2 309.08h3.9v3.77h-3.9zM562.05 316.52h3.9v3.77h-3.9zM565.9 238.4h3.9v3.77h-3.9zM565.9 242.12h3.9v3.77h-3.9zM565.9 312.8h3.9v3.77h-3.9zM569.75 234.68h3.9v3.77h-3.9zM569.75 238.4h3.9v3.77h-3.9zM569.75 242.12h3.9v3.77h-3.9zM569.75 316.52h3.9v3.77h-3.9zM573.6 320.24h3.9v3.77h-3.9zM580.4 238.4h3.9v3.77h-3.9zM584.25 238.4h3.9v3.77h-3.9zM584.25 316.52h3.9v3.77h-3.9zM588.1 238.4h3.9v3.77h-3.9zM588.1 242.12h3.9v3.77h-3.9zM588.1 309.08h3.9v3.77h-3.9zM588.1 316.52h3.9v3.77h-3.9zM595.8 245.84h3.9v3.77h-3.9zM595.8 253.28h3.9v3.77h-3.9zM599.65 249.56h3.9v3.77h-3.9zM599.65 253.28h3.9v3.77h-3.9zM599.65 257h3.9v3.77h-3.9zM599.65 268.16h3.9v3.77h-3.9zM599.65 305.36h3.9v3.77h-3.9zM603.5 271.88h3.9v3.77h-3.9zM603.5 275.6h3.9v3.77h-3.9zM603.5 279.32h3.9v3.77h-3.9zM603.5 283.04h3.9v3.77h-3.9zM603.5 286.76h3.9v3.77h-3.9zM603.5 290.48h3.9v3.77h-3.9z"/><path fill="#36782a" d="M550.5 268.16h3.9v3.77h-3.9zM550.5 271.88h3.9v3.77h-3.9zM550.5 279.32h3.9v3.77h-3.9zM550.5 283.04h3.9v3.77h-3.9zM554.35 271.88h3.9v3.77h-3.9zM554.35 279.32h3.9v3.77h-3.9zM554.35 283.04h3.9v3.77h-3.9zM554.35 294.2h3.9v3.77h-3.9zM554.35 297.92h3.9v3.77h-3.9zM554.35 301.64h3.9v3.77h-3.9zM558.2 257h3.9v3.77h-3.9zM558.2 264.44h3.9v3.77h-3.9zM558.2 301.64h3.9v3.77h-3.9zM562.05 245.84h3.9v3.77h-3.9zM562.05 249.56h3.9v3.77h-3.9zM562.05 305.36h3.9v3.77h-3.9zM565.9 245.84h3.9v3.77h-3.9zM565.9 309.08h3.9v3.77h-3.9zM580.4 312.8h3.9v3.77h-3.9zM580.4 316.52h3.9v3.77h-3.9zM591.95 253.28h3.9v3.77h-3.9zM591.95 305.36h3.9v3.77h-3.9zM595.8 249.56h3.9v3.77h-3.9zM595.8 260.72h3.9v3.77h-3.9zM595.8 294.2h3.9v3.77h-3.9zM595.8 301.64h3.9v3.77h-3.9zM595.8 305.36h3.9v3.77h-3.9zM595.8 309.08h3.9v3.77h-3.9zM599.65 264.44h3.9v3.77h-3.9zM599.65 271.88h3.9v3.77h-3.9zM599.65 290.48h3.9v3.77h-3.9zM599.65 297.92h3.9v3.77h-3.9zM603.5 268.16h3.9v3.77h-3.9z"/><path fill="#30782a" d="M554.35 268.16h3.9v3.77h-3.9zM554.35 275.6h3.9v3.77h-3.9zM558.2 290.48h3.9v3.77h-3.9zM558.2 297.92h3.9v3.77h-3.9zM562.05 309.08h3.9v3.77h-3.9zM565.9 249.56h3.9v3.77h-3.9zM565.9 305.36h3.9v3.77h-3.9zM569.75 312.8h3.9v3.77h-3.9zM573.6 242.12h3.9v3.77h-3.9zM573.6 312.8h3.9v3.77h-3.9zM573.6 316.52h3.9v3.77h-3.9zM580.4 242.12h3.9v3.77h-3.9zM580.4 245.84h3.9v3.77h-3.9zM580.4 309.08h3.9v3.77h-3.9zM584.25 242.12h3.9v3.77h-3.9zM588.1 245.84h3.9v3.77h-3.9zM588.1 253.28h3.9v3.77h-3.9zM588.1 312.8h3.9v3.77h-3.9zM591.95 257h3.9v3.77h-3.9zM591.95 297.92h3.9v3.77h-3.9zM591.95 309.08h3.9v3.77h-3.9zM595.8 279.32h3.9v3.77h-3.9zM595.8 297.92h3.9v3.77h-3.9zM599.65 260.72h3.9v3.77h-3.9zM599.65 294.2h3.9v3.77h-3.9z"/><path fill="#30722a" d="M554.35 286.76h3.9v3.77h-3.9zM558.2 260.72h3.9v3.77h-3.9zM558.2 271.88h3.9v3.77h-3.9zM558.2 294.2h3.9v3.77h-3.9zM562.05 253.28h3.9v3.77h-3.9zM562.05 264.44h3.9v3.77h-3.9zM562.05 297.92h3.9v3.77h-3.9zM562.05 301.64h3.9v3.77h-3.9zM569.75 245.84h3.9v3.77h-3.9zM569.75 305.36h3.9v3.77h-3.9zM573.6 245.84h3.9v3.77h-3.9zM573.6 249.56h3.9v3.77h-3.9zM573.6 309.08h3.9v3.77h-3.9zM580.4 305.36h3.9v3.77h-3.9zM584.25 245.84h3.9v3.77h-3.9zM584.25 309.08h3.9v3.77h-3.9zM584.25 312.8h3.9v3.77h-3.9zM588.1 301.64h3.9v3.77h-3.9zM591.95 249.56h3.9v3.77h-3.9zM591.95 301.64h3.9v3.77h-3.9zM595.8 257h3.9v3.77h-3.9zM595.8 283.04h3.9v3.77h-3.9zM599.65 275.6h3.9v3.77h-3.9zM599.65 279.32h3.9v3.77h-3.9zM599.65 283.04h3.9v3.77h-3.9zM599.65 286.76h3.9v3.77h-3.9z"/><path fill="#2a722a" d="M558.2 268.16h3.9v3.77h-3.9zM562.05 257h3.9v3.77h-3.9zM565.9 257h3.9v3.77h-3.9zM569.75 249.56h3.9v3.77h-3.9zM569.75 253.28h3.9v3.77h-3.9zM569.75 301.64h3.9v3.77h-3.9zM569.75 309.08h3.9v3.77h-3.9zM584.25 249.56h3.9v3.77h-3.9zM584.25 301.64h3.9v3.77h-3.9zM584.25 305.36h3.9v3.77h-3.9zM588.1 249.56h3.9v3.77h-3.9zM588.1 260.72h3.9v3.77h-3.9zM588.1 305.36h3.9v3.77h-3.9zM591.95 294.2h3.9v3.77h-3.9zM595.8 264.44h3.9v3.77h-3.9zM595.8 290.48h3.9v3.77h-3.9z"/><path fill="#246c24" d="M558.2 275.6h3.9v3.77h-3.9zM558.2 283.04h3.9v3.77h-3.9zM562.05 268.16h3.9v3.77h-3.9zM562.05 286.76h3.9v3.77h-3.9zM562.05 290.48h3.9v3.77h-3.9zM562.05 294.2h3.9v3.77h-3.9zM565.9 264.44h3.9v3.77h-3.9zM565.9 290.48h3.9v3.77h-3.9zM565.9 294.2h3.9v3.77h-3.9zM569.75 257h3.9v3.77h-3.9zM569.75 297.92h3.9v3.77h-3.9zM573.6 260.72h3.9v3.77h-3.9zM580.4 257h3.9v3.77h-3.9zM580.4 297.92h3.9v3.77h-3.9zM580.4 301.64h3.9v3.77h-3.9zM584.25 253.28h3.9v3.77h-3.9zM584.25 294.2h3.9v3.77h-3.9zM588.1 268.16h3.9v3.77h-3.9zM588.1 290.48h3.9v3.77h-3.9zM588.1 297.92h3.9v3.77h-3.9zM591.95 260.72h3.9v3.77h-3.9zM591.95 271.88h3.9v3.77h-3.9zM591.95 279.32h3.9v3.77h-3.9zM591.95 290.48h3.9v3.77h-3.9zM595.8 275.6h3.9v3.77h-3.9z"/><path fill="#2a6c2a" d="M558.2 279.32h3.9v3.77h-3.9zM562.05 260.72h3.9v3.77h-3.9zM562.05 271.88h3.9v3.77h-3.9zM565.9 297.92h3.9v3.77h-3.9zM565.9 301.64h3.9v3.77h-3.9zM573.6 253.28h3.9v3.77h-3.9zM580.4 249.56h3.9v3.77h-3.9zM580.4 253.28h3.9v3.77h-3.9zM588.1 257h3.9v3.77h-3.9zM591.95 264.44h3.9v3.77h-3.9zM595.8 268.16h3.9v3.77h-3.9zM595.8 271.88h3.9v3.77h-3.9zM595.8 286.76h3.9v3.77h-3.9z"/><path fill="#246c2a" d="M558.2 286.76h3.9v3.77h-3.9zM562.05 279.32h3.9v3.77h-3.9zM565.9 253.28h3.9v3.77h-3.9zM573.6 305.36h3.9v3.77h-3.9zM591.95 268.16h3.9v3.77h-3.9zM591.95 275.6h3.9v3.77h-3.9z"/><path fill="#246624" d="M562.05 275.6h3.9v3.77h-3.9zM569.75 264.44h3.9v3.77h-3.9zM569.75 290.48h3.9v3.77h-3.9zM573.6 297.92h3.9v3.77h-3.9zM573.6 301.64h3.9v3.77h-3.9zM584.25 260.72h3.9v3.77h-3.9zM588.1 283.04h3.9v3.77h-3.9z"/><path fill="#1e6624" d="M562.05 283.04h3.9v3.77h-3.9zM565.9 260.72h3.9v3.77h-3.9zM565.9 268.16h3.9v3.77h-3.9zM565.9 271.88h3.9v3.77h-3.9zM565.9 279.32h3.9v3.77h-3.9zM565.9 283.04h3.9v3.77h-3.9zM565.9 286.76h3.9v3.77h-3.9zM569.75 260.72h3.9v3.77h-3.9zM569.75 271.88h3.9v3.77h-3.9zM569.75 294.2h3.9v3.77h-3.9zM573.6 257h3.9v3.77h-3.9zM580.4 260.72h3.9v3.77h-3.9zM580.4 294.2h3.9v3.77h-3.9zM584.25 257h3.9v3.77h-3.9zM584.25 286.76h3.9v3.77h-3.9zM584.25 297.92h3.9v3.77h-3.9zM588.1 264.44h3.9v3.77h-3.9zM588.1 286.76h3.9v3.77h-3.9zM588.1 294.2h3.9v3.77h-3.9zM591.95 283.04h3.9v3.77h-3.9zM591.95 286.76h3.9v3.77h-3.9z"/><path fill="#669c36" d="M562.05 323.96h3.9v3.77h-3.9zM573.6 212.36h3.9v3.77h-3.9zM603.5 223.52h3.9v3.77h-3.9z"/><path fill="#186024" d="M565.9 275.6h3.9v3.77h-3.9zM569.75 268.16h3.9v3.77h-3.9zM569.75 283.04h3.9v3.77h-3.9zM569.75 286.76h3.9v3.77h-3.9zM573.6 268.16h3.9v3.77h-3.9zM573.6 279.32h3.9v3.77h-3.9zM573.6 290.48h3.9v3.77h-3.9zM573.6 294.2h3.9v3.77h-3.9zM580.4 264.44h3.9v3.77h-3.9zM580.4 268.16h3.9v3.77h-3.9zM580.4 271.88h3.9v3.77h-3.9zM580.4 279.32h3.9v3.77h-3.9zM580.4 283.04h3.9v3.77h-3.9zM580.4 290.48h3.9v3.77h-3.9zM584.25 271.88h3.9v3.77h-3.9zM584.25 279.32h3.9v3.77h-3.9zM584.25 283.04h3.9v3.77h-3.9zM588.1 271.88h3.9v3.77h-3.9zM588.1 279.32h3.9v3.77h-3.9z"/><path fill="#185a24" d="M569.75 275.6h3.9v3.77h-3.9zM573.6 286.76h3.9v3.77h-3.9zM580.4 286.76h3.9v3.77h-3.9z"/><path fill="#1e6024" d="M569.75 279.32h3.9v3.77h-3.9zM573.6 264.44h3.9v3.77h-3.9zM584.25 264.44h3.9v3.77h-3.9zM584.25 268.16h3.9v3.77h-3.9zM584.25 275.6h3.9v3.77h-3.9zM584.25 290.48h3.9v3.77h-3.9zM588.1 275.6h3.9v3.77h-3.9z"/><path fill="#5a902a" d="M573.6 219.8h3.9v3.77h-3.9z"/><path fill="#125a24" d="M573.6 271.88h3.9v3.77h-3.9zM573.6 275.6h3.9v3.77h-3.9zM573.6 283.04h3.9v3.77h-3.9zM580.4 275.6h3.9v3.77h-3.9z"/><path fill="#f0e4cc" d="M517.15 246.24h3.1v2.97h-3.1zM528.7 223.92h3.1v2.97h-3.1zM528.7 309.48h3.1v2.97h-3.1zM532.55 313.2h3.1v2.97h-3.1zM554.75 328.08h3.1v2.97h-3.1zM570.15 201.6h3.1v2.97h-3.1zM596.2 201.6h3.1v2.97h-3.1zM629.95 223.92h3.1v2.97h-3.1zM645.35 272.28h3.1v2.97h-3.1z"/><path fill="#e4ea84" d="M517.15 257.4h3.1v2.97h-3.1zM517.15 268.56h3.1v2.97h-3.1zM517.15 272.28h3.1v2.97h-3.1zM517.15 276h3.1v2.97h-3.1zM517.15 283.44h3.1v2.97h-3.1zM521 242.52h3.1v2.97h-3.1zM521 246.24h3.1v2.97h-3.1zM521 249.96h3.1v2.97h-3.1zM521 253.68h3.1v2.97h-3.1zM521 257.4h3.1v2.97h-3.1zM521 261.12h3.1v2.97h-3.1zM521 264.84h3.1v2.97h-3.1zM521 268.56h3.1v2.97h-3.1zM521 272.28h3.1v2.97h-3.1zM521 276h3.1v2.97h-3.1zM521 279.72h3.1v2.97h-3.1zM521 283.44h3.1v2.97h-3.1zM521 287.16h3.1v2.97h-3.1zM524.85 231.36h3.1v2.97h-3.1zM524.85 235.08h3.1v2.97h-3.1zM524.85 238.8h3.1v2.97h-3.1zM524.85 242.52h3.1v2.97h-3.1zM524.85 246.24h3.1v2.97h-3.1zM524.85 249.96h3.1v2.97h-3.1zM524.85 253.68h3.1v2.97h-3.1zM524.85 257.4h3.1v2.97h-3.1zM524.85 261.12h3.1v2.97h-3.1zM524.85 264.84h3.1v2.97h-3.1zM524.85 268.56h3.1v2.97h-3.1zM524.85 272.28h3.1v2.97h-3.1zM524.85 276h3.1v2.97h-3.1zM524.85 279.72h3.1v2.97h-3.1zM524.85 283.44h3.1v2.97h-3.1zM524.85 287.16h3.1v2.97h-3.1zM524.85 290.88h3.1v2.97h-3.1zM524.85 294.6h3.1v2.97h-3.1zM524.85 298.32h3.1v2.97h-3.1zM528.7 231.36h3.1v2.97h-3.1zM528.7 235.08h3.1v2.97h-3.1zM528.7 238.8h3.1v2.97h-3.1zM528.7 242.52h3.1v2.97h-3.1zM528.7 246.24h3.1v2.97h-3.1zM528.7 249.96h3.1v2.97h-3.1zM528.7 253.68h3.1v2.97h-3.1zM528.7 257.4h3.1v2.97h-3.1zM528.7 261.12h3.1v2.97h-3.1zM528.7 264.84h3.1v2.97h-3.1zM528.7 268.56h3.1v2.97h-3.1zM528.7 272.28h3.1v2.97h-3.1zM528.7 276h3.1v2.97h-3.1zM528.7 279.72h3.1v2.97h-3.1zM528.7 283.44h3.1v2.97h-3.1zM528.7 287.16h3.1v2.97h-3.1zM528.7 290.88h3.1v2.97h-3.1zM528.7 294.6h3.1v2.97h-3.1zM528.7 298.32h3.1v2.97h-3.1zM528.7 302.04h3.1v2.97h-3.1zM532.55 223.92h3.1v2.97h-3.1zM532.55 227.64h3.1v2.97h-3.1zM532.55 231.36h3.1v2.97h-3.1zM532.55 235.08h3.1v2.97h-3.1zM532.55 238.8h3.1v2.97h-3.1zM532.55 242.52h3.1v2.97h-3.1zM532.55 246.24h3.1v2.97h-3.1zM532.55 249.96h3.1v2.97h-3.1zM532.55 253.68h3.1v2.97h-3.1zM532.55 257.4h3.1v2.97h-3.1zM532.55 261.12h3.1v2.97h-3.1zM532.55 264.84h3.1v2.97h-3.1zM532.55 268.56h3.1v2.97h-3.1zM532.55 272.28h3.1v2.97h-3.1zM532.55 276h3.1v2.97h-3.1zM532.55 279.72h3.1v2.97h-3.1zM532.55 283.44h3.1v2.97h-3.1zM532.55 290.88h3.1v2.97h-3.1zM532.55 294.6h3.1v2.97h-3.1zM532.55 298.32h3.1v2.97h-3.1zM532.55 302.04h3.1v2.97h-3.1zM532.55 305.76h3.1v2.97h-3.1zM536.4 220.2h3.1v2.97h-3.1zM536.4 223.92h3.1v2.97h-3.1zM536.4 227.64h3.1v2.97h-3.1zM536.4 231.36h3.1v2.97h-3.1zM536.4 235.08h3.1v2.97h-3.1zM536.4 238.8h3.1v2.97h-3.1zM536.4 242.52h3.1v2.97h-3.1zM536.4 246.24h3.1v2.97h-3.1zM536.4 249.96h3.1v2.97h-3.1zM536.4 253.68h3.1v2.97h-3.1zM536.4 294.6h3.1v2.97h-3.1zM536.4 305.76h3.1v2.97h-3.1zM536.4 309.48h3.1v2.97h-3.1zM543.2 216.48h3.1v2.97h-3.1zM543.2 220.2h3.1v2.97h-3.1zM543.2 223.92h3.1v2.97h-3.1zM543.2 227.64h3.1v2.97h-3.1zM543.2 231.36h3.1v2.97h-3.1zM543.2 235.08h3.1v2.97h-3.1zM547.05 212.76h3.1v2.97h-3.1zM547.05 216.48h3.1v2.97h-3.1zM547.05 220.2h3.1v2.97h-3.1zM547.05 223.92h3.1v2.97h-3.1zM547.05 227.64h3.1v2.97h-3.1zM550.9 209.04h3.1v2.97h-3.1zM550.9 212.76h3.1v2.97h-3.1zM550.9 216.48h3.1v2.97h-3.1zM550.9 220.2h3.1v2.97h-3.1zM550.9 223.92h3.1v2.97h-3.1zM554.75 209.04h3.1v2.97h-3.1zM554.75 212.76h3.1v2.97h-3.1zM554.75 216.48h3.1v2.97h-3.1zM554.75 220.2h3.1v2.97h-3.1zM554.75 223.92h3.1v2.97h-3.1zM558.6 209.04h3.1v2.97h-3.1zM558.6 212.76h3.1v2.97h-3.1zM558.6 216.48h3.1v2.97h-3.1zM562.45 205.32h3.1v2.97h-3.1zM562.45 209.04h3.1v2.97h-3.1zM566.3 205.32h3.1v2.97h-3.1zM566.3 209.04h3.1v2.97h-3.1zM566.3 212.76h3.1v2.97h-3.1zM570.15 205.32h3.1v2.97h-3.1zM570.15 209.04h3.1v2.97h-3.1zM570.15 212.76h3.1v2.97h-3.1zM574 201.6h3.1v2.97h-3.1zM574 205.32h3.1v2.97h-3.1zM574 209.04h3.1v2.97h-3.1zM580.8 205.32h3.1v2.97h-3.1zM584.65 205.32h3.1v2.97h-3.1zM584.65 209.04h3.1v2.97h-3.1zM584.65 216.48h3.1v2.97h-3.1zM588.5 205.32h3.1v2.97h-3.1zM588.5 209.04h3.1v2.97h-3.1zM588.5 212.76h3.1v2.97h-3.1zM592.35 205.32h3.1v2.97h-3.1zM592.35 209.04h3.1v2.97h-3.1zM592.35 212.76h3.1v2.97h-3.1zM592.35 216.48h3.1v2.97h-3.1zM596.2 205.32h3.1v2.97h-3.1zM596.2 209.04h3.1v2.97h-3.1zM596.2 212.76h3.1v2.97h-3.1zM596.2 216.48h3.1v2.97h-3.1zM600.05 209.04h3.1v2.97h-3.1zM600.05 212.76h3.1v2.97h-3.1zM600.05 216.48h3.1v2.97h-3.1zM600.05 220.2h3.1v2.97h-3.1zM603.9 209.04h3.1v2.97h-3.1zM603.9 212.76h3.1v2.97h-3.1zM603.9 216.48h3.1v2.97h-3.1zM603.9 220.2h3.1v2.97h-3.1zM607.75 212.76h3.1v2.97h-3.1zM607.75 216.48h3.1v2.97h-3.1zM607.75 220.2h3.1v2.97h-3.1zM607.75 223.92h3.1v2.97h-3.1zM607.75 227.64h3.1v2.97h-3.1zM611.6 212.76h3.1v2.97h-3.1zM611.6 216.48h3.1v2.97h-3.1zM611.6 220.2h3.1v2.97h-3.1zM611.6 223.92h3.1v2.97h-3.1zM611.6 227.64h3.1v2.97h-3.1zM611.6 231.36h3.1v2.97h-3.1zM611.6 238.8h3.1v2.97h-3.1zM618.4 216.48h3.1v2.97h-3.1zM618.4 220.2h3.1v2.97h-3.1zM618.4 223.92h3.1v2.97h-3.1zM618.4 227.64h3.1v2.97h-3.1zM618.4 231.36h3.1v2.97h-3.1zM618.4 235.08h3.1v2.97h-3.1zM618.4 238.8h3.1v2.97h-3.1zM618.4 242.52h3.1v2.97h-3.1zM618.4 246.24h3.1v2.97h-3.1zM618.4 249.96h3.1v2.97h-3.1zM618.4 253.68h3.1v2.97h-3.1zM618.4 257.4h3.1v2.97h-3.1zM618.4 261.12h3.1v2.97h-3.1zM618.4 294.6h3.1v2.97h-3.1zM618.4 298.32h3.1v2.97h-3.1zM618.4 302.04h3.1v2.97h-3.1zM618.4 309.48h3.1v2.97h-3.1zM618.4 313.2h3.1v2.97h-3.1zM618.4 316.92h3.1v2.97h-3.1zM622.25 220.2h3.1v2.97h-3.1zM622.25 223.92h3.1v2.97h-3.1zM622.25 227.64h3.1v2.97h-3.1zM622.25 231.36h3.1v2.97h-3.1zM622.25 235.08h3.1v2.97h-3.1zM622.25 238.8h3.1v2.97h-3.1zM622.25 242.52h3.1v2.97h-3.1zM622.25 246.24h3.1v2.97h-3.1zM622.25 249.96h3.1v2.97h-3.1zM622.25 253.68h3.1v2.97h-3.1zM622.25 257.4h3.1v2.97h-3.1zM622.25 261.12h3.1v2.97h-3.1zM622.25 264.84h3.1v2.97h-3.1zM622.25 268.56h3.1v2.97h-3.1zM622.25 272.28h3.1v2.97h-3.1zM622.25 276h3.1v2.97h-3.1zM622.25 279.72h3.1v2.97h-3.1zM622.25 287.16h3.1v2.97h-3.1zM622.25 290.88h3.1v2.97h-3.1zM622.25 294.6h3.1v2.97h-3.1zM622.25 298.32h3.1v2.97h-3.1zM622.25 302.04h3.1v2.97h-3.1zM622.25 305.76h3.1v2.97h-3.1zM622.25 309.48h3.1v2.97h-3.1zM622.25 313.2h3.1v2.97h-3.1zM626.1 223.92h3.1v2.97h-3.1zM626.1 227.64h3.1v2.97h-3.1zM626.1 231.36h3.1v2.97h-3.1zM626.1 235.08h3.1v2.97h-3.1zM626.1 238.8h3.1v2.97h-3.1zM626.1 242.52h3.1v2.97h-3.1zM626.1 246.24h3.1v2.97h-3.1zM626.1 249.96h3.1v2.97h-3.1zM626.1 253.68h3.1v2.97h-3.1zM626.1 257.4h3.1v2.97h-3.1zM626.1 261.12h3.1v2.97h-3.1zM626.1 264.84h3.1v2.97h-3.1zM626.1 268.56h3.1v2.97h-3.1zM626.1 272.28h3.1v2.97h-3.1zM626.1 276h3.1v2.97h-3.1zM626.1 279.72h3.1v2.97h-3.1zM626.1 283.44h3.1v2.97h-3.1zM626.1 287.16h3.1v2.97h-3.1zM626.1 290.88h3.1v2.97h-3.1zM626.1 294.6h3.1v2.97h-3.1zM626.1 298.32h3.1v2.97h-3.1zM626.1 302.04h3.1v2.97h-3.1zM626.1 305.76h3.1v2.97h-3.1zM626.1 309.48h3.1v2.97h-3.1zM629.95 227.64h3.1v2.97h-3.1zM629.95 231.36h3.1v2.97h-3.1zM629.95 235.08h3.1v2.97h-3.1zM629.95 238.8h3.1v2.97h-3.1zM629.95 242.52h3.1v2.97h-3.1zM629.95 246.24h3.1v2.97h-3.1zM629.95 249.96h3.1v2.97h-3.1zM629.95 253.68h3.1v2.97h-3.1zM629.95 257.4h3.1v2.97h-3.1zM629.95 261.12h3.1v2.97h-3.1zM629.95 264.84h3.1v2.97h-3.1zM629.95 268.56h3.1v2.97h-3.1zM629.95 272.28h3.1v2.97h-3.1zM629.95 276h3.1v2.97h-3.1zM629.95 279.72h3.1v2.97h-3.1zM629.95 283.44h3.1v2.97h-3.1zM629.95 287.16h3.1v2.97h-3.1zM629.95 290.88h3.1v2.97h-3.1zM629.95 294.6h3.1v2.97h-3.1zM629.95 298.32h3.1v2.97h-3.1zM629.95 302.04h3.1v2.97h-3.1zM633.8 235.08h3.1v2.97h-3.1zM633.8 238.8h3.1v2.97h-3.1zM633.8 242.52h3.1v2.97h-3.1zM633.8 246.24h3.1v2.97h-3.1zM633.8 249.96h3.1v2.97h-3.1zM633.8 253.68h3.1v2.97h-3.1zM633.8 257.4h3.1v2.97h-3.1zM633.8 261.12h3.1v2.97h-3.1zM633.8 264.84h3.1v2.97h-3.1zM633.8 268.56h3.1v2.97h-3.1zM633.8 272.28h3.1v2.97h-3.1zM633.8 276h3.1v2.97h-3.1zM633.8 279.72h3.1v2.97h-3.1zM633.8 283.44h3.1v2.97h-3.1zM633.8 287.16h3.1v2.97h-3.1zM633.8 290.88h3.1v2.97h-3.1zM633.8 294.6h3.1v2.97h-3.1zM633.8 298.32h3.1v2.97h-3.1zM637.65 238.8h3.1v2.97h-3.1zM637.65 242.52h3.1v2.97h-3.1zM637.65 246.24h3.1v2.97h-3.1zM637.65 249.96h3.1v2.97h-3.1zM637.65 253.68h3.1v2.97h-3.1zM637.65 257.4h3.1v2.97h-3.1zM637.65 261.12h3.1v2.97h-3.1zM637.65 264.84h3.1v2.97h-3.1zM637.65 268.56h3.1v2.97h-3.1zM637.65 272.28h3.1v2.97h-3.1zM637.65 276h3.1v2.97h-3.1zM637.65 279.72h3.1v2.97h-3.1zM637.65 283.44h3.1v2.97h-3.1zM637.65 287.16h3.1v2.97h-3.1zM641.5 257.4h3.1v2.97h-3.1zM641.5 261.12h3.1v2.97h-3.1zM641.5 264.84h3.1v2.97h-3.1zM641.5 268.56h3.1v2.97h-3.1zM641.5 272.28h3.1v2.97h-3.1z"/><path fill="#deea7e" d="M532.55 287.16h3.1v2.97h-3.1zM536.4 268.56h3.1v2.97h-3.1zM536.4 290.88h3.1v2.97h-3.1zM543.2 238.8h3.1v2.97h-3.1zM547.05 231.36h3.1v2.97h-3.1zM554.75 227.64h3.1v2.97h-3.1zM562.45 212.76h3.1v2.97h-3.1zM562.45 216.48h3.1v2.97h-3.1zM562.45 324.36h3.1v2.97h-3.1zM574 212.76h3.1v2.97h-3.1zM580.8 209.04h3.1v2.97h-3.1zM580.8 212.76h3.1v2.97h-3.1zM596.2 220.2h3.1v2.97h-3.1zM596.2 324.36h3.1v2.97h-3.1zM603.9 223.92h3.1v2.97h-3.1zM618.4 290.88h3.1v2.97h-3.1zM622.25 283.44h3.1v2.97h-3.1z"/><path fill="#d8e472" d="M536.4 257.4h3.1v2.97h-3.1zM536.4 287.16h3.1v2.97h-3.1zM558.6 324.36h3.1v2.97h-3.1zM570.15 324.36h3.1v2.97h-3.1zM592.35 220.2h3.1v2.97h-3.1zM596.2 223.92h3.1v2.97h-3.1zM618.4 279.72h3.1v2.97h-3.1z"/><path fill="#d2e46c" d="M536.4 261.12h3.1v2.97h-3.1zM543.2 242.52h3.1v2.97h-3.1zM543.2 253.68h3.1v2.97h-3.1zM547.05 238.8h3.1v2.97h-3.1zM547.05 242.52h3.1v2.97h-3.1zM550.9 320.64h3.1v2.97h-3.1zM554.75 231.36h3.1v2.97h-3.1zM570.15 220.2h3.1v2.97h-3.1zM580.8 220.2h3.1v2.97h-3.1zM596.2 227.64h3.1v2.97h-3.1zM600.05 320.64h3.1v2.97h-3.1zM603.9 231.36h3.1v2.97h-3.1zM607.75 242.52h3.1v2.97h-3.1zM611.6 246.24h3.1v2.97h-3.1zM611.6 316.92h3.1v2.97h-3.1zM618.4 264.84h3.1v2.97h-3.1z"/><path fill="#deea78" d="M536.4 264.84h3.1v2.97h-3.1zM607.75 235.08h3.1v2.97h-3.1zM618.4 305.76h3.1v2.97h-3.1z"/><path fill="#cce46c" d="M536.4 272.28h3.1v2.97h-3.1zM536.4 279.72h3.1v2.97h-3.1zM543.2 257.4h3.1v2.97h-3.1zM547.05 235.08h3.1v2.97h-3.1zM558.6 227.64h3.1v2.97h-3.1zM558.6 320.64h3.1v2.97h-3.1zM562.45 220.2h3.1v2.97h-3.1zM566.3 220.2h3.1v2.97h-3.1zM584.65 328.08h3.1v2.97h-3.1zM588.5 223.92h3.1v2.97h-3.1zM588.5 324.36h3.1v2.97h-3.1zM607.75 320.64h3.1v2.97h-3.1zM611.6 242.52h3.1v2.97h-3.1zM611.6 313.2h3.1v2.97h-3.1zM618.4 268.56h3.1v2.97h-3.1zM618.4 283.44h3.1v2.97h-3.1z"/><path fill="#cce466" d="M536.4 276h3.1v2.97h-3.1zM536.4 283.44h3.1v2.97h-3.1zM543.2 302.04h3.1v2.97h-3.1zM543.2 305.76h3.1v2.97h-3.1zM547.05 316.92h3.1v2.97h-3.1zM554.75 320.64h3.1v2.97h-3.1zM607.75 316.92h3.1v2.97h-3.1zM611.6 249.96h3.1v2.97h-3.1zM611.6 309.48h3.1v2.97h-3.1zM618.4 272.28h3.1v2.97h-3.1zM618.4 287.16h3.1v2.97h-3.1z"/><path fill="#d8e478" d="M536.4 298.32h3.1v2.97h-3.1zM543.2 313.2h3.1v2.97h-3.1zM558.6 220.2h3.1v2.97h-3.1zM566.3 216.48h3.1v2.97h-3.1zM574 216.48h3.1v2.97h-3.1zM580.8 216.48h3.1v2.97h-3.1z"/><path fill="#d8ea78" d="M536.4 302.04h3.1v2.97h-3.1zM543.2 246.24h3.1v2.97h-3.1zM550.9 231.36h3.1v2.97h-3.1zM584.65 212.76h3.1v2.97h-3.1zM584.65 324.36h3.1v2.97h-3.1zM588.5 220.2h3.1v2.97h-3.1zM588.5 328.08h3.1v2.97h-3.1zM607.75 231.36h3.1v2.97h-3.1zM611.6 235.08h3.1v2.97h-3.1zM618.4 276h3.1v2.97h-3.1z"/><path fill="#d2e472" d="M543.2 249.96h3.1v2.97h-3.1zM550.9 227.64h3.1v2.97h-3.1zM550.9 316.92h3.1v2.97h-3.1zM558.6 223.92h3.1v2.97h-3.1zM566.3 324.36h3.1v2.97h-3.1zM570.15 216.48h3.1v2.97h-3.1zM592.35 324.36h3.1v2.97h-3.1zM600.05 223.92h3.1v2.97h-3.1zM603.9 227.64h3.1v2.97h-3.1zM603.9 320.64h3.1v2.97h-3.1zM607.75 238.8h3.1v2.97h-3.1zM611.6 253.68h3.1v2.97h-3.1z"/><path fill="#c6de66" d="M543.2 261.12h3.1v2.97h-3.1zM543.2 264.84h3.1v2.97h-3.1zM543.2 298.32h3.1v2.97h-3.1zM543.2 309.48h3.1v2.97h-3.1zM547.05 313.2h3.1v2.97h-3.1zM562.45 227.64h3.1v2.97h-3.1zM566.3 223.92h3.1v2.97h-3.1zM584.65 220.2h3.1v2.97h-3.1zM584.65 223.92h3.1v2.97h-3.1zM600.05 227.64h3.1v2.97h-3.1zM600.05 231.36h3.1v2.97h-3.1zM607.75 249.96h3.1v2.97h-3.1zM607.75 313.2h3.1v2.97h-3.1zM611.6 257.4h3.1v2.97h-3.1z"/><path fill="#aed860" d="M543.2 268.56h3.1v2.97h-3.1zM547.05 253.68h3.1v2.97h-3.1zM547.05 302.04h3.1v2.97h-3.1zM570.15 231.36h3.1v2.97h-3.1zM607.75 261.12h3.1v2.97h-3.1zM607.75 309.48h3.1v2.97h-3.1zM611.6 276h3.1v2.97h-3.1zM611.6 287.16h3.1v2.97h-3.1z"/><path fill="#b4d860" d="M543.2 272.28h3.1v2.97h-3.1zM547.05 298.32h3.1v2.97h-3.1zM550.9 246.24h3.1v2.97h-3.1zM554.75 242.52h3.1v2.97h-3.1zM554.75 316.92h3.1v2.97h-3.1zM562.45 231.36h3.1v2.97h-3.1zM570.15 223.92h3.1v2.97h-3.1zM580.8 223.92h3.1v2.97h-3.1zM584.65 227.64h3.1v2.97h-3.1zM596.2 231.36h3.1v2.97h-3.1zM596.2 235.08h3.1v2.97h-3.1zM600.05 242.52h3.1v2.97h-3.1zM603.9 305.76h3.1v2.97h-3.1zM607.75 257.4h3.1v2.97h-3.1zM611.6 294.6h3.1v2.97h-3.1z"/><path fill="#bad860" d="M543.2 276h3.1v2.97h-3.1zM547.05 257.4h3.1v2.97h-3.1zM554.75 235.08h3.1v2.97h-3.1zM566.3 227.64h3.1v2.97h-3.1zM574 223.92h3.1v2.97h-3.1zM588.5 227.64h3.1v2.97h-3.1zM592.35 227.64h3.1v2.97h-3.1zM592.35 231.36h3.1v2.97h-3.1zM607.75 246.24h3.1v2.97h-3.1zM607.75 253.68h3.1v2.97h-3.1zM611.6 302.04h3.1v2.97h-3.1z"/><path fill="#a2cc60" d="M543.2 279.72h3.1v2.97h-3.1zM543.2 283.44h3.1v2.97h-3.1zM547.05 264.84h3.1v2.97h-3.1zM550.9 305.76h3.1v2.97h-3.1zM558.6 235.08h3.1v2.97h-3.1zM558.6 313.2h3.1v2.97h-3.1zM558.6 316.92h3.1v2.97h-3.1zM562.45 235.08h3.1v2.97h-3.1zM562.45 320.64h3.1v2.97h-3.1zM566.3 235.08h3.1v2.97h-3.1zM574 324.36h3.1v2.97h-3.1zM596.2 316.92h3.1v2.97h-3.1zM600.05 309.48h3.1v2.97h-3.1zM600.05 313.2h3.1v2.97h-3.1zM611.6 272.28h3.1v2.97h-3.1z"/><path fill="#a8d260" d="M543.2 287.16h3.1v2.97h-3.1zM547.05 249.96h3.1v2.97h-3.1zM547.05 261.12h3.1v2.97h-3.1zM547.05 294.6h3.1v2.97h-3.1zM554.75 313.2h3.1v2.97h-3.1zM558.6 242.52h3.1v2.97h-3.1zM566.3 231.36h3.1v2.97h-3.1zM580.8 231.36h3.1v2.97h-3.1zM596.2 320.64h3.1v2.97h-3.1zM600.05 238.8h3.1v2.97h-3.1zM600.05 316.92h3.1v2.97h-3.1zM603.9 249.96h3.1v2.97h-3.1zM607.75 264.84h3.1v2.97h-3.1zM607.75 294.6h3.1v2.97h-3.1zM607.75 298.32h3.1v2.97h-3.1zM611.6 268.56h3.1v2.97h-3.1zM611.6 279.72h3.1v2.97h-3.1z"/><path fill="#c0de60" d="M543.2 290.88h3.1v2.97h-3.1zM547.05 246.24h3.1v2.97h-3.1zM550.9 235.08h3.1v2.97h-3.1zM550.9 238.8h3.1v2.97h-3.1zM550.9 313.2h3.1v2.97h-3.1zM554.75 238.8h3.1v2.97h-3.1zM562.45 223.92h3.1v2.97h-3.1zM603.9 238.8h3.1v2.97h-3.1zM603.9 316.92h3.1v2.97h-3.1zM607.75 305.76h3.1v2.97h-3.1zM611.6 264.84h3.1v2.97h-3.1zM611.6 290.88h3.1v2.97h-3.1zM611.6 298.32h3.1v2.97h-3.1z"/><path fill="#aed260" d="M543.2 294.6h3.1v2.97h-3.1zM547.05 268.56h3.1v2.97h-3.1zM547.05 305.76h3.1v2.97h-3.1zM550.9 242.52h3.1v2.97h-3.1zM550.9 253.68h3.1v2.97h-3.1zM558.6 231.36h3.1v2.97h-3.1zM558.6 238.8h3.1v2.97h-3.1zM570.15 227.64h3.1v2.97h-3.1zM596.2 238.8h3.1v2.97h-3.1zM600.05 235.08h3.1v2.97h-3.1zM603.9 242.52h3.1v2.97h-3.1zM603.9 246.24h3.1v2.97h-3.1zM603.9 309.48h3.1v2.97h-3.1zM607.75 302.04h3.1v2.97h-3.1zM611.6 261.12h3.1v2.97h-3.1z"/><path fill="#96c660" d="M547.05 272.28h3.1v2.97h-3.1zM547.05 287.16h3.1v2.97h-3.1zM574 231.36h3.1v2.97h-3.1zM588.5 235.08h3.1v2.97h-3.1zM592.35 320.64h3.1v2.97h-3.1zM596.2 242.52h3.1v2.97h-3.1zM600.05 246.24h3.1v2.97h-3.1zM603.9 257.4h3.1v2.97h-3.1zM607.75 272.28h3.1v2.97h-3.1z"/><path fill="#9ccc60" d="M547.05 276h3.1v2.97h-3.1zM547.05 290.88h3.1v2.97h-3.1zM550.9 249.96h3.1v2.97h-3.1zM550.9 261.12h3.1v2.97h-3.1zM550.9 294.6h3.1v2.97h-3.1zM550.9 298.32h3.1v2.97h-3.1zM550.9 302.04h3.1v2.97h-3.1zM550.9 309.48h3.1v2.97h-3.1zM554.75 246.24h3.1v2.97h-3.1zM554.75 305.76h3.1v2.97h-3.1zM554.75 309.48h3.1v2.97h-3.1zM566.3 320.64h3.1v2.97h-3.1zM570.15 320.64h3.1v2.97h-3.1zM574 227.64h3.1v2.97h-3.1zM580.8 227.64h3.1v2.97h-3.1zM580.8 235.08h3.1v2.97h-3.1zM580.8 320.64h3.1v2.97h-3.1zM580.8 324.36h3.1v2.97h-3.1zM592.35 235.08h3.1v2.97h-3.1zM592.35 316.92h3.1v2.97h-3.1zM596.2 313.2h3.1v2.97h-3.1zM603.9 298.32h3.1v2.97h-3.1zM603.9 302.04h3.1v2.97h-3.1zM607.75 268.56h3.1v2.97h-3.1zM607.75 276h3.1v2.97h-3.1z"/><path fill="#90c65a" d="M547.05 279.72h3.1v2.97h-3.1zM558.6 305.76h3.1v2.97h-3.1zM562.45 313.2h3.1v2.97h-3.1zM566.3 316.92h3.1v2.97h-3.1zM574 238.8h3.1v2.97h-3.1zM592.35 238.8h3.1v2.97h-3.1zM592.35 242.52h3.1v2.97h-3.1zM592.35 313.2h3.1v2.97h-3.1zM600.05 302.04h3.1v2.97h-3.1zM603.9 264.84h3.1v2.97h-3.1zM607.75 283.44h3.1v2.97h-3.1zM607.75 287.16h3.1v2.97h-3.1z"/><path fill="#8ac05a" d="M547.05 283.44h3.1v2.97h-3.1zM550.9 257.4h3.1v2.97h-3.1zM554.75 253.68h3.1v2.97h-3.1zM558.6 253.68h3.1v2.97h-3.1zM566.3 313.2h3.1v2.97h-3.1zM588.5 242.52h3.1v2.97h-3.1zM600.05 249.96h3.1v2.97h-3.1zM600.05 257.4h3.1v2.97h-3.1z"/><path fill="#c0d860" d="M547.05 309.48h3.1v2.97h-3.1zM592.35 223.92h3.1v2.97h-3.1zM603.9 313.2h3.1v2.97h-3.1zM611.6 283.44h3.1v2.97h-3.1zM611.6 305.76h3.1v2.97h-3.1z"/><path fill="#90c660" d="M550.9 264.84h3.1v2.97h-3.1zM558.6 249.96h3.1v2.97h-3.1zM562.45 238.8h3.1v2.97h-3.1zM574 235.08h3.1v2.97h-3.1zM584.65 231.36h3.1v2.97h-3.1zM584.65 235.08h3.1v2.97h-3.1zM603.9 253.68h3.1v2.97h-3.1zM603.9 261.12h3.1v2.97h-3.1zM603.9 294.6h3.1v2.97h-3.1zM607.75 279.72h3.1v2.97h-3.1zM607.75 290.88h3.1v2.97h-3.1z"/><path fill="#7eba5a" d="M550.9 268.56h3.1v2.97h-3.1zM550.9 283.44h3.1v2.97h-3.1zM550.9 290.88h3.1v2.97h-3.1zM554.75 290.88h3.1v2.97h-3.1zM554.75 302.04h3.1v2.97h-3.1zM566.3 309.48h3.1v2.97h-3.1zM570.15 238.8h3.1v2.97h-3.1zM574 320.64h3.1v2.97h-3.1zM588.5 309.48h3.1v2.97h-3.1zM596.2 302.04h3.1v2.97h-3.1zM596.2 305.76h3.1v2.97h-3.1zM596.2 309.48h3.1v2.97h-3.1zM603.9 287.16h3.1v2.97h-3.1z"/><path fill="#78ba5a" d="M550.9 272.28h3.1v2.97h-3.1zM550.9 279.72h3.1v2.97h-3.1zM554.75 283.44h3.1v2.97h-3.1zM554.75 294.6h3.1v2.97h-3.1zM554.75 298.32h3.1v2.97h-3.1zM558.6 302.04h3.1v2.97h-3.1zM562.45 249.96h3.1v2.97h-3.1zM562.45 305.76h3.1v2.97h-3.1zM566.3 246.24h3.1v2.97h-3.1zM596.2 294.6h3.1v2.97h-3.1zM600.05 272.28h3.1v2.97h-3.1zM600.05 298.32h3.1v2.97h-3.1zM603.9 268.56h3.1v2.97h-3.1z"/><path fill="#84c05a" d="M550.9 276h3.1v2.97h-3.1zM554.75 249.96h3.1v2.97h-3.1zM554.75 261.12h3.1v2.97h-3.1zM554.75 264.84h3.1v2.97h-3.1zM558.6 309.48h3.1v2.97h-3.1zM562.45 316.92h3.1v2.97h-3.1zM566.3 238.8h3.1v2.97h-3.1zM566.3 242.52h3.1v2.97h-3.1zM570.15 235.08h3.1v2.97h-3.1zM570.15 242.52h3.1v2.97h-3.1zM570.15 316.92h3.1v2.97h-3.1zM580.8 238.8h3.1v2.97h-3.1zM584.65 238.8h3.1v2.97h-3.1zM584.65 316.92h3.1v2.97h-3.1zM588.5 316.92h3.1v2.97h-3.1zM596.2 246.24h3.1v2.97h-3.1zM596.2 253.68h3.1v2.97h-3.1zM600.05 253.68h3.1v2.97h-3.1zM600.05 305.76h3.1v2.97h-3.1zM603.9 272.28h3.1v2.97h-3.1zM603.9 276h3.1v2.97h-3.1zM603.9 279.72h3.1v2.97h-3.1zM603.9 283.44h3.1v2.97h-3.1zM603.9 290.88h3.1v2.97h-3.1z"/><path fill="#96cc60" d="M550.9 287.16h3.1v2.97h-3.1zM562.45 242.52h3.1v2.97h-3.1zM588.5 231.36h3.1v2.97h-3.1z"/><path fill="#7ec05a" d="M554.75 257.4h3.1v2.97h-3.1zM558.6 246.24h3.1v2.97h-3.1zM588.5 238.8h3.1v2.97h-3.1zM600.05 268.56h3.1v2.97h-3.1z"/><path fill="#72b45a" d="M554.75 268.56h3.1v2.97h-3.1zM558.6 257.4h3.1v2.97h-3.1zM558.6 298.32h3.1v2.97h-3.1zM562.45 309.48h3.1v2.97h-3.1zM566.3 249.96h3.1v2.97h-3.1zM570.15 313.2h3.1v2.97h-3.1zM574 242.52h3.1v2.97h-3.1zM574 316.92h3.1v2.97h-3.1zM580.8 242.52h3.1v2.97h-3.1zM580.8 309.48h3.1v2.97h-3.1zM580.8 313.2h3.1v2.97h-3.1zM584.65 242.52h3.1v2.97h-3.1zM588.5 246.24h3.1v2.97h-3.1zM588.5 313.2h3.1v2.97h-3.1zM592.35 257.4h3.1v2.97h-3.1zM592.35 309.48h3.1v2.97h-3.1zM596.2 261.12h3.1v2.97h-3.1zM600.05 261.12h3.1v2.97h-3.1zM600.05 294.6h3.1v2.97h-3.1z"/><path fill="#78b45a" d="M554.75 272.28h3.1v2.97h-3.1zM554.75 279.72h3.1v2.97h-3.1zM558.6 264.84h3.1v2.97h-3.1zM562.45 246.24h3.1v2.97h-3.1zM580.8 316.92h3.1v2.97h-3.1zM592.35 253.68h3.1v2.97h-3.1zM592.35 305.76h3.1v2.97h-3.1zM596.2 249.96h3.1v2.97h-3.1zM600.05 264.84h3.1v2.97h-3.1zM600.05 290.88h3.1v2.97h-3.1z"/><path fill="#6cb45a" d="M554.75 276h3.1v2.97h-3.1zM566.3 305.76h3.1v2.97h-3.1zM574 313.2h3.1v2.97h-3.1zM580.8 246.24h3.1v2.97h-3.1zM588.5 253.68h3.1v2.97h-3.1zM596.2 279.72h3.1v2.97h-3.1zM596.2 298.32h3.1v2.97h-3.1z"/><path fill="#66ae5a" d="M554.75 287.16h3.1v2.97h-3.1zM558.6 261.12h3.1v2.97h-3.1zM558.6 294.6h3.1v2.97h-3.1zM562.45 253.68h3.1v2.97h-3.1zM562.45 264.84h3.1v2.97h-3.1zM562.45 298.32h3.1v2.97h-3.1zM562.45 302.04h3.1v2.97h-3.1zM570.15 246.24h3.1v2.97h-3.1zM574 246.24h3.1v2.97h-3.1zM574 249.96h3.1v2.97h-3.1zM584.65 309.48h3.1v2.97h-3.1zM596.2 283.44h3.1v2.97h-3.1zM600.05 283.44h3.1v2.97h-3.1zM600.05 287.16h3.1v2.97h-3.1z"/><path fill="#60a85a" d="M558.6 268.56h3.1v2.97h-3.1zM558.6 279.72h3.1v2.97h-3.1zM562.45 257.4h3.1v2.97h-3.1zM566.3 257.4h3.1v2.97h-3.1zM566.3 302.04h3.1v2.97h-3.1zM570.15 249.96h3.1v2.97h-3.1zM570.15 253.68h3.1v2.97h-3.1zM570.15 302.04h3.1v2.97h-3.1zM570.15 309.48h3.1v2.97h-3.1zM584.65 249.96h3.1v2.97h-3.1zM584.65 302.04h3.1v2.97h-3.1zM584.65 305.76h3.1v2.97h-3.1zM588.5 249.96h3.1v2.97h-3.1zM588.5 261.12h3.1v2.97h-3.1zM588.5 305.76h3.1v2.97h-3.1zM592.35 294.6h3.1v2.97h-3.1zM596.2 264.84h3.1v2.97h-3.1zM596.2 290.88h3.1v2.97h-3.1z"/><path fill="#6cae5a" d="M558.6 272.28h3.1v2.97h-3.1zM558.6 290.88h3.1v2.97h-3.1zM574 309.48h3.1v2.97h-3.1zM580.8 305.76h3.1v2.97h-3.1zM584.65 246.24h3.1v2.97h-3.1zM584.65 313.2h3.1v2.97h-3.1zM588.5 302.04h3.1v2.97h-3.1zM592.35 249.96h3.1v2.97h-3.1zM592.35 298.32h3.1v2.97h-3.1zM592.35 302.04h3.1v2.97h-3.1zM596.2 257.4h3.1v2.97h-3.1zM600.05 279.72h3.1v2.97h-3.1z"/><path fill="#54a25a" d="M558.6 276h3.1v2.97h-3.1zM558.6 283.44h3.1v2.97h-3.1zM562.45 268.56h3.1v2.97h-3.1zM562.45 279.72h3.1v2.97h-3.1zM562.45 287.16h3.1v2.97h-3.1zM566.3 253.68h3.1v2.97h-3.1zM566.3 264.84h3.1v2.97h-3.1zM570.15 257.4h3.1v2.97h-3.1zM574 305.76h3.1v2.97h-3.1zM580.8 298.32h3.1v2.97h-3.1zM588.5 290.88h3.1v2.97h-3.1zM592.35 261.12h3.1v2.97h-3.1zM592.35 268.56h3.1v2.97h-3.1zM592.35 276h3.1v2.97h-3.1zM596.2 276h3.1v2.97h-3.1z"/><path fill="#5aa25a" d="M558.6 287.16h3.1v2.97h-3.1z"/><path fill="#5aa85a" d="M562.45 261.12h3.1v2.97h-3.1zM562.45 272.28h3.1v2.97h-3.1zM566.3 298.32h3.1v2.97h-3.1zM574 253.68h3.1v2.97h-3.1zM580.8 249.96h3.1v2.97h-3.1zM580.8 253.68h3.1v2.97h-3.1zM588.5 257.4h3.1v2.97h-3.1zM592.35 264.84h3.1v2.97h-3.1zM596.2 268.56h3.1v2.97h-3.1zM596.2 272.28h3.1v2.97h-3.1zM596.2 287.16h3.1v2.97h-3.1z"/><path fill="#489c5a" d="M562.45 276h3.1v2.97h-3.1zM566.3 268.56h3.1v2.97h-3.1zM570.15 264.84h3.1v2.97h-3.1zM570.15 290.88h3.1v2.97h-3.1zM574 298.32h3.1v2.97h-3.1zM574 302.04h3.1v2.97h-3.1zM584.65 261.12h3.1v2.97h-3.1zM592.35 287.16h3.1v2.97h-3.1z"/><path fill="#489654" d="M562.45 283.44h3.1v2.97h-3.1zM580.8 294.6h3.1v2.97h-3.1zM588.5 264.84h3.1v2.97h-3.1zM588.5 294.6h3.1v2.97h-3.1z"/><path fill="#4e9c5a" d="M562.45 290.88h3.1v2.97h-3.1zM562.45 294.6h3.1v2.97h-3.1zM566.3 290.88h3.1v2.97h-3.1zM566.3 294.6h3.1v2.97h-3.1zM570.15 298.32h3.1v2.97h-3.1zM574 261.12h3.1v2.97h-3.1zM580.8 257.4h3.1v2.97h-3.1zM580.8 302.04h3.1v2.97h-3.1zM584.65 253.68h3.1v2.97h-3.1zM584.65 294.6h3.1v2.97h-3.1zM588.5 268.56h3.1v2.97h-3.1zM588.5 283.44h3.1v2.97h-3.1zM588.5 298.32h3.1v2.97h-3.1zM592.35 272.28h3.1v2.97h-3.1zM592.35 279.72h3.1v2.97h-3.1zM592.35 290.88h3.1v2.97h-3.1z"/><path fill="#489c54" d="M566.3 261.12h3.1v2.97h-3.1zM566.3 272.28h3.1v2.97h-3.1zM566.3 279.72h3.1v2.97h-3.1zM566.3 283.44h3.1v2.97h-3.1zM570.15 261.12h3.1v2.97h-3.1zM574 257.4h3.1v2.97h-3.1zM580.8 261.12h3.1v2.97h-3.1zM584.65 257.4h3.1v2.97h-3.1zM588.5 287.16h3.1v2.97h-3.1zM592.35 283.44h3.1v2.97h-3.1z"/><path fill="#3c9054" d="M566.3 276h3.1v2.97h-3.1zM570.15 268.56h3.1v2.97h-3.1zM570.15 287.16h3.1v2.97h-3.1zM574 290.88h3.1v2.97h-3.1zM574 294.6h3.1v2.97h-3.1zM580.8 264.84h3.1v2.97h-3.1zM584.65 272.28h3.1v2.97h-3.1zM584.65 279.72h3.1v2.97h-3.1zM588.5 272.28h3.1v2.97h-3.1zM588.5 276h3.1v2.97h-3.1zM588.5 279.72h3.1v2.97h-3.1z"/><path fill="#429654" d="M566.3 287.16h3.1v2.97h-3.1zM570.15 272.28h3.1v2.97h-3.1zM570.15 294.6h3.1v2.97h-3.1zM574 264.84h3.1v2.97h-3.1zM584.65 264.84h3.1v2.97h-3.1zM584.65 268.56h3.1v2.97h-3.1zM584.65 276h3.1v2.97h-3.1zM584.65 287.16h3.1v2.97h-3.1zM584.65 290.88h3.1v2.97h-3.1zM584.65 298.32h3.1v2.97h-3.1z"/><path fill="#308a54" d="M570.15 276h3.1v2.97h-3.1zM574 287.16h3.1v2.97h-3.1zM580.8 279.72h3.1v2.97h-3.1z"/><path fill="#429054" d="M570.15 279.72h3.1v2.97h-3.1z"/><path fill="#369054" d="M570.15 283.44h3.1v2.97h-3.1zM580.8 268.56h3.1v2.97h-3.1zM580.8 283.44h3.1v2.97h-3.1zM584.65 283.44h3.1v2.97h-3.1z"/><path fill="#66a85a" d="M570.15 305.76h3.1v2.97h-3.1zM600.05 276h3.1v2.97h-3.1z"/><path fill="#c6de60" d="M574 220.2h3.1v2.97h-3.1z"/><path fill="#368a54" d="M574 268.56h3.1v2.97h-3.1zM574 279.72h3.1v2.97h-3.1zM580.8 272.28h3.1v2.97h-3.1zM580.8 290.88h3.1v2.97h-3.1z"/><path fill="#308454" d="M574 272.28h3.1v2.97h-3.1zM574 276h3.1v2.97h-3.1zM580.8 276h3.1v2.97h-3.1zM580.8 287.16h3.1v2.97h-3.1z"/><path fill="#2a8454" d="M574 283.44h3.1v2.97h-3.1z"/><path fill="#8ac65a" d="M584.65 320.64h3.1v2.97h-3.1zM588.5 320.64h3.1v2.97h-3.1zM592.35 246.24h3.1v2.97h-3.1z"/><path fill="#e4ea7e" d="M588.5 216.48h3.1v2.97h-3.1z"/><path fill="#ccde66" d="M600.05 324.36h3.1v2.97h-3.1zM603.9 235.08h3.1v2.97h-3.1z"/><path fill="#f0fcf0" d="M532.77 224.08h2.6v2.6h-2.6zM532.77 231.52h2.6v2.6h-2.6zM532.77 238.96h2.6v2.6h-2.6zM532.77 246.4h2.6v2.6h-2.6zM532.77 253.84h2.6v2.6h-2.6zM532.77 261.28h2.6v2.6h-2.6zM532.77 268.72h2.6v2.6h-2.6zM532.77 276.16h2.6v2.6h-2.6zM532.77 283.6h2.6v2.6h-2.6zM532.77 291.04h2.6v2.6h-2.6zM532.77 298.48h2.6v2.6h-2.6zM532.77 305.92h2.6v2.6h-2.6zM551.12 209.2h2.6v2.6h-2.6zM551.12 216.64h2.6v2.6h-2.6zM551.12 224.08h2.6v2.6h-2.6zM551.12 231.52h2.6v2.6h-2.6zM551.12 238.96h2.6v2.6h-2.6zM551.12 246.4h2.6v2.6h-2.6zM551.12 253.84h2.6v2.6h-2.6zM551.12 261.28h2.6v2.6h-2.6zM551.12 268.72h2.6v2.6h-2.6zM551.12 276.16h2.6v2.6h-2.6zM551.12 283.6h2.6v2.6h-2.6zM551.12 291.04h2.6v2.6h-2.6zM551.12 298.48h2.6v2.6h-2.6zM551.12 305.92h2.6v2.6h-2.6zM551.12 313.36h2.6v2.6h-2.6zM551.12 320.8h2.6v2.6h-2.6zM570.38 209.2h2.6v2.6h-2.6zM570.38 216.64h2.6v2.6h-2.6zM570.38 224.08h2.6v2.6h-2.6zM570.38 231.52h2.6v2.6h-2.6zM570.38 238.96h2.6v2.6h-2.6zM570.38 246.4h2.6v2.6h-2.6zM570.38 253.84h2.6v2.6h-2.6zM570.38 261.28h2.6v2.6h-2.6zM570.38 268.72h2.6v2.6h-2.6zM570.38 276.16h2.6v2.6h-2.6zM570.38 283.6h2.6v2.6h-2.6zM570.38 291.04h2.6v2.6h-2.6zM570.38 298.48h2.6v2.6h-2.6zM570.38 305.92h2.6v2.6h-2.6zM570.38 313.36h2.6v2.6h-2.6zM570.38 320.8h2.6v2.6h-2.6zM588.73 209.2h2.6v2.6h-2.6zM588.73 216.64h2.6v2.6h-2.6zM588.73 224.08h2.6v2.6h-2.6zM588.73 231.52h2.6v2.6h-2.6zM588.73 238.96h2.6v2.6h-2.6zM588.73 246.4h2.6v2.6h-2.6zM588.73 253.84h2.6v2.6h-2.6zM588.73 261.28h2.6v2.6h-2.6zM588.73 268.72h2.6v2.6h-2.6zM588.73 276.16h2.6v2.6h-2.6zM588.73 283.6h2.6v2.6h-2.6zM588.73 291.04h2.6v2.6h-2.6zM588.73 298.48h2.6v2.6h-2.6zM588.73 305.92h2.6v2.6h-2.6zM588.73 313.36h2.6v2.6h-2.6zM588.73 320.8h2.6v2.6h-2.6zM588.73 328.24h2.6v2.6h-2.6zM607.98 216.64h2.6v2.6h-2.6zM607.98 224.08h2.6v2.6h-2.6zM607.98 231.52h2.6v2.6h-2.6zM607.98 238.96h2.6v2.6h-2.6zM607.98 246.4h2.6v2.6h-2.6zM607.98 253.84h2.6v2.6h-2.6zM607.98 261.28h2.6v2.6h-2.6zM607.98 268.72h2.6v2.6h-2.6zM607.98 276.16h2.6v2.6h-2.6zM607.98 283.6h2.6v2.6h-2.6zM607.98 291.04h2.6v2.6h-2.6zM607.98 298.48h2.6v2.6h-2.6zM607.98 305.92h2.6v2.6h-2.6zM607.98 313.36h2.6v2.6h-2.6zM607.98 320.8h2.6v2.6h-2.6zM626.33 224.08h2.6v2.6h-2.6zM626.33 231.52h2.6v2.6h-2.6zM626.33 238.96h2.6v2.6h-2.6zM626.33 246.4h2.6v2.6h-2.6zM626.33 253.84h2.6v2.6h-2.6zM626.33 261.28h2.6v2.6h-2.6zM626.33 268.72h2.6v2.6h-2.6zM626.33 276.16h2.6v2.6h-2.6zM626.33 283.6h2.6v2.6h-2.6zM626.33 291.04h2.6v2.6h-2.6zM626.33 298.48h2.6v2.6h-2.6zM626.33 305.92h2.6v2.6h-2.6z"/></g><defs><linearGradient id="cb" x1="0" y1="1" x2="0" y2="0"><stop offset="0.00" stop-color="#287a54"/><stop offset="0.10" stop-color="#388758"/><stop offset="0.20" stop-color="#48945d"/><stop offset="0.30" stop-color="#5ea464"/><stop offset="0.40" stop-color="#7ab66e"/><stop offset="0.50" stop-color="#96c878"/><stop offset="0.60" stop-color="#acd37e"/><stop offset="0.70" stop-color="#c2de84"/><stop offset="0.80" stop-color="#d4e788"/><stop offset="0.90" stop-color="#e2ec8a"/><stop offset="1.00" stop-color="#f0f28c"/></linearGradient></defs><rect x="666.5" y="189.5" width="6" height="153.5" fill="url(#cb)" stroke="#3a3a3a" stroke-width="0.8"/><line x1="666.5" y1="191.0" x2="668" y2="191.0" stroke="#555" stroke-width="0.6"/><text x="674" y="193.1" font-family="Liberation Sans" font-size="7.6" fill="#5a5a5a">0.18</text><line x1="666.5" y1="208.2" x2="668" y2="208.2" stroke="#555" stroke-width="0.6"/><text x="674" y="210.3" font-family="Liberation Sans" font-size="7.6" fill="#5a5a5a">0.16</text><line x1="666.5" y1="225.5" x2="668" y2="225.5" stroke="#555" stroke-width="0.6"/><text x="674" y="227.6" font-family="Liberation Sans" font-size="7.6" fill="#5a5a5a">0.14</text><line x1="666.5" y1="242.8" x2="668" y2="242.8" stroke="#555" stroke-width="0.6"/><text x="674" y="244.8" font-family="Liberation Sans" font-size="7.6" fill="#5a5a5a">0.12</text><line x1="666.5" y1="260.0" x2="668" y2="260.0" stroke="#555" stroke-width="0.6"/><text x="674" y="262.1" font-family="Liberation Sans" font-size="7.6" fill="#5a5a5a">0.1</text><line x1="666.5" y1="277.2" x2="668" y2="277.2" stroke="#555" stroke-width="0.6"/><text x="674" y="279.4" font-family="Liberation Sans" font-size="7.6" fill="#5a5a5a">0.08</text><line x1="666.5" y1="294.5" x2="668" y2="294.5" stroke="#555" stroke-width="0.6"/><text x="674" y="296.6" font-family="Liberation Sans" font-size="7.6" fill="#5a5a5a">0.06</text><line x1="666.5" y1="311.8" x2="668" y2="311.8" stroke="#555" stroke-width="0.6"/><text x="674" y="313.9" font-family="Liberation Sans" font-size="7.6" fill="#5a5a5a">0.04</text><line x1="666.5" y1="329.0" x2="668" y2="329.0" stroke="#555" stroke-width="0.6"/><text x="674" y="331.1" font-family="Liberation Sans" font-size="7.6" fill="#5a5a5a">0.02</text><line x1="692.8" y1="150" x2="692.8" y2="183.5" stroke="#d6d6d6" stroke-width="1"/><line x1="692.6" y1="346" x2="692.6" y2="352" stroke="#dadada" stroke-width="1"/><polyline points="496.5,326 525.5,326 525.5,345.3 496.5,345.3" fill="#fff" stroke="#8a8a8a" stroke-width="0.9"/><text x="497" y="334.2" font-family="Liberation Sans" font-size="7.2" fill="#444" textLength="26">eak error</text><text x="497" y="342.6" font-family="Liberation Sans" font-size="7.2" fill="#444">ax: EIE</text></svg>
</body></html>
